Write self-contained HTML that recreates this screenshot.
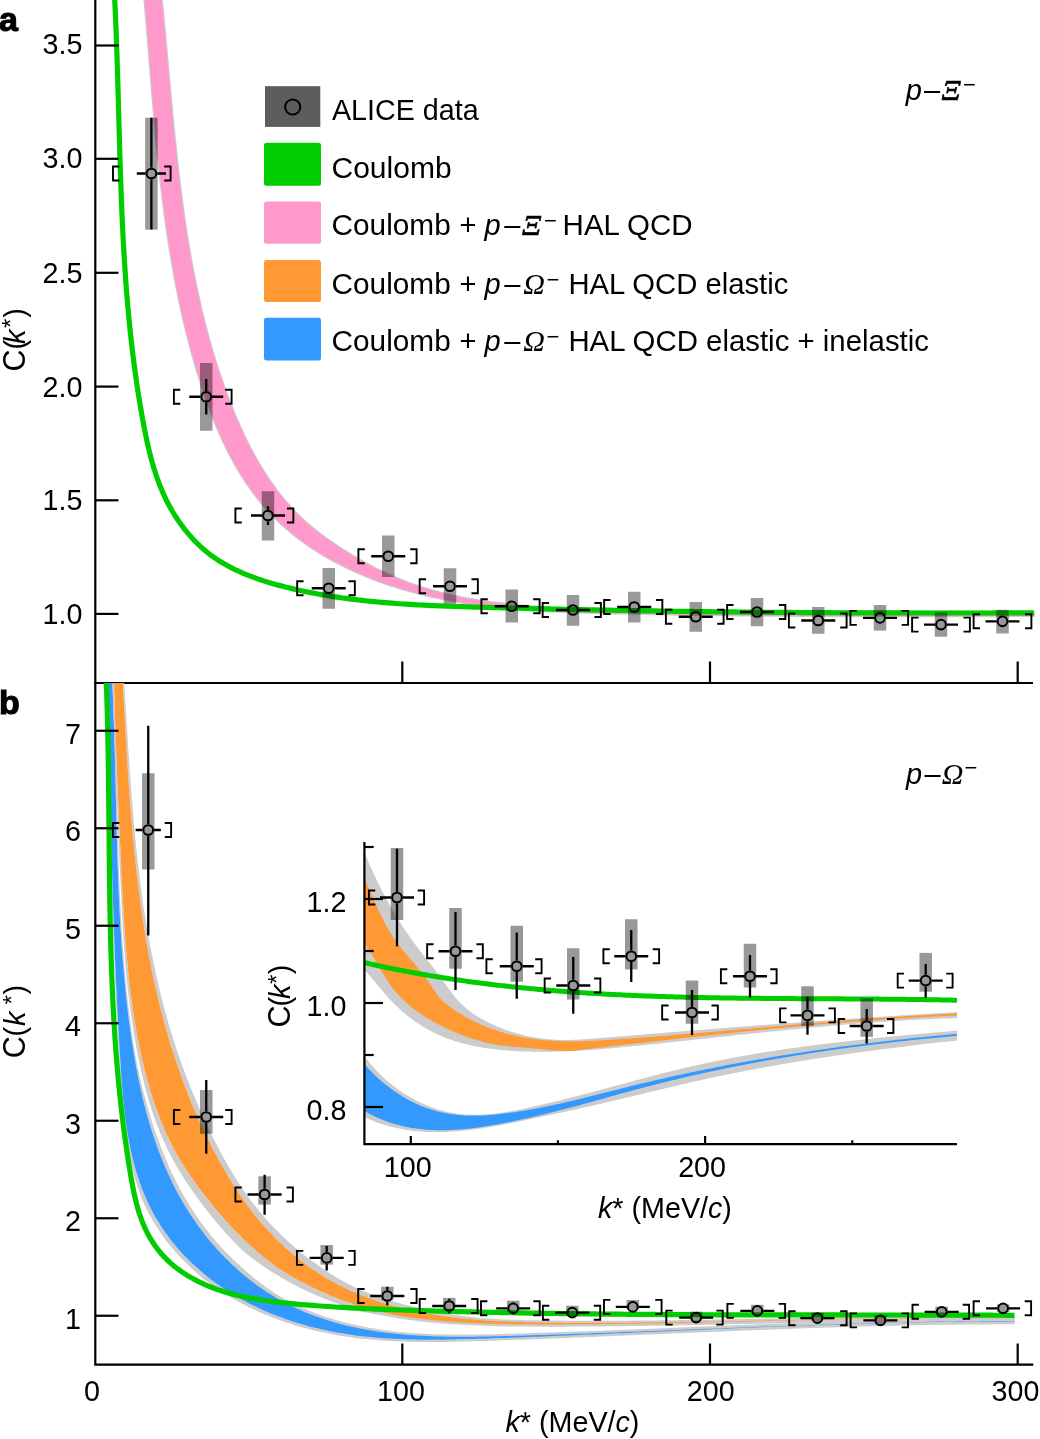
<!DOCTYPE html><html><head><meta charset="utf-8"><style>html,body{margin:0;padding:0;background:#fff;width:1040px;height:1439px;overflow:hidden}svg{display:block;will-change:transform}svg{font-family:"Liberation Sans",sans-serif}</style></head><body>
<svg width="1040" height="1439" viewBox="0 0 1040 1439">
<defs><clipPath id="ca"><rect x="96" y="0" width="944" height="682"/></clipPath><clipPath id="cb"><rect x="96" y="683" width="918.5" height="681"/></clipPath><clipPath id="ci"><rect x="365" y="842" width="592" height="301"/></clipPath></defs>
<g clip-path="url(#ca)">
<path d="M160.18,-14.87 L160.65,-10.53 L161.10,-6.19 L161.55,-1.84 L161.99,2.51 L162.43,6.86 L162.86,11.21 L163.28,15.57 L163.71,19.94 L164.12,24.30 L164.54,28.67 L164.94,33.04 L165.35,37.41 L165.76,41.78 L166.16,46.16 L166.56,50.54 L166.95,54.92 L167.35,59.30 L167.75,63.69 L168.14,68.07 L168.54,72.46 L168.94,76.85 L169.33,81.24 L169.73,85.63 L170.13,90.02 L170.54,94.41 L170.94,98.80 L171.35,103.19 L171.76,107.59 L172.18,111.98 L172.59,116.37 L173.02,120.77 L173.45,125.16 L173.88,129.55 L174.32,133.95 L174.76,138.34 L175.22,142.73 L175.68,147.12 L176.14,151.51 L176.62,155.90 L177.10,160.29 L177.59,164.67 L178.09,169.06 L178.59,173.44 L179.11,177.82 L179.64,182.20 L180.18,186.58 L180.73,190.96 L181.29,195.33 L181.86,199.70 L182.44,204.07 L183.04,208.44 L183.65,212.80 L184.27,217.16 L184.91,221.52 L185.56,225.88 L186.22,230.23 L186.90,234.58 L187.60,238.92 L188.31,243.27 L189.04,247.60 L189.78,251.94 L190.54,256.27 L191.31,260.59 L192.11,264.92 L192.92,269.23 L193.75,273.55 L194.60,277.86 L195.47,282.16 L196.36,286.46 L197.27,290.76 L198.20,295.05 L199.14,299.33 L200.12,303.61 L201.11,307.88 L202.12,312.15 L203.16,316.41 L204.22,320.67 L205.30,324.92 L206.41,329.17 L207.54,333.40 L208.69,337.64 L209.87,341.86 L211.07,346.08 L212.30,350.29 L213.56,354.50 L214.84,358.70 L216.15,362.89 L217.48,367.07 L218.85,371.25 L220.24,375.42 L221.66,379.58 L223.11,383.74 L224.59,387.89 L226.09,392.02 L227.63,396.16 L229.20,400.28 L230.79,404.39 L232.42,408.50 L234.09,412.59 L235.79,416.67 L237.52,420.73 L239.29,424.78 L241.10,428.81 L242.95,432.82 L244.85,436.81 L246.78,440.78 L248.76,444.73 L250.78,448.65 L252.85,452.54 L254.97,456.41 L257.13,460.25 L259.35,464.05 L261.61,467.83 L263.93,471.57 L266.31,475.27 L268.74,478.93 L271.22,482.56 L273.77,486.14 L276.37,489.68 L279.03,493.17 L281.75,496.61 L284.53,499.99 L287.37,503.32 L290.28,506.58 L293.25,509.79 L296.28,512.93 L299.38,516.00 L302.54,519.00 L305.77,521.95 L309.05,524.83 L312.39,527.65 L315.79,530.41 L319.23,533.12 L322.72,535.77 L326.26,538.37 L329.85,540.92 L333.47,543.42 L337.14,545.88 L340.84,548.30 L344.57,550.67 L348.34,553.00 L352.13,555.30 L355.95,557.55 L359.80,559.77 L363.68,561.95 L367.58,564.08 L371.50,566.16 L375.45,568.19 L379.42,570.18 L383.41,572.10 L387.42,573.97 L391.46,575.79 L395.51,577.54 L399.59,579.23 L403.68,580.85 L407.78,582.41 L411.91,583.91 L416.05,585.34 L420.21,586.71 L424.38,588.03 L428.57,589.29 L432.78,590.49 L436.99,591.64 L441.22,592.73 L445.47,593.78 L449.72,594.78 L453.99,595.72 L458.27,596.63 L462.56,597.48 L466.87,598.30 L471.18,599.07 L475.50,599.80 L479.83,600.49 L484.17,601.15 L488.52,601.77 L492.87,602.35 L497.23,602.91 L501.60,603.43 L505.98,603.92 L510.36,604.38 L514.74,604.82 L519.13,605.24 L523.53,605.62 L527.92,605.99 L532.32,606.34 L536.73,606.67 L541.13,606.98 L545.54,607.27 L549.95,607.55 L554.36,607.82 L558.77,608.08 L563.18,608.33 L567.58,608.56 L571.99,608.79 L576.40,609.01 L580.81,609.22 L585.21,609.43 L589.62,609.62 L594.02,609.81 L598.43,609.98 L602.83,610.15 L607.24,610.32 L611.64,610.47 L616.04,610.62 L620.45,610.76 L624.85,610.89 L629.25,611.02 L633.65,611.13 L638.05,611.25 L642.45,611.35 L646.86,611.45 L651.26,611.54 L655.66,611.63 L660.06,611.71 L664.46,611.79 L668.85,611.85 L673.25,611.92 L677.65,611.98 L682.05,612.03 L686.45,612.08 L690.85,612.12 L695.25,612.16 L699.64,612.19 L704.04,612.22 L708.44,612.25 L712.83,612.27 L717.23,612.29 L721.63,612.30 L726.02,612.31 L730.42,612.32 L734.82,612.32 L739.21,612.32 L743.61,612.32 L748.01,612.31 L752.40,612.30 L756.80,612.29 L761.19,612.28 L765.59,612.26 L769.98,612.24 L774.38,612.22 L778.78,612.20 L783.17,612.18 L787.57,612.15 L791.96,612.13 L796.36,612.10 L800.75,612.07 L805.15,612.04 L809.54,612.01 L813.94,611.98 L818.34,611.95 L822.73,611.92 L827.13,611.89 L831.52,611.86 L835.92,611.82 L840.32,611.79 L844.71,611.76 L849.11,611.73 L853.51,611.70 L857.90,611.68 L862.30,611.65 L866.70,611.62 L871.09,611.60 L875.49,611.58 L879.89,611.56 L884.29,611.54 L888.69,611.52 L893.08,611.51 L897.48,611.49 L901.88,611.48 L906.28,611.48 L910.68,611.47 L915.08,611.47 L919.48,611.47 L923.88,611.48 L928.28,611.48 L932.68,611.50 L937.08,611.51 L941.48,611.53 L945.88,611.55 L950.29,611.58 L954.69,611.61 L959.09,611.65 L963.50,611.69 L967.90,611.74 L972.30,611.79 L976.71,611.84 L981.11,611.91 L985.52,611.97 L989.93,612.04 L994.33,612.12 L998.74,612.21 L1003.15,612.30 L1007.55,612.39 L1011.96,612.49 L1016.37,612.60 L1020.78,612.72 L1025.19,612.84 L1029.60,612.97 L1034.01,613.11 L1034.02,615.95 L1029.51,615.96 L1025.01,615.98 L1020.51,615.99 L1016.01,616.01 L1011.51,616.02 L1007.01,616.03 L1002.51,616.05 L998.02,616.06 L993.53,616.07 L989.03,616.08 L984.54,616.09 L980.05,616.10 L975.56,616.11 L971.07,616.12 L966.58,616.13 L962.10,616.14 L957.61,616.15 L953.13,616.16 L948.64,616.16 L944.16,616.17 L939.68,616.18 L935.20,616.18 L930.72,616.18 L926.24,616.19 L921.76,616.19 L917.28,616.19 L912.80,616.19 L908.33,616.19 L903.85,616.19 L899.38,616.19 L894.90,616.19 L890.43,616.18 L885.95,616.18 L881.48,616.17 L877.01,616.17 L872.53,616.16 L868.06,616.15 L863.59,616.14 L859.12,616.13 L854.65,616.12 L850.18,616.11 L845.71,616.10 L841.24,616.08 L836.77,616.06 L832.30,616.05 L827.83,616.03 L823.36,616.01 L818.89,615.99 L814.42,615.97 L809.95,615.94 L805.49,615.92 L801.02,615.89 L796.55,615.87 L792.08,615.84 L787.61,615.81 L783.14,615.77 L778.67,615.74 L774.20,615.71 L769.73,615.67 L765.26,615.63 L760.79,615.59 L756.32,615.55 L751.85,615.51 L747.38,615.47 L742.91,615.42 L738.44,615.38 L733.96,615.33 L729.49,615.28 L725.02,615.22 L720.54,615.17 L716.07,615.12 L711.60,615.06 L707.12,615.00 L702.64,614.94 L698.17,614.88 L693.69,614.81 L689.21,614.75 L684.73,614.68 L680.25,614.61 L675.77,614.53 L671.29,614.46 L666.81,614.38 L662.33,614.31 L657.84,614.23 L653.36,614.14 L648.87,614.06 L644.39,613.97 L639.90,613.89 L635.41,613.80 L630.92,613.70 L626.43,613.61 L621.94,613.51 L617.45,613.41 L612.95,613.31 L608.46,613.21 L603.96,613.10 L599.46,612.99 L594.97,612.87 L590.47,612.75 L585.97,612.62 L581.47,612.49 L576.97,612.34 L572.48,612.19 L567.98,612.02 L563.48,611.84 L558.99,611.65 L554.50,611.45 L550.01,611.23 L545.52,611.00 L541.03,610.75 L536.54,610.48 L532.06,610.20 L527.58,609.89 L523.10,609.57 L518.63,609.22 L514.16,608.85 L509.69,608.46 L505.23,608.04 L500.77,607.60 L496.32,607.13 L491.87,606.64 L487.42,606.12 L482.98,605.57 L478.55,604.99 L474.12,604.37 L469.70,603.73 L465.28,603.06 L460.87,602.35 L456.46,601.60 L452.06,600.82 L447.67,600.00 L443.28,599.15 L438.91,598.26 L434.54,597.33 L430.17,596.35 L425.82,595.34 L421.47,594.28 L417.13,593.18 L412.80,592.04 L408.48,590.85 L404.17,589.62 L399.87,588.34 L395.57,587.01 L391.29,585.63 L387.02,584.20 L382.76,582.72 L378.53,581.20 L374.30,579.62 L370.10,577.99 L365.92,576.31 L361.76,574.57 L357.63,572.79 L353.52,570.95 L349.44,569.05 L345.38,567.10 L341.36,565.10 L337.37,563.04 L333.42,560.92 L329.50,558.75 L325.61,556.52 L321.77,554.24 L317.96,551.89 L314.20,549.49 L310.48,547.02 L306.81,544.50 L303.18,541.91 L299.61,539.27 L296.08,536.56 L292.60,533.79 L289.18,530.96 L285.81,528.06 L282.50,525.10 L279.25,522.08 L276.06,518.99 L272.93,515.84 L269.86,512.62 L266.85,509.34 L263.91,505.99 L261.03,502.59 L258.22,499.13 L255.47,495.62 L252.78,492.06 L250.15,488.44 L247.59,484.78 L245.09,481.08 L242.66,477.33 L240.29,473.54 L237.97,469.71 L235.72,465.84 L233.53,461.94 L231.39,458.00 L229.31,454.03 L227.28,450.03 L225.30,446.00 L223.37,441.95 L221.49,437.86 L219.66,433.75 L217.87,429.62 L216.13,425.46 L214.43,421.29 L212.77,417.09 L211.15,412.88 L209.56,408.65 L208.02,404.41 L206.50,400.16 L205.02,395.90 L203.58,391.63 L202.16,387.35 L200.77,383.06 L199.41,378.77 L198.07,374.47 L196.76,370.17 L195.48,365.86 L194.23,361.55 L193.00,357.24 L191.79,352.91 L190.61,348.59 L189.46,344.26 L188.33,339.92 L187.22,335.58 L186.14,331.24 L185.08,326.89 L184.04,322.54 L183.03,318.18 L182.03,313.82 L181.06,309.45 L180.11,305.08 L179.18,300.71 L178.27,296.33 L177.38,291.95 L176.51,287.57 L175.66,283.18 L174.83,278.79 L174.02,274.40 L173.23,270.00 L172.45,265.60 L171.69,261.19 L170.95,256.78 L170.23,252.37 L169.52,247.96 L168.82,243.54 L168.15,239.12 L167.48,234.70 L166.84,230.28 L166.21,225.85 L165.59,221.42 L164.98,216.99 L164.39,212.55 L163.81,208.12 L163.25,203.68 L162.69,199.24 L162.15,194.79 L161.62,190.35 L161.10,185.90 L160.59,181.45 L160.10,177.00 L159.61,172.55 L159.13,168.09 L158.66,163.64 L158.20,159.18 L157.75,154.72 L157.30,150.26 L156.87,145.80 L156.44,141.34 L156.02,136.87 L155.60,132.41 L155.19,127.95 L154.79,123.48 L154.39,119.01 L154.00,114.55 L153.61,110.08 L153.23,105.61 L152.85,101.14 L152.47,96.67 L152.10,92.20 L151.73,87.73 L151.36,83.26 L151.00,78.79 L150.63,74.32 L150.27,69.85 L149.91,65.38 L149.55,60.91 L149.19,56.44 L148.83,51.97 L148.47,47.50 L148.11,43.04 L147.74,38.57 L147.38,34.10 L147.01,29.63 L146.64,25.17 L146.27,20.71 L145.90,16.24 L145.52,11.78 L145.14,7.32 L144.75,2.86 L144.36,-1.60 L143.96,-6.06 L143.56,-10.51 L143.15,-14.97 Z" fill="#cccccc" stroke="#cccccc" stroke-width="2.2" stroke-linejoin="round"/>
<path d="M160.18,-14.87 L160.65,-10.53 L161.10,-6.19 L161.55,-1.84 L161.99,2.51 L162.43,6.86 L162.86,11.21 L163.28,15.57 L163.71,19.94 L164.12,24.30 L164.54,28.67 L164.94,33.04 L165.35,37.41 L165.76,41.78 L166.16,46.16 L166.56,50.54 L166.95,54.92 L167.35,59.30 L167.75,63.69 L168.14,68.07 L168.54,72.46 L168.94,76.85 L169.33,81.24 L169.73,85.63 L170.13,90.02 L170.54,94.41 L170.94,98.80 L171.35,103.19 L171.76,107.59 L172.18,111.98 L172.59,116.37 L173.02,120.77 L173.45,125.16 L173.88,129.55 L174.32,133.95 L174.76,138.34 L175.22,142.73 L175.68,147.12 L176.14,151.51 L176.62,155.90 L177.10,160.29 L177.59,164.67 L178.09,169.06 L178.59,173.44 L179.11,177.82 L179.64,182.20 L180.18,186.58 L180.73,190.96 L181.29,195.33 L181.86,199.70 L182.44,204.07 L183.04,208.44 L183.65,212.80 L184.27,217.16 L184.91,221.52 L185.56,225.88 L186.22,230.23 L186.90,234.58 L187.60,238.92 L188.31,243.27 L189.04,247.60 L189.78,251.94 L190.54,256.27 L191.31,260.59 L192.11,264.92 L192.92,269.23 L193.75,273.55 L194.60,277.86 L195.47,282.16 L196.36,286.46 L197.27,290.76 L198.20,295.05 L199.14,299.33 L200.12,303.61 L201.11,307.88 L202.12,312.15 L203.16,316.41 L204.22,320.67 L205.30,324.92 L206.41,329.17 L207.54,333.40 L208.69,337.64 L209.87,341.86 L211.07,346.08 L212.30,350.29 L213.56,354.50 L214.84,358.70 L216.15,362.89 L217.48,367.07 L218.85,371.25 L220.24,375.42 L221.66,379.58 L223.11,383.74 L224.59,387.89 L226.09,392.02 L227.63,396.16 L229.20,400.28 L230.79,404.39 L232.42,408.50 L234.09,412.59 L235.79,416.67 L237.52,420.73 L239.29,424.78 L241.10,428.81 L242.95,432.82 L244.85,436.81 L246.78,440.78 L248.76,444.73 L250.78,448.65 L252.85,452.54 L254.97,456.41 L257.13,460.25 L259.35,464.05 L261.61,467.83 L263.93,471.57 L266.31,475.27 L268.74,478.93 L271.22,482.56 L273.77,486.14 L276.37,489.68 L279.03,493.17 L281.75,496.61 L284.53,499.99 L287.37,503.32 L290.28,506.58 L293.25,509.79 L296.28,512.93 L299.38,516.00 L302.54,519.00 L305.77,521.95 L309.05,524.83 L312.39,527.65 L315.79,530.41 L319.23,533.12 L322.72,535.77 L326.26,538.37 L329.85,540.92 L333.47,543.42 L337.14,545.88 L340.84,548.30 L344.57,550.67 L348.34,553.00 L352.13,555.30 L355.95,557.55 L359.80,559.77 L363.68,561.95 L367.58,564.08 L371.50,566.16 L375.45,568.19 L379.42,570.18 L383.41,572.10 L387.42,573.97 L391.46,575.79 L395.51,577.54 L399.59,579.23 L403.68,580.85 L407.78,582.41 L411.91,583.91 L416.05,585.34 L420.21,586.71 L424.38,588.03 L428.57,589.29 L432.78,590.49 L436.99,591.64 L441.22,592.73 L445.47,593.78 L449.72,594.78 L453.99,595.72 L458.27,596.63 L462.56,597.48 L466.87,598.30 L471.18,599.07 L475.50,599.80 L479.83,600.49 L484.17,601.15 L488.52,601.77 L492.87,602.35 L497.23,602.91 L501.60,603.43 L505.98,603.92 L510.36,604.38 L514.74,604.82 L519.13,605.24 L523.53,605.62 L527.92,605.99 L532.32,606.34 L536.73,606.67 L541.13,606.98 L545.54,607.27 L549.95,607.55 L554.36,607.82 L558.77,608.08 L563.18,608.33 L567.58,608.56 L571.99,608.79 L576.40,609.01 L580.81,609.22 L585.21,609.43 L589.62,609.62 L594.02,609.81 L598.43,609.98 L602.83,610.15 L607.24,610.32 L611.64,610.47 L616.04,610.62 L620.45,610.76 L624.85,610.89 L629.25,611.02 L633.65,611.13 L638.05,611.25 L642.45,611.35 L646.86,611.45 L651.26,611.54 L655.66,611.63 L660.06,611.71 L664.46,611.79 L668.85,611.85 L673.25,611.92 L677.65,611.98 L682.05,612.03 L686.45,612.08 L690.85,612.12 L695.25,612.16 L699.64,612.19 L704.04,612.22 L708.44,612.25 L712.83,612.27 L717.23,612.29 L721.63,612.30 L726.02,612.31 L730.42,612.32 L734.82,612.32 L739.21,612.32 L743.61,612.32 L748.01,612.31 L752.40,612.30 L756.80,612.29 L761.19,612.28 L765.59,612.26 L769.98,612.24 L774.38,612.22 L778.78,612.20 L783.17,612.18 L787.57,612.15 L791.96,612.13 L796.36,612.10 L800.75,612.07 L805.15,612.04 L809.54,612.01 L813.94,611.98 L818.34,611.95 L822.73,611.92 L827.13,611.89 L831.52,611.86 L835.92,611.82 L840.32,611.79 L844.71,611.76 L849.11,611.73 L853.51,611.70 L857.90,611.68 L862.30,611.65 L866.70,611.62 L871.09,611.60 L875.49,611.58 L879.89,611.56 L884.29,611.54 L888.69,611.52 L893.08,611.51 L897.48,611.49 L901.88,611.48 L906.28,611.48 L910.68,611.47 L915.08,611.47 L919.48,611.47 L923.88,611.48 L928.28,611.48 L932.68,611.50 L937.08,611.51 L941.48,611.53 L945.88,611.55 L950.29,611.58 L954.69,611.61 L959.09,611.65 L963.50,611.69 L967.90,611.74 L972.30,611.79 L976.71,611.84 L981.11,611.91 L985.52,611.97 L989.93,612.04 L994.33,612.12 L998.74,612.21 L1003.15,612.30 L1007.55,612.39 L1011.96,612.49 L1016.37,612.60 L1020.78,612.72 L1025.19,612.84 L1029.60,612.97 L1034.01,613.11 L1034.02,615.95 L1029.51,615.96 L1025.01,615.98 L1020.51,615.99 L1016.01,616.01 L1011.51,616.02 L1007.01,616.03 L1002.51,616.05 L998.02,616.06 L993.53,616.07 L989.03,616.08 L984.54,616.09 L980.05,616.10 L975.56,616.11 L971.07,616.12 L966.58,616.13 L962.10,616.14 L957.61,616.15 L953.13,616.16 L948.64,616.16 L944.16,616.17 L939.68,616.18 L935.20,616.18 L930.72,616.18 L926.24,616.19 L921.76,616.19 L917.28,616.19 L912.80,616.19 L908.33,616.19 L903.85,616.19 L899.38,616.19 L894.90,616.19 L890.43,616.18 L885.95,616.18 L881.48,616.17 L877.01,616.17 L872.53,616.16 L868.06,616.15 L863.59,616.14 L859.12,616.13 L854.65,616.12 L850.18,616.11 L845.71,616.10 L841.24,616.08 L836.77,616.06 L832.30,616.05 L827.83,616.03 L823.36,616.01 L818.89,615.99 L814.42,615.97 L809.95,615.94 L805.49,615.92 L801.02,615.89 L796.55,615.87 L792.08,615.84 L787.61,615.81 L783.14,615.77 L778.67,615.74 L774.20,615.71 L769.73,615.67 L765.26,615.63 L760.79,615.59 L756.32,615.55 L751.85,615.51 L747.38,615.47 L742.91,615.42 L738.44,615.38 L733.96,615.33 L729.49,615.28 L725.02,615.22 L720.54,615.17 L716.07,615.12 L711.60,615.06 L707.12,615.00 L702.64,614.94 L698.17,614.88 L693.69,614.81 L689.21,614.75 L684.73,614.68 L680.25,614.61 L675.77,614.53 L671.29,614.46 L666.81,614.38 L662.33,614.31 L657.84,614.23 L653.36,614.14 L648.87,614.06 L644.39,613.97 L639.90,613.89 L635.41,613.80 L630.92,613.70 L626.43,613.61 L621.94,613.51 L617.45,613.41 L612.95,613.31 L608.46,613.21 L603.96,613.10 L599.46,612.99 L594.97,612.87 L590.47,612.75 L585.97,612.62 L581.47,612.49 L576.97,612.34 L572.48,612.19 L567.98,612.02 L563.48,611.84 L558.99,611.65 L554.50,611.45 L550.01,611.23 L545.52,611.00 L541.03,610.75 L536.54,610.48 L532.06,610.20 L527.58,609.89 L523.10,609.57 L518.63,609.22 L514.16,608.85 L509.69,608.46 L505.23,608.04 L500.77,607.60 L496.32,607.13 L491.87,606.64 L487.42,606.12 L482.98,605.57 L478.55,604.99 L474.12,604.37 L469.70,603.73 L465.28,603.06 L460.87,602.35 L456.46,601.60 L452.06,600.82 L447.67,600.00 L443.28,599.15 L438.91,598.26 L434.54,597.33 L430.17,596.35 L425.82,595.34 L421.47,594.28 L417.13,593.18 L412.80,592.04 L408.48,590.85 L404.17,589.62 L399.87,588.34 L395.57,587.01 L391.29,585.63 L387.02,584.20 L382.76,582.72 L378.53,581.20 L374.30,579.62 L370.10,577.99 L365.92,576.31 L361.76,574.57 L357.63,572.79 L353.52,570.95 L349.44,569.05 L345.38,567.10 L341.36,565.10 L337.37,563.04 L333.42,560.92 L329.50,558.75 L325.61,556.52 L321.77,554.24 L317.96,551.89 L314.20,549.49 L310.48,547.02 L306.81,544.50 L303.18,541.91 L299.61,539.27 L296.08,536.56 L292.60,533.79 L289.18,530.96 L285.81,528.06 L282.50,525.10 L279.25,522.08 L276.06,518.99 L272.93,515.84 L269.86,512.62 L266.85,509.34 L263.91,505.99 L261.03,502.59 L258.22,499.13 L255.47,495.62 L252.78,492.06 L250.15,488.44 L247.59,484.78 L245.09,481.08 L242.66,477.33 L240.29,473.54 L237.97,469.71 L235.72,465.84 L233.53,461.94 L231.39,458.00 L229.31,454.03 L227.28,450.03 L225.30,446.00 L223.37,441.95 L221.49,437.86 L219.66,433.75 L217.87,429.62 L216.13,425.46 L214.43,421.29 L212.77,417.09 L211.15,412.88 L209.56,408.65 L208.02,404.41 L206.50,400.16 L205.02,395.90 L203.58,391.63 L202.16,387.35 L200.77,383.06 L199.41,378.77 L198.07,374.47 L196.76,370.17 L195.48,365.86 L194.23,361.55 L193.00,357.24 L191.79,352.91 L190.61,348.59 L189.46,344.26 L188.33,339.92 L187.22,335.58 L186.14,331.24 L185.08,326.89 L184.04,322.54 L183.03,318.18 L182.03,313.82 L181.06,309.45 L180.11,305.08 L179.18,300.71 L178.27,296.33 L177.38,291.95 L176.51,287.57 L175.66,283.18 L174.83,278.79 L174.02,274.40 L173.23,270.00 L172.45,265.60 L171.69,261.19 L170.95,256.78 L170.23,252.37 L169.52,247.96 L168.82,243.54 L168.15,239.12 L167.48,234.70 L166.84,230.28 L166.21,225.85 L165.59,221.42 L164.98,216.99 L164.39,212.55 L163.81,208.12 L163.25,203.68 L162.69,199.24 L162.15,194.79 L161.62,190.35 L161.10,185.90 L160.59,181.45 L160.10,177.00 L159.61,172.55 L159.13,168.09 L158.66,163.64 L158.20,159.18 L157.75,154.72 L157.30,150.26 L156.87,145.80 L156.44,141.34 L156.02,136.87 L155.60,132.41 L155.19,127.95 L154.79,123.48 L154.39,119.01 L154.00,114.55 L153.61,110.08 L153.23,105.61 L152.85,101.14 L152.47,96.67 L152.10,92.20 L151.73,87.73 L151.36,83.26 L151.00,78.79 L150.63,74.32 L150.27,69.85 L149.91,65.38 L149.55,60.91 L149.19,56.44 L148.83,51.97 L148.47,47.50 L148.11,43.04 L147.74,38.57 L147.38,34.10 L147.01,29.63 L146.64,25.17 L146.27,20.71 L145.90,16.24 L145.52,11.78 L145.14,7.32 L144.75,2.86 L144.36,-1.60 L143.96,-6.06 L143.56,-10.51 L143.15,-14.97 Z" fill="#ff99cc"/>
<path d="M113.92,-15.06 L114.12,-11.48 L114.31,-7.90 L114.50,-4.33 L114.68,-0.75 L114.85,2.83 L115.02,6.40 L115.19,9.98 L115.35,13.55 L115.51,17.13 L115.66,20.70 L115.81,24.27 L115.95,27.85 L116.10,31.42 L116.23,34.99 L116.37,38.56 L116.50,42.14 L116.63,45.71 L116.75,49.28 L116.88,52.85 L117.00,56.42 L117.11,59.99 L117.23,63.56 L117.34,67.13 L117.45,70.70 L117.56,74.27 L117.67,77.84 L117.78,81.40 L117.88,84.97 L117.98,88.54 L118.09,92.11 L118.19,95.67 L118.29,99.24 L118.39,102.80 L118.49,106.37 L118.58,109.94 L118.68,113.50 L118.78,117.06 L118.88,120.63 L118.98,124.19 L119.08,127.76 L119.18,131.32 L119.28,134.88 L119.38,138.45 L119.48,142.01 L119.58,145.57 L119.69,149.13 L119.79,152.69 L119.90,156.25 L120.01,159.81 L120.12,163.37 L120.23,166.93 L120.34,170.49 L120.46,174.05 L120.58,177.61 L120.70,181.17 L120.83,184.73 L120.96,188.29 L121.09,191.85 L121.22,195.40 L121.36,198.96 L121.50,202.52 L121.64,206.07 L121.79,209.63 L121.94,213.19 L122.10,216.74 L122.26,220.30 L122.42,223.85 L122.59,227.41 L122.77,230.96 L122.95,234.51 L123.13,238.07 L123.32,241.62 L123.51,245.17 L123.71,248.73 L123.92,252.28 L124.13,255.83 L124.34,259.38 L124.57,262.94 L124.80,266.49 L125.03,270.04 L125.27,273.59 L125.52,277.14 L125.78,280.69 L126.04,284.24 L126.31,287.79 L126.58,291.34 L126.87,294.89 L127.16,298.44 L127.46,301.98 L127.76,305.53 L128.08,309.08 L128.40,312.63 L128.73,316.17 L129.07,319.72 L129.42,323.27 L129.77,326.81 L130.14,330.36 L130.51,333.91 L130.90,337.45 L131.29,341.00 L131.69,344.54 L132.10,348.09 L132.53,351.63 L132.96,355.18 L133.40,358.72 L133.85,362.26 L134.31,365.81 L134.79,369.35 L135.27,372.89 L135.76,376.43 L136.27,379.98 L136.78,383.52 L137.31,387.06 L137.85,390.60 L138.40,394.14 L138.96,397.68 L139.54,401.22 L140.12,404.76 L140.72,408.30 L141.33,411.84 L141.95,415.38 L142.59,418.92 L143.24,422.46 L143.90,426.00 L144.58,429.54 L145.28,433.07 L146.00,436.59 L146.74,440.12 L147.51,443.63 L148.31,447.13 L149.13,450.63 L150.00,454.11 L150.89,457.59 L151.83,461.05 L152.80,464.49 L153.82,467.92 L154.88,471.33 L155.99,474.72 L157.15,478.09 L158.36,481.45 L159.62,484.78 L160.94,488.08 L162.32,491.37 L163.76,494.62 L165.26,497.85 L166.83,501.05 L168.46,504.22 L170.15,507.36 L171.91,510.46 L173.73,513.52 L175.61,516.54 L177.56,519.52 L179.57,522.45 L181.64,525.33 L183.77,528.17 L185.96,530.95 L188.21,533.67 L190.52,536.34 L192.89,538.95 L195.33,541.50 L197.82,543.98 L200.37,546.39 L202.98,548.73 L205.64,551.01 L208.37,553.20 L211.15,555.33 L213.99,557.37 L216.89,559.34 L219.84,561.24 L222.83,563.07 L225.88,564.83 L228.96,566.52 L232.09,568.15 L235.27,569.72 L238.48,571.22 L241.72,572.67 L245.00,574.06 L248.31,575.40 L251.66,576.69 L255.02,577.93 L258.41,579.12 L261.83,580.27 L265.26,581.37 L268.72,582.43 L272.19,583.45 L275.67,584.43 L279.16,585.38 L282.66,586.30 L286.17,587.18 L289.68,588.04 L293.19,588.87 L296.71,589.67 L300.23,590.45 L303.75,591.20 L307.27,591.93 L310.79,592.63 L314.31,593.31 L317.84,593.97 L321.37,594.60 L324.89,595.21 L328.42,595.80 L331.96,596.37 L335.49,596.92 L339.02,597.44 L342.56,597.95 L346.09,598.44 L349.63,598.91 L353.17,599.36 L356.71,599.79 L360.25,600.20 L363.80,600.60 L367.34,600.98 L370.88,601.34 L374.43,601.69 L377.98,602.02 L381.52,602.34 L385.07,602.65 L388.62,602.94 L392.17,603.21 L395.72,603.48 L399.28,603.73 L402.83,603.97 L406.38,604.20 L409.94,604.42 L413.49,604.63 L417.05,604.82 L420.61,605.01 L424.16,605.19 L427.72,605.36 L431.28,605.53 L434.84,605.68 L438.40,605.83 L441.96,605.97 L445.52,606.11 L449.08,606.24 L452.64,606.36 L456.20,606.48 L459.76,606.60 L463.32,606.71 L466.89,606.82 L470.45,606.92 L474.01,607.03 L477.58,607.13 L481.14,607.23 L484.70,607.33 L488.26,607.43 L491.83,607.52 L495.39,607.62 L498.96,607.71 L502.52,607.81 L506.08,607.90 L509.65,607.99 L513.21,608.09 L516.78,608.18 L520.34,608.27 L523.90,608.35 L527.47,608.44 L531.03,608.53 L534.60,608.61 L538.16,608.70 L541.73,608.78 L545.29,608.86 L548.86,608.94 L552.42,609.03 L555.99,609.10 L559.55,609.18 L563.12,609.26 L566.68,609.34 L570.25,609.41 L573.82,609.49 L577.38,609.56 L580.95,609.64 L584.51,609.71 L588.08,609.78 L591.64,609.85 L595.21,609.92 L598.78,609.99 L602.34,610.06 L605.91,610.12 L609.48,610.19 L613.04,610.25 L616.61,610.32 L620.18,610.38 L623.74,610.44 L627.31,610.51 L630.88,610.57 L634.44,610.63 L638.01,610.69 L641.58,610.74 L645.14,610.80 L648.71,610.86 L652.28,610.91 L655.85,610.97 L659.41,611.02 L662.98,611.07 L666.55,611.13 L670.11,611.18 L673.68,611.23 L677.25,611.28 L680.82,611.33 L684.39,611.38 L687.95,611.42 L691.52,611.47 L695.09,611.52 L698.66,611.56 L702.22,611.61 L705.79,611.65 L709.36,611.69 L712.93,611.73 L716.49,611.78 L720.06,611.82 L723.63,611.86 L727.20,611.89 L730.77,611.93 L734.33,611.97 L737.90,612.01 L741.47,612.04 L745.04,612.08 L748.61,612.11 L752.18,612.15 L755.74,612.18 L759.31,612.21 L762.88,612.24 L766.45,612.28 L770.02,612.31 L773.58,612.34 L777.15,612.36 L780.72,612.39 L784.29,612.42 L787.86,612.45 L791.43,612.47 L794.99,612.50 L798.56,612.52 L802.13,612.55 L805.70,612.57 L809.27,612.59 L812.83,612.62 L816.40,612.64 L819.97,612.66 L823.54,612.68 L827.11,612.70 L830.67,612.72 L834.24,612.74 L837.81,612.75 L841.38,612.77 L844.95,612.79 L848.52,612.80 L852.08,612.82 L855.65,612.83 L859.22,612.85 L862.79,612.86 L866.35,612.87 L869.92,612.88 L873.49,612.90 L877.06,612.91 L880.63,612.92 L884.19,612.93 L887.76,612.94 L891.33,612.95 L894.90,612.95 L898.46,612.96 L902.03,612.97 L905.60,612.98 L909.17,612.98 L912.73,612.99 L916.30,612.99 L919.87,613.00 L923.44,613.00 L927.00,613.00 L930.57,613.01 L934.14,613.01 L937.70,613.01 L941.27,613.01 L944.84,613.01 L948.40,613.01 L951.97,613.01 L955.54,613.01 L959.10,613.01 L962.67,613.01 L966.24,613.01 L969.80,613.00 L973.37,613.00 L976.94,613.00 L980.50,612.99 L984.07,612.99 L987.64,612.98 L991.20,612.98 L994.77,612.97 L998.33,612.97 L1001.90,612.96 L1005.46,612.95 L1009.03,612.95 L1012.60,612.94 L1016.16,612.93 L1019.73,612.92 L1023.29,612.91 L1026.86,612.90 L1030.42,612.89 L1033.99,612.88" fill="none" stroke="#00cc00" stroke-width="5.2" stroke-linejoin="round"/>
</g>
<g opacity="0.4"><rect x="145.15" y="117.70" width="12.5" height="111.90" fill="#000"/><circle cx="151.40" cy="173.50" r="4.85" fill="#000"/></g><path d="M119.40,166.50 H113.00 V180.50 H119.40 M164.20,166.50 H170.60 V180.50 H164.20" fill="none" stroke="#000" stroke-width="1.9"/><path d="M136.80,173.50 H145.55 M157.25,173.50 H166.00 M151.40,117.70 V167.65 M151.40,179.35 V229.60" stroke="#000" stroke-width="2.3" fill="none"/><circle cx="151.40" cy="173.50" r="4.85" fill="none" stroke="#000" stroke-width="2"/>
<g opacity="0.4"><rect x="200.00" y="363.00" width="12.5" height="67.75" fill="#000"/><circle cx="206.25" cy="396.75" r="4.85" fill="#000"/></g><path d="M180.30,389.75 H173.90 V403.75 H180.30 M225.20,389.75 H231.60 V403.75 H225.20" fill="none" stroke="#000" stroke-width="1.9"/><path d="M189.25,396.75 H200.40 M212.10,396.75 H223.25 M206.25,379.00 V390.90 M206.25,402.60 V414.50" stroke="#000" stroke-width="2.3" fill="none"/><circle cx="206.25" cy="396.75" r="4.85" fill="none" stroke="#000" stroke-width="2"/>
<g opacity="0.4"><rect x="261.75" y="491.25" width="12.5" height="49.25" fill="#000"/><circle cx="268.00" cy="515.50" r="4.85" fill="#000"/></g><path d="M241.80,508.50 H235.40 V522.50 H241.80 M286.95,508.50 H293.35 V522.50 H286.95" fill="none" stroke="#000" stroke-width="1.9"/><path d="M251.00,515.50 H262.15 M273.85,515.50 H285.00 M268.00,506.25 V509.65 M268.00,521.35 V525.00" stroke="#000" stroke-width="2.3" fill="none"/><circle cx="268.00" cy="515.50" r="4.85" fill="none" stroke="#000" stroke-width="2"/>
<g opacity="0.4"><rect x="322.50" y="568.00" width="12.5" height="40.75" fill="#000"/><circle cx="328.75" cy="588.25" r="4.85" fill="#000"/></g><path d="M303.55,581.25 H297.15 V595.25 H303.55 M348.45,581.25 H354.85 V595.25 H348.45" fill="none" stroke="#000" stroke-width="1.9"/><path d="M311.75,588.25 H322.90 M334.60,588.25 H345.75" stroke="#000" stroke-width="2.3" fill="none"/><circle cx="328.75" cy="588.25" r="4.85" fill="none" stroke="#000" stroke-width="2"/>
<g opacity="0.4"><rect x="382.00" y="535.50" width="12.5" height="41.50" fill="#000"/><circle cx="388.25" cy="556.25" r="4.85" fill="#000"/></g><path d="M364.80,549.25 H358.40 V563.25 H364.80 M410.20,549.25 H416.60 V563.25 H410.20" fill="none" stroke="#000" stroke-width="1.9"/><path d="M371.25,556.25 H382.40 M394.10,556.25 H405.25" stroke="#000" stroke-width="2.3" fill="none"/><circle cx="388.25" cy="556.25" r="4.85" fill="none" stroke="#000" stroke-width="2"/>
<g opacity="0.4"><rect x="443.75" y="568.25" width="12.5" height="35.50" fill="#000"/><circle cx="450.00" cy="586.25" r="4.85" fill="#000"/></g><path d="M426.05,579.25 H419.65 V593.25 H426.05 M471.45,579.25 H477.85 V593.25 H471.45" fill="none" stroke="#000" stroke-width="1.9"/><path d="M433.00,586.25 H444.15 M455.85,586.25 H467.00" stroke="#000" stroke-width="2.3" fill="none"/><circle cx="450.00" cy="586.25" r="4.85" fill="none" stroke="#000" stroke-width="2"/>
<g opacity="0.4"><rect x="505.50" y="589.50" width="12.5" height="33.00" fill="#000"/><circle cx="511.75" cy="606.25" r="4.85" fill="#000"/></g><path d="M487.80,599.25 H481.40 V613.25 H487.80 M533.20,599.25 H539.60 V613.25 H533.20" fill="none" stroke="#000" stroke-width="1.9"/><path d="M494.75,606.25 H505.90 M517.60,606.25 H528.75" stroke="#000" stroke-width="2.3" fill="none"/><circle cx="511.75" cy="606.25" r="4.85" fill="none" stroke="#000" stroke-width="2"/>
<g opacity="0.4"><rect x="566.75" y="595.00" width="12.5" height="30.75" fill="#000"/><circle cx="573.00" cy="610.00" r="4.85" fill="#000"/></g><path d="M549.05,603.00 H542.65 V617.00 H549.05 M594.45,603.00 H600.85 V617.00 H594.45" fill="none" stroke="#000" stroke-width="1.9"/><path d="M556.00,610.00 H567.15 M578.85,610.00 H590.00" stroke="#000" stroke-width="2.3" fill="none"/><circle cx="573.00" cy="610.00" r="4.85" fill="none" stroke="#000" stroke-width="2"/>
<g opacity="0.4"><rect x="628.00" y="591.75" width="12.5" height="30.75" fill="#000"/><circle cx="634.25" cy="607.00" r="4.85" fill="#000"/></g><path d="M610.55,600.00 H604.15 V614.00 H610.55 M655.95,600.00 H662.35 V614.00 H655.95" fill="none" stroke="#000" stroke-width="1.9"/><path d="M617.25,607.00 H628.40 M640.10,607.00 H651.25" stroke="#000" stroke-width="2.3" fill="none"/><circle cx="634.25" cy="607.00" r="4.85" fill="none" stroke="#000" stroke-width="2"/>
<g opacity="0.4"><rect x="689.50" y="602.00" width="12.5" height="29.75" fill="#000"/><circle cx="695.75" cy="616.75" r="4.85" fill="#000"/></g><path d="M672.30,609.75 H665.90 V623.75 H672.30 M717.20,609.75 H723.60 V623.75 H717.20" fill="none" stroke="#000" stroke-width="1.9"/><path d="M678.75,616.75 H689.90 M701.60,616.75 H712.75" stroke="#000" stroke-width="2.3" fill="none"/><circle cx="695.75" cy="616.75" r="4.85" fill="none" stroke="#000" stroke-width="2"/>
<g opacity="0.4"><rect x="750.75" y="598.00" width="12.5" height="28.25" fill="#000"/><circle cx="757.00" cy="612.00" r="4.85" fill="#000"/></g><path d="M733.55,605.00 H727.15 V619.00 H733.55 M778.95,605.00 H785.35 V619.00 H778.95" fill="none" stroke="#000" stroke-width="1.9"/><path d="M740.00,612.00 H751.15 M762.85,612.00 H774.00" stroke="#000" stroke-width="2.3" fill="none"/><circle cx="757.00" cy="612.00" r="4.85" fill="none" stroke="#000" stroke-width="2"/>
<g opacity="0.4"><rect x="812.00" y="607.00" width="12.5" height="26.75" fill="#000"/><circle cx="818.25" cy="620.50" r="4.85" fill="#000"/></g><path d="M795.30,613.50 H788.90 V627.50 H795.30 M840.20,613.50 H846.60 V627.50 H840.20" fill="none" stroke="#000" stroke-width="1.9"/><path d="M801.25,620.50 H812.40 M824.10,620.50 H835.25" stroke="#000" stroke-width="2.3" fill="none"/><circle cx="818.25" cy="620.50" r="4.85" fill="none" stroke="#000" stroke-width="2"/>
<g opacity="0.4"><rect x="873.75" y="605.00" width="12.5" height="25.60" fill="#000"/><circle cx="880.00" cy="617.90" r="4.85" fill="#000"/></g><path d="M856.80,610.90 H850.40 V624.90 H856.80 M901.70,610.90 H908.10 V624.90 H901.70" fill="none" stroke="#000" stroke-width="1.9"/><path d="M863.00,617.90 H874.15 M885.85,617.90 H897.00" stroke="#000" stroke-width="2.3" fill="none"/><circle cx="880.00" cy="617.90" r="4.85" fill="none" stroke="#000" stroke-width="2"/>
<g opacity="0.4"><rect x="934.75" y="612.30" width="12.5" height="24.40" fill="#000"/><circle cx="941.00" cy="624.60" r="4.85" fill="#000"/></g><path d="M918.50,617.60 H912.10 V631.60 H918.50 M963.50,617.60 H969.90 V631.60 H963.50" fill="none" stroke="#000" stroke-width="1.9"/><path d="M924.00,624.60 H935.15 M946.85,624.60 H958.00" stroke="#000" stroke-width="2.3" fill="none"/><circle cx="941.00" cy="624.60" r="4.85" fill="none" stroke="#000" stroke-width="2"/>
<g opacity="0.4"><rect x="996.25" y="609.80" width="12.5" height="23.70" fill="#000"/><circle cx="1002.50" cy="621.30" r="4.85" fill="#000"/></g><path d="M980.00,614.30 H973.60 V628.30 H980.00 M1025.00,614.30 H1031.40 V628.30 H1025.00" fill="none" stroke="#000" stroke-width="1.9"/><path d="M985.50,621.30 H996.65 M1008.35,621.30 H1019.50" stroke="#000" stroke-width="2.3" fill="none"/><circle cx="1002.50" cy="621.30" r="4.85" fill="none" stroke="#000" stroke-width="2"/>
<path d="M95.3,0 V683 H1033" fill="none" stroke="#000" stroke-width="2.2"/>
<line x1="95.30" y1="613.90" x2="118.50" y2="613.90" stroke="#000" stroke-width="2.2"/>
<text x="82.5" y="623.90" font-size="28.7" text-anchor="end">1.0</text>
<line x1="95.30" y1="500.30" x2="118.50" y2="500.30" stroke="#000" stroke-width="2.2"/>
<text x="82.5" y="510.20" font-size="28.7" text-anchor="end">1.5</text>
<line x1="95.30" y1="386.60" x2="118.50" y2="386.60" stroke="#000" stroke-width="2.2"/>
<text x="82.5" y="396.50" font-size="28.7" text-anchor="end">2.0</text>
<line x1="95.30" y1="272.80" x2="118.50" y2="272.80" stroke="#000" stroke-width="2.2"/>
<text x="82.5" y="282.80" font-size="28.7" text-anchor="end">2.5</text>
<line x1="95.30" y1="158.80" x2="118.50" y2="158.80" stroke="#000" stroke-width="2.2"/>
<text x="82.5" y="167.80" font-size="28.7" text-anchor="end">3.0</text>
<line x1="95.30" y1="45.50" x2="118.50" y2="45.50" stroke="#000" stroke-width="2.2"/>
<text x="82.5" y="54.30" font-size="28.7" text-anchor="end">3.5</text>
<line x1="402.30" y1="683.00" x2="402.30" y2="661.50" stroke="#000" stroke-width="2.2"/>
<line x1="710.00" y1="683.00" x2="710.00" y2="661.50" stroke="#000" stroke-width="2.2"/>
<line x1="1017.70" y1="683.00" x2="1017.70" y2="661.50" stroke="#000" stroke-width="2.2"/>
<g clip-path="url(#cb)">
<path d="M110.65,654.95 L110.81,657.36 L110.96,659.78 L111.10,662.19 L111.25,664.61 L111.39,667.03 L111.52,669.44 L111.66,671.86 L111.79,674.27 L111.92,676.69 L112.04,679.10 L112.16,681.52 L112.28,683.93 L112.40,686.34 L112.51,688.76 L112.63,691.17 L112.74,693.58 L112.84,696.00 L112.95,698.41 L113.05,700.82 L113.15,703.24 L113.25,705.65 L113.34,708.06 L113.43,710.47 L113.52,712.88 L113.61,715.30 L113.70,717.71 L113.79,720.12 L113.87,722.53 L113.95,724.94 L114.03,727.35 L114.11,729.76 L114.19,732.17 L114.26,734.58 L114.33,736.99 L114.41,739.40 L114.48,741.81 L114.55,744.22 L114.61,746.63 L114.68,749.04 L114.75,751.45 L114.81,753.86 L114.88,756.27 L114.94,758.68 L115.00,761.09 L115.06,763.50 L115.12,765.90 L115.18,768.31 L115.24,770.72 L115.30,773.13 L115.36,775.54 L115.41,777.94 L115.47,780.35 L115.53,782.76 L115.58,785.16 L115.64,787.57 L115.70,789.98 L115.75,792.39 L115.81,794.79 L115.86,797.20 L115.92,799.61 L115.97,802.01 L116.03,804.42 L116.09,806.82 L116.14,809.23 L116.20,811.64 L116.25,814.04 L116.31,816.45 L116.37,818.85 L116.43,821.26 L116.49,823.66 L116.55,826.07 L116.61,828.47 L116.67,830.88 L116.73,833.28 L116.79,835.69 L116.86,838.09 L116.92,840.50 L116.99,842.90 L117.06,845.31 L117.12,847.71 L117.19,850.11 L117.27,852.52 L117.34,854.92 L117.41,857.33 L117.49,859.73 L117.56,862.13 L117.64,864.54 L117.72,866.94 L117.80,869.34 L117.89,871.75 L117.97,874.15 L118.06,876.55 L118.15,878.96 L118.24,881.36 L118.33,883.76 L118.43,886.17 L118.53,888.57 L118.63,890.97 L118.73,893.37 L118.83,895.78 L118.94,898.18 L119.05,900.58 L119.16,902.99 L119.28,905.39 L119.40,907.79 L119.52,910.19 L119.64,912.59 L119.76,915.00 L119.89,917.40 L120.02,919.80 L120.16,922.20 L120.30,924.61 L120.44,927.01 L120.58,929.41 L120.73,931.81 L120.88,934.21 L121.03,936.62 L121.19,939.02 L121.35,941.42 L121.51,943.82 L121.68,946.22 L121.85,948.62 L122.03,951.03 L122.21,953.43 L122.39,955.83 L122.58,958.23 L122.77,960.63 L122.96,963.03 L123.16,965.44 L123.36,967.84 L123.57,970.24 L123.78,972.64 L124.00,975.04 L124.22,977.44 L124.44,979.84 L124.67,982.25 L124.90,984.65 L125.14,987.05 L125.38,989.45 L125.63,991.85 L125.88,994.25 L126.14,996.66 L126.40,999.06 L126.67,1001.46 L126.94,1003.86 L127.22,1006.26 L127.50,1008.66 L127.78,1011.06 L128.08,1013.47 L128.37,1015.87 L128.68,1018.27 L128.98,1020.67 L129.30,1023.07 L129.62,1025.47 L129.94,1027.87 L130.27,1030.28 L130.61,1032.68 L130.95,1035.08 L131.30,1037.48 L131.66,1039.88 L132.02,1042.28 L132.39,1044.67 L132.76,1047.07 L133.14,1049.47 L133.53,1051.86 L133.93,1054.26 L134.33,1056.65 L134.75,1059.04 L135.17,1061.43 L135.59,1063.81 L136.03,1066.20 L136.47,1068.58 L136.92,1070.96 L137.39,1073.34 L137.85,1075.72 L138.33,1078.10 L138.82,1080.47 L139.32,1082.84 L139.82,1085.20 L140.34,1087.57 L140.86,1089.93 L141.40,1092.29 L141.94,1094.64 L142.49,1096.99 L143.06,1099.34 L143.63,1101.69 L144.22,1104.03 L144.81,1106.37 L145.42,1108.70 L146.04,1111.03 L146.67,1113.35 L147.31,1115.68 L147.96,1117.99 L148.62,1120.31 L149.30,1122.61 L149.98,1124.92 L150.68,1127.22 L151.39,1129.51 L152.11,1131.80 L152.85,1134.08 L153.60,1136.36 L154.36,1138.64 L155.13,1140.91 L155.92,1143.17 L156.72,1145.43 L157.53,1147.68 L158.36,1149.92 L159.20,1152.16 L160.05,1154.40 L160.92,1156.63 L161.80,1158.85 L162.70,1161.06 L163.61,1163.27 L164.53,1165.47 L165.47,1167.67 L166.43,1169.86 L167.40,1172.04 L168.38,1174.22 L169.38,1176.38 L170.40,1178.54 L171.43,1180.70 L172.48,1182.84 L173.54,1184.98 L174.62,1187.11 L175.72,1189.23 L176.83,1191.35 L177.96,1193.46 L179.10,1195.55 L180.26,1197.64 L181.44,1199.73 L182.64,1201.80 L183.85,1203.87 L185.08,1205.92 L186.33,1207.97 L187.60,1210.01 L188.88,1212.04 L190.18,1214.06 L191.50,1216.07 L192.84,1218.07 L194.20,1220.06 L195.57,1222.05 L196.96,1224.02 L198.37,1225.98 L199.80,1227.93 L201.25,1229.87 L202.71,1231.80 L204.19,1233.72 L205.68,1235.62 L207.20,1237.51 L208.73,1239.39 L210.28,1241.26 L211.84,1243.11 L213.42,1244.95 L215.02,1246.78 L216.63,1248.60 L218.26,1250.39 L219.91,1252.18 L221.57,1253.95 L223.25,1255.71 L224.94,1257.45 L226.65,1259.17 L228.38,1260.88 L230.12,1262.57 L231.88,1264.25 L233.65,1265.91 L235.43,1267.55 L237.24,1269.17 L239.05,1270.78 L240.88,1272.37 L242.73,1273.94 L244.59,1275.50 L246.46,1277.03 L248.35,1278.55 L250.26,1280.05 L252.17,1281.53 L254.11,1282.98 L256.05,1284.42 L258.01,1285.84 L259.98,1287.24 L261.97,1288.62 L263.97,1289.97 L265.98,1291.31 L268.01,1292.63 L270.04,1293.92 L272.10,1295.20 L274.16,1296.45 L276.24,1297.68 L278.32,1298.89 L280.42,1300.08 L282.54,1301.25 L284.66,1302.39 L286.80,1303.51 L288.95,1304.61 L291.11,1305.69 L293.28,1306.74 L295.46,1307.78 L297.65,1308.79 L299.85,1309.77 L302.06,1310.74 L304.28,1311.68 L306.51,1312.60 L308.74,1313.51 L310.99,1314.39 L313.23,1315.24 L315.49,1316.08 L317.75,1316.90 L320.02,1317.69 L322.29,1318.47 L324.56,1319.22 L326.84,1319.96 L329.12,1320.67 L331.41,1321.37 L333.70,1322.05 L336.00,1322.70 L338.30,1323.34 L340.60,1323.96 L342.91,1324.56 L345.22,1325.15 L347.54,1325.71 L349.86,1326.26 L352.18,1326.79 L354.50,1327.30 L356.83,1327.80 L359.17,1328.28 L361.51,1328.74 L363.85,1329.19 L366.19,1329.62 L368.54,1330.04 L370.89,1330.44 L373.24,1330.83 L375.59,1331.20 L377.95,1331.56 L380.32,1331.90 L382.68,1332.23 L385.05,1332.54 L387.42,1332.84 L389.79,1333.13 L392.17,1333.40 L394.55,1333.66 L396.93,1333.91 L399.31,1334.15 L401.69,1334.37 L404.08,1334.58 L406.47,1334.78 L408.86,1334.97 L411.26,1335.15 L413.65,1335.32 L416.05,1335.47 L418.45,1335.62 L420.85,1335.76 L423.26,1335.88 L425.66,1336.00 L428.07,1336.10 L430.48,1336.20 L432.89,1336.29 L435.30,1336.37 L437.71,1336.44 L440.13,1336.51 L442.54,1336.56 L444.96,1336.61 L447.38,1336.65 L449.80,1336.68 L452.22,1336.71 L454.64,1336.73 L457.06,1336.74 L459.48,1336.75 L461.91,1336.75 L464.33,1336.75 L466.76,1336.73 L469.18,1336.72 L471.61,1336.70 L474.04,1336.67 L476.46,1336.64 L478.89,1336.61 L481.32,1336.57 L483.74,1336.53 L486.17,1336.49 L488.60,1336.44 L491.03,1336.39 L493.46,1336.33 L495.88,1336.28 L498.31,1336.22 L500.74,1336.16 L503.17,1336.09 L505.59,1336.03 L508.02,1335.96 L510.45,1335.90 L512.87,1335.83 L515.30,1335.76 L517.72,1335.69 L520.15,1335.63 L522.57,1335.56 L524.99,1335.48 L527.41,1335.41 L529.84,1335.34 L532.26,1335.27 L534.68,1335.19 L537.10,1335.12 L539.52,1335.05 L541.94,1334.97 L544.36,1334.89 L546.78,1334.82 L549.19,1334.74 L551.61,1334.66 L554.03,1334.58 L556.44,1334.51 L558.86,1334.43 L561.28,1334.35 L563.69,1334.26 L566.11,1334.18 L568.52,1334.10 L570.94,1334.02 L573.35,1333.94 L575.76,1333.85 L578.18,1333.77 L580.59,1333.69 L583.00,1333.60 L585.41,1333.52 L587.82,1333.43 L590.23,1333.34 L592.64,1333.26 L595.06,1333.17 L597.47,1333.08 L599.87,1333.00 L602.28,1332.91 L604.69,1332.82 L607.10,1332.73 L609.51,1332.64 L611.92,1332.55 L614.33,1332.46 L616.73,1332.37 L619.14,1332.28 L621.55,1332.19 L623.95,1332.10 L626.36,1332.01 L628.77,1331.92 L631.17,1331.82 L633.58,1331.73 L635.98,1331.64 L638.39,1331.55 L640.79,1331.46 L643.20,1331.36 L645.60,1331.27 L648.00,1331.18 L650.41,1331.08 L652.81,1330.99 L655.21,1330.89 L657.62,1330.80 L660.02,1330.71 L662.42,1330.61 L664.82,1330.52 L667.23,1330.42 L669.63,1330.33 L672.03,1330.23 L674.43,1330.14 L676.83,1330.05 L679.24,1329.95 L681.64,1329.86 L684.04,1329.76 L686.44,1329.67 L688.84,1329.57 L691.24,1329.48 L693.64,1329.38 L696.04,1329.29 L698.44,1329.19 L700.84,1329.10 L703.24,1329.00 L705.64,1328.91 L708.04,1328.81 L710.44,1328.72 L712.84,1328.62 L715.24,1328.53 L717.64,1328.43 L720.04,1328.34 L722.44,1328.25 L724.84,1328.15 L727.24,1328.06 L729.64,1327.97 L732.04,1327.87 L734.44,1327.78 L736.84,1327.69 L739.23,1327.59 L741.63,1327.50 L744.03,1327.41 L746.43,1327.32 L748.83,1327.22 L751.23,1327.13 L753.63,1327.04 L756.03,1326.95 L758.43,1326.86 L760.83,1326.77 L763.23,1326.68 L765.63,1326.59 L768.02,1326.50 L770.42,1326.41 L772.82,1326.32 L775.22,1326.23 L777.62,1326.14 L780.02,1326.06 L782.42,1325.97 L784.82,1325.88 L787.22,1325.80 L789.62,1325.71 L792.02,1325.62 L794.42,1325.54 L796.82,1325.45 L799.22,1325.37 L801.62,1325.29 L804.02,1325.20 L806.42,1325.12 L808.82,1325.04 L811.23,1324.96 L813.63,1324.87 L816.03,1324.79 L818.43,1324.71 L820.83,1324.63 L823.23,1324.55 L825.64,1324.48 L828.04,1324.40 L830.44,1324.32 L832.84,1324.24 L835.25,1324.17 L837.65,1324.09 L840.05,1324.02 L842.46,1323.94 L844.86,1323.87 L847.26,1323.80 L849.67,1323.72 L852.07,1323.65 L854.48,1323.58 L856.88,1323.51 L859.29,1323.44 L861.69,1323.37 L864.10,1323.31 L866.50,1323.24 L868.91,1323.17 L871.32,1323.11 L873.72,1323.04 L876.13,1322.98 L878.54,1322.91 L880.94,1322.85 L883.35,1322.79 L885.76,1322.73 L888.17,1322.67 L890.58,1322.61 L892.99,1322.55 L895.40,1322.49 L897.81,1322.44 L900.22,1322.38 L902.63,1322.33 L905.04,1322.27 L907.45,1322.22 L909.86,1322.17 L912.27,1322.12 L914.69,1322.07 L917.10,1322.02 L919.51,1321.97 L921.93,1321.92 L924.34,1321.88 L926.75,1321.83 L929.17,1321.79 L931.58,1321.75 L934.00,1321.70 L936.42,1321.66 L938.83,1321.62 L941.25,1321.58 L943.67,1321.55 L946.08,1321.51 L948.50,1321.47 L950.92,1321.44 L953.34,1321.41 L955.76,1321.37 L958.18,1321.34 L960.60,1321.31 L963.02,1321.28 L965.44,1321.26 L967.87,1321.23 L970.29,1321.20 L972.71,1321.18 L975.14,1321.16 L977.56,1321.14 L979.99,1321.12 L982.41,1321.10 L984.84,1321.08 L987.26,1321.06 L989.69,1321.05 L992.12,1321.03 L994.55,1321.02 L996.98,1321.01 L999.40,1321.00 L1001.83,1320.99 L1004.26,1320.98 L1006.70,1320.98 L1009.13,1320.97 L1011.56,1320.97 L1013.99,1320.97 L1016.43,1320.97 L1018.86,1320.97 L1021.29,1320.97 L1021.30,1318.30 L1018.86,1318.30 L1016.43,1318.30 L1013.99,1318.30 L1011.56,1318.30 L1009.12,1318.31 L1006.69,1318.31 L1004.26,1318.32 L1001.83,1318.33 L999.39,1318.33 L996.96,1318.34 L994.53,1318.36 L992.10,1318.37 L989.67,1318.38 L987.25,1318.40 L984.82,1318.42 L982.39,1318.43 L979.96,1318.45 L977.54,1318.47 L975.11,1318.50 L972.69,1318.52 L970.26,1318.54 L967.84,1318.57 L965.42,1318.60 L962.99,1318.62 L960.57,1318.65 L958.15,1318.68 L955.73,1318.72 L953.31,1318.75 L950.88,1318.78 L948.46,1318.82 L946.04,1318.85 L943.63,1318.89 L941.21,1318.93 L938.79,1318.97 L936.37,1319.01 L933.95,1319.05 L931.54,1319.09 L929.12,1319.14 L926.70,1319.18 L924.29,1319.23 L921.87,1319.28 L919.46,1319.32 L917.04,1319.37 L914.63,1319.42 L912.22,1319.47 L909.80,1319.52 L907.39,1319.58 L904.98,1319.63 L902.57,1319.69 L900.16,1319.74 L897.74,1319.80 L895.33,1319.86 L892.92,1319.91 L890.51,1319.97 L888.10,1320.03 L885.69,1320.09 L883.28,1320.16 L880.88,1320.22 L878.47,1320.28 L876.06,1320.35 L873.65,1320.41 L871.24,1320.48 L868.84,1320.54 L866.43,1320.61 L864.02,1320.68 L861.62,1320.75 L859.21,1320.82 L856.80,1320.89 L854.40,1320.96 L851.99,1321.03 L849.59,1321.11 L847.18,1321.18 L844.78,1321.25 L842.37,1321.33 L839.97,1321.40 L837.57,1321.48 L835.16,1321.56 L832.76,1321.63 L830.36,1321.71 L827.95,1321.79 L825.55,1321.87 L823.15,1321.95 L820.75,1322.03 L818.34,1322.11 L815.94,1322.19 L813.54,1322.27 L811.14,1322.36 L808.74,1322.44 L806.33,1322.53 L803.93,1322.61 L801.53,1322.70 L799.13,1322.79 L796.73,1322.87 L794.33,1322.96 L791.93,1323.05 L789.53,1323.14 L787.13,1323.23 L784.73,1323.32 L782.33,1323.41 L779.93,1323.50 L777.53,1323.59 L775.13,1323.68 L772.73,1323.78 L770.33,1323.87 L767.93,1323.96 L765.53,1324.05 L763.13,1324.15 L760.73,1324.24 L758.33,1324.34 L755.93,1324.43 L753.53,1324.52 L751.13,1324.62 L748.73,1324.72 L746.34,1324.81 L743.94,1324.91 L741.54,1325.00 L739.14,1325.10 L736.74,1325.20 L734.34,1325.29 L731.94,1325.39 L729.54,1325.49 L727.14,1325.58 L724.74,1325.68 L722.34,1325.78 L719.94,1325.88 L717.54,1325.97 L715.14,1326.07 L712.74,1326.17 L710.35,1326.27 L707.95,1326.37 L705.55,1326.47 L703.15,1326.56 L700.75,1326.66 L698.35,1326.76 L695.95,1326.86 L693.55,1326.96 L691.14,1327.06 L688.74,1327.16 L686.34,1327.25 L683.94,1327.35 L681.54,1327.45 L679.14,1327.55 L676.74,1327.65 L674.34,1327.75 L671.94,1327.85 L669.54,1327.94 L667.13,1328.04 L664.73,1328.14 L662.33,1328.24 L659.93,1328.34 L657.52,1328.43 L655.12,1328.53 L652.72,1328.63 L650.32,1328.73 L647.91,1328.82 L645.51,1328.92 L643.10,1329.02 L640.70,1329.12 L638.30,1329.21 L635.89,1329.31 L633.49,1329.40 L631.08,1329.50 L628.68,1329.60 L626.27,1329.69 L623.87,1329.79 L621.46,1329.88 L619.05,1329.97 L616.65,1330.07 L614.24,1330.16 L611.83,1330.26 L609.42,1330.35 L607.02,1330.44 L604.61,1330.53 L602.20,1330.63 L599.79,1330.72 L597.38,1330.81 L594.97,1330.90 L592.56,1330.99 L590.15,1331.08 L587.74,1331.17 L585.33,1331.26 L582.92,1331.35 L580.51,1331.43 L578.10,1331.52 L575.68,1331.61 L573.27,1331.70 L570.86,1331.78 L568.45,1331.87 L566.03,1331.95 L563.62,1332.04 L561.20,1332.12 L558.79,1332.20 L556.37,1332.29 L553.96,1332.37 L551.54,1332.45 L549.12,1332.53 L546.70,1332.61 L544.29,1332.69 L541.87,1332.77 L539.45,1332.85 L537.03,1332.93 L534.61,1333.00 L532.19,1333.08 L529.77,1333.16 L527.35,1333.23 L524.93,1333.31 L522.51,1333.38 L520.08,1333.45 L517.66,1333.52 L515.24,1333.59 L512.81,1333.67 L510.39,1333.74 L507.96,1333.80 L505.54,1333.87 L503.11,1333.94 L500.69,1334.00 L498.26,1334.07 L495.83,1334.13 L493.41,1334.19 L490.98,1334.24 L488.56,1334.30 L486.13,1334.35 L483.71,1334.39 L481.28,1334.44 L478.86,1334.47 L476.43,1334.51 L474.01,1334.54 L471.59,1334.57 L469.17,1334.59 L466.75,1334.60 L464.33,1334.61 L461.91,1334.62 L459.49,1334.62 L457.07,1334.61 L454.65,1334.60 L452.24,1334.58 L449.82,1334.55 L447.41,1334.52 L445.00,1334.47 L442.59,1334.42 L440.18,1334.37 L437.77,1334.30 L435.37,1334.23 L432.96,1334.14 L430.56,1334.05 L428.16,1333.95 L425.76,1333.84 L423.37,1333.72 L420.97,1333.59 L418.58,1333.45 L416.19,1333.30 L413.80,1333.14 L411.42,1332.96 L409.03,1332.78 L406.65,1332.58 L404.27,1332.37 L401.90,1332.16 L399.52,1331.92 L397.15,1331.68 L394.79,1331.42 L392.42,1331.15 L390.06,1330.87 L387.70,1330.57 L385.34,1330.26 L382.99,1329.94 L380.64,1329.60 L378.30,1329.24 L375.95,1328.87 L373.61,1328.49 L371.28,1328.09 L368.95,1327.68 L366.62,1327.25 L364.29,1326.80 L361.97,1326.34 L359.66,1325.86 L357.35,1325.37 L355.04,1324.85 L352.73,1324.32 L350.43,1323.78 L348.14,1323.21 L345.85,1322.63 L343.56,1322.04 L341.27,1321.43 L338.99,1320.81 L336.71,1320.16 L334.44,1319.50 L332.17,1318.82 L329.91,1318.12 L327.65,1317.40 L325.40,1316.66 L323.15,1315.91 L320.90,1315.13 L318.67,1314.33 L316.43,1313.51 L314.21,1312.66 L311.98,1311.80 L309.77,1310.92 L307.57,1310.01 L305.37,1309.09 L303.18,1308.14 L301.00,1307.17 L298.83,1306.18 L296.67,1305.17 L294.53,1304.14 L292.39,1303.08 L290.27,1302.00 L288.15,1300.90 L286.05,1299.77 L283.96,1298.63 L281.89,1297.46 L279.84,1296.24 L277.81,1294.99 L275.79,1293.72 L273.79,1292.44 L271.80,1291.12 L269.83,1289.79 L267.87,1288.44 L265.92,1287.07 L263.99,1285.67 L262.07,1284.26 L260.17,1282.83 L258.28,1281.37 L256.41,1279.90 L254.55,1278.41 L252.71,1276.89 L250.89,1275.36 L249.08,1273.81 L247.28,1272.24 L245.50,1270.66 L243.74,1269.05 L241.99,1267.43 L240.23,1265.82 L238.45,1264.24 L236.69,1262.63 L234.94,1261.01 L233.20,1259.37 L231.49,1257.71 L229.78,1256.04 L228.09,1254.35 L226.41,1252.65 L224.75,1250.93 L223.11,1249.20 L221.48,1247.45 L219.87,1245.69 L218.27,1243.92 L216.69,1242.13 L215.12,1240.32 L213.57,1238.50 L212.04,1236.67 L210.52,1234.83 L209.02,1232.98 L207.53,1231.11 L206.06,1229.23 L204.61,1227.34 L203.18,1225.44 L201.76,1223.52 L200.36,1221.60 L198.98,1219.66 L197.61,1217.72 L196.26,1215.76 L194.93,1213.80 L193.62,1211.82 L192.32,1209.84 L191.05,1207.85 L189.79,1205.84 L188.54,1203.83 L187.32,1201.81 L186.11,1199.78 L184.91,1197.74 L183.73,1195.70 L182.57,1193.65 L181.42,1191.58 L180.29,1189.51 L179.17,1187.44 L178.07,1185.35 L176.98,1183.25 L175.91,1181.15 L174.86,1179.04 L173.82,1176.92 L172.80,1174.79 L171.79,1172.66 L170.79,1170.52 L169.81,1168.37 L168.85,1166.21 L167.90,1164.05 L166.96,1161.88 L166.04,1159.70 L165.13,1157.51 L164.24,1155.32 L163.36,1153.12 L162.49,1150.92 L161.64,1148.71 L160.77,1146.50 L159.91,1144.29 L159.06,1142.07 L158.23,1139.84 L157.41,1137.61 L156.60,1135.37 L155.81,1133.12 L155.03,1130.87 L154.25,1128.62 L153.49,1126.35 L152.75,1124.09 L152.01,1121.81 L151.29,1119.53 L150.57,1117.25 L149.87,1114.96 L149.18,1112.67 L148.50,1110.37 L147.83,1108.07 L147.17,1105.76 L146.52,1103.45 L145.88,1101.13 L145.26,1098.81 L144.64,1096.48 L144.03,1094.15 L143.43,1091.82 L142.84,1089.48 L142.27,1087.14 L141.70,1084.80 L141.13,1082.45 L140.58,1080.10 L140.04,1077.75 L139.51,1075.39 L138.98,1073.03 L138.46,1070.67 L137.96,1068.30 L137.46,1065.94 L136.96,1063.57 L136.48,1061.19 L136.03,1058.82 L135.61,1056.43 L135.21,1054.04 L134.81,1051.65 L134.42,1049.26 L134.03,1046.87 L133.65,1044.48 L133.28,1042.08 L132.92,1039.69 L132.56,1037.29 L132.21,1034.90 L131.87,1032.50 L131.53,1030.10 L131.20,1027.70 L130.87,1025.31 L130.55,1022.91 L130.23,1020.51 L129.92,1018.11 L129.62,1015.71 L129.32,1013.31 L129.02,1010.91 L128.73,1008.52 L128.45,1006.12 L128.17,1003.72 L127.90,1001.32 L127.63,998.92 L127.37,996.52 L127.11,994.12 L126.85,991.73 L126.60,989.33 L126.36,986.93 L126.12,984.53 L125.88,982.13 L125.65,979.73 L125.42,977.33 L125.20,974.93 L124.98,972.53 L124.77,970.13 L124.56,967.74 L124.36,965.34 L124.16,962.94 L123.96,960.54 L123.77,958.14 L123.58,955.74 L123.39,953.34 L123.21,950.94 L123.03,948.54 L122.86,946.14 L122.69,943.74 L122.52,941.34 L122.36,938.94 L122.20,936.54 L122.04,934.14 L121.89,931.74 L121.74,929.34 L121.59,926.94 L121.45,924.54 L121.31,922.14 L121.17,919.74 L121.04,917.34 L120.91,914.94 L120.78,912.54 L120.65,910.14 L120.53,907.73 L120.41,905.33 L120.30,902.93 L120.18,900.53 L120.07,898.13 L119.96,895.73 L119.85,893.33 L119.75,890.93 L119.64,888.52 L119.54,886.12 L119.45,883.72 L119.35,881.32 L119.26,878.92 L119.16,876.51 L119.07,874.11 L118.99,871.71 L118.90,869.31 L118.82,866.90 L118.73,864.50 L118.65,862.10 L118.57,859.70 L118.50,857.29 L118.42,854.89 L118.34,852.49 L118.27,850.08 L118.20,847.68 L118.13,845.28 L118.06,842.87 L117.99,840.47 L117.92,838.06 L117.85,835.66 L117.79,833.26 L117.72,830.85 L117.66,828.45 L117.60,826.04 L117.54,823.64 L117.47,821.23 L117.41,818.83 L117.35,816.42 L117.29,814.02 L117.23,811.61 L117.17,809.21 L117.12,806.80 L117.06,804.39 L117.00,801.99 L116.94,799.58 L116.88,797.18 L116.82,794.77 L116.77,792.36 L116.71,789.96 L116.65,787.55 L116.59,785.14 L116.53,782.73 L116.47,780.33 L116.41,777.92 L116.35,775.51 L116.29,773.10 L116.23,770.70 L116.17,768.29 L116.11,765.88 L116.05,763.47 L115.98,761.06 L115.92,758.65 L115.85,756.24 L115.79,753.83 L115.72,751.43 L115.65,749.02 L115.58,746.61 L115.51,744.20 L115.44,741.79 L115.36,739.38 L115.29,736.96 L115.21,734.55 L115.14,732.14 L115.06,729.73 L114.98,727.32 L114.89,724.91 L114.81,722.50 L114.72,720.09 L114.64,717.67 L114.55,715.26 L114.45,712.85 L114.36,710.44 L114.27,708.02 L114.17,705.61 L114.07,703.20 L113.97,700.78 L113.86,698.37 L113.75,695.96 L113.64,693.54 L113.53,691.13 L113.42,688.71 L113.30,686.30 L113.18,683.89 L113.06,681.47 L112.94,679.05 L112.81,676.64 L112.69,674.22 L112.56,671.81 L112.42,669.39 L112.28,666.97 L112.14,664.56 L112.00,662.14 L111.85,659.72 L111.70,657.31 L111.55,654.89 Z" fill="#cccccc"/>
<path d="M108.47,654.84 L108.50,657.32 L108.53,659.81 L108.56,662.29 L108.59,664.77 L108.62,667.25 L108.65,669.74 L108.68,672.22 L108.70,674.70 L108.73,677.18 L108.76,679.65 L108.79,682.13 L108.82,684.61 L108.85,687.08 L108.88,689.56 L108.91,692.04 L108.94,694.51 L108.97,696.98 L109.00,699.46 L109.03,701.93 L109.06,704.40 L109.09,706.87 L109.13,709.34 L109.16,711.81 L109.19,714.28 L109.22,716.75 L109.25,719.22 L109.29,721.69 L109.32,724.16 L109.35,726.62 L109.38,729.09 L109.42,731.55 L109.45,734.02 L109.49,736.48 L109.52,738.95 L109.55,741.41 L109.59,743.88 L109.63,746.34 L109.66,748.80 L109.70,751.26 L109.73,753.72 L109.77,756.19 L109.81,758.65 L109.85,761.11 L109.88,763.57 L109.92,766.03 L109.96,768.48 L110.00,770.94 L110.04,773.40 L110.08,775.86 L110.12,778.32 L110.16,780.78 L110.21,783.23 L110.25,785.69 L110.29,788.15 L110.33,790.60 L110.38,793.06 L110.42,795.51 L110.47,797.97 L110.51,800.42 L110.56,802.88 L110.60,805.33 L110.65,807.79 L110.70,810.24 L110.75,812.70 L110.80,815.15 L110.85,817.60 L110.90,820.06 L110.95,822.51 L111.00,824.96 L111.05,827.41 L111.10,829.87 L111.16,832.32 L111.21,834.77 L111.27,837.22 L111.32,839.68 L111.38,842.13 L111.43,844.58 L111.49,847.03 L111.55,849.48 L111.61,851.94 L111.67,854.39 L111.73,856.84 L111.79,859.29 L111.85,861.74 L111.92,864.19 L111.98,866.65 L112.04,869.10 L112.11,871.55 L112.18,874.00 L112.24,876.45 L112.31,878.90 L112.38,881.35 L112.45,883.81 L112.52,886.26 L112.59,888.71 L112.66,891.16 L112.74,893.61 L112.81,896.07 L112.89,898.52 L112.96,900.97 L113.04,903.42 L113.12,905.87 L113.20,908.33 L113.27,910.78 L113.36,913.23 L113.44,915.69 L113.52,918.14 L113.60,920.59 L113.69,923.05 L113.77,925.50 L113.86,927.96 L113.95,930.41 L114.04,932.86 L114.13,935.32 L114.22,937.77 L114.31,940.23 L114.40,942.68 L114.50,945.14 L114.59,947.60 L114.69,950.05 L114.79,952.51 L114.88,954.97 L114.98,957.42 L115.09,959.88 L115.19,962.34 L115.29,964.80 L115.40,967.26 L115.50,969.72 L115.61,972.18 L115.72,974.64 L115.83,977.10 L115.94,979.56 L116.05,982.02 L116.16,984.48 L116.27,986.94 L116.39,989.40 L116.51,991.87 L116.62,994.33 L116.74,996.79 L116.86,999.26 L116.99,1001.72 L117.11,1004.19 L117.23,1006.66 L117.36,1009.12 L117.49,1011.59 L117.62,1014.06 L117.74,1016.52 L117.88,1018.99 L118.01,1021.46 L118.14,1023.93 L118.28,1026.40 L118.42,1028.87 L118.55,1031.34 L118.69,1033.81 L118.83,1036.29 L118.98,1038.76 L119.12,1041.23 L119.27,1043.71 L119.41,1046.18 L119.56,1048.66 L119.71,1051.14 L119.86,1053.61 L120.02,1056.09 L120.17,1058.57 L120.33,1061.05 L120.48,1063.53 L120.64,1066.01 L120.81,1068.49 L120.97,1070.97 L121.14,1073.45 L121.31,1075.93 L121.49,1078.41 L121.67,1080.89 L121.86,1083.37 L122.05,1085.85 L122.25,1088.33 L122.46,1090.80 L122.67,1093.28 L122.90,1095.75 L123.13,1098.22 L123.36,1100.69 L123.61,1103.16 L123.87,1105.63 L124.13,1108.09 L124.41,1110.55 L124.70,1113.01 L125.00,1115.47 L125.31,1117.92 L125.63,1120.37 L125.96,1122.82 L126.31,1125.26 L126.67,1127.70 L127.05,1130.14 L127.44,1132.57 L127.84,1135.00 L128.26,1137.42 L128.70,1139.84 L129.15,1142.26 L129.62,1144.67 L130.11,1147.07 L130.61,1149.47 L131.13,1151.87 L131.67,1154.26 L132.23,1156.64 L132.81,1159.02 L133.41,1161.39 L134.03,1163.76 L134.67,1166.12 L135.33,1168.48 L136.01,1170.82 L136.71,1173.17 L137.44,1175.50 L138.19,1177.83 L138.96,1180.15 L139.76,1182.46 L140.58,1184.76 L141.43,1187.06 L142.29,1189.34 L143.19,1191.62 L144.11,1193.88 L145.05,1196.14 L146.02,1198.38 L147.01,1200.61 L148.04,1202.83 L149.08,1205.03 L150.16,1207.22 L151.26,1209.40 L152.38,1211.57 L153.54,1213.71 L154.72,1215.85 L155.93,1217.96 L157.17,1220.06 L158.43,1222.15 L159.72,1224.22 L161.04,1226.27 L162.38,1228.30 L163.75,1230.32 L165.15,1232.33 L166.57,1234.31 L168.01,1236.28 L169.48,1238.23 L170.97,1240.17 L172.48,1242.09 L174.02,1243.98 L175.58,1245.87 L177.17,1247.73 L178.78,1249.58 L180.40,1251.41 L182.06,1253.22 L183.73,1255.01 L185.42,1256.78 L187.13,1258.54 L188.87,1260.27 L190.62,1261.99 L192.40,1263.69 L194.19,1265.37 L196.00,1267.03 L197.83,1268.67 L199.68,1270.29 L201.55,1271.90 L203.43,1273.48 L205.34,1275.04 L207.26,1276.59 L209.19,1278.11 L211.14,1279.61 L213.11,1281.09 L215.10,1282.55 L217.10,1284.00 L219.11,1285.42 L221.15,1286.82 L223.19,1288.20 L225.25,1289.57 L227.32,1290.91 L229.41,1292.23 L231.51,1293.53 L233.63,1294.81 L235.75,1296.08 L237.89,1297.32 L240.04,1298.54 L242.21,1299.75 L244.38,1300.93 L246.57,1302.10 L248.76,1303.24 L250.97,1304.36 L253.19,1305.47 L255.42,1306.56 L257.66,1307.62 L259.90,1308.67 L262.16,1309.70 L264.43,1310.71 L266.70,1311.70 L268.98,1312.67 L271.27,1313.62 L273.57,1314.55 L275.88,1315.46 L278.19,1316.35 L280.51,1317.23 L282.84,1318.08 L285.17,1318.92 L287.51,1319.74 L289.85,1320.53 L292.20,1321.31 L294.55,1322.07 L296.91,1322.81 L299.27,1323.54 L301.64,1324.24 L304.01,1324.92 L306.39,1325.59 L308.76,1326.24 L311.14,1326.87 L313.53,1327.48 L315.91,1328.07 L318.30,1328.64 L320.69,1329.20 L323.08,1329.74 L325.48,1330.26 L327.87,1330.76 L330.27,1331.25 L332.68,1331.72 L335.08,1332.17 L337.49,1332.61 L339.90,1333.03 L342.31,1333.44 L344.72,1333.83 L347.14,1334.20 L349.55,1334.57 L351.97,1334.91 L354.40,1335.24 L356.82,1335.56 L359.24,1335.86 L361.67,1336.15 L364.10,1336.43 L366.53,1336.69 L368.96,1336.95 L371.40,1337.18 L373.83,1337.41 L376.27,1337.62 L378.71,1337.82 L381.15,1338.01 L383.59,1338.19 L386.03,1338.36 L388.48,1338.51 L390.93,1338.66 L393.37,1338.79 L395.82,1338.92 L398.27,1339.03 L400.72,1339.13 L403.18,1339.23 L405.63,1339.32 L408.08,1339.39 L410.54,1339.46 L413.00,1339.52 L415.45,1339.57 L417.91,1339.61 L420.37,1339.65 L422.83,1339.67 L425.29,1339.69 L427.76,1339.71 L430.22,1339.71 L432.68,1339.71 L435.15,1339.71 L437.61,1339.69 L440.08,1339.67 L442.54,1339.65 L445.01,1339.62 L447.48,1339.59 L449.95,1339.55 L452.41,1339.50 L454.88,1339.45 L457.35,1339.40 L459.82,1339.34 L462.29,1339.28 L464.76,1339.22 L467.23,1339.15 L469.70,1339.08 L472.17,1339.01 L474.64,1338.93 L477.11,1338.85 L479.57,1338.77 L482.04,1338.69 L484.51,1338.61 L486.98,1338.53 L489.45,1338.44 L491.92,1338.35 L494.39,1338.27 L496.86,1338.18 L499.33,1338.09 L501.79,1338.00 L504.26,1337.92 L506.73,1337.83 L509.20,1337.74 L511.66,1337.65 L514.13,1337.55 L516.60,1337.46 L519.06,1337.37 L521.53,1337.28 L524.00,1337.18 L526.46,1337.09 L528.93,1336.99 L531.39,1336.90 L533.86,1336.80 L536.32,1336.71 L538.79,1336.61 L541.25,1336.51 L543.72,1336.42 L546.18,1336.32 L548.64,1336.22 L551.11,1336.12 L553.57,1336.02 L556.03,1335.92 L558.50,1335.82 L560.96,1335.72 L563.42,1335.62 L565.89,1335.52 L568.35,1335.42 L570.81,1335.32 L573.27,1335.21 L575.73,1335.11 L578.20,1335.01 L580.66,1334.90 L583.12,1334.80 L585.58,1334.70 L588.04,1334.59 L590.50,1334.49 L592.96,1334.38 L595.42,1334.28 L597.89,1334.17 L600.35,1334.07 L602.81,1333.96 L605.27,1333.86 L607.73,1333.75 L610.19,1333.65 L612.65,1333.54 L615.11,1333.43 L617.57,1333.33 L620.03,1333.22 L622.49,1333.11 L624.94,1333.01 L627.40,1332.90 L629.86,1332.79 L632.32,1332.69 L634.78,1332.58 L637.24,1332.47 L639.70,1332.36 L642.16,1332.26 L644.61,1332.15 L647.07,1332.04 L649.53,1331.93 L651.99,1331.83 L654.45,1331.72 L656.91,1331.61 L659.36,1331.50 L661.82,1331.40 L664.28,1331.29 L666.74,1331.18 L669.19,1331.07 L671.65,1330.97 L674.11,1330.86 L676.57,1330.75 L679.02,1330.64 L681.48,1330.54 L683.94,1330.43 L686.40,1330.32 L688.85,1330.22 L691.31,1330.11 L693.77,1330.00 L696.23,1329.90 L698.68,1329.79 L701.14,1329.69 L703.60,1329.58 L706.05,1329.48 L708.51,1329.37 L710.97,1329.27 L713.42,1329.16 L715.88,1329.06 L718.34,1328.95 L720.79,1328.85 L723.25,1328.75 L725.71,1328.64 L728.16,1328.54 L730.62,1328.44 L733.08,1328.33 L735.54,1328.23 L737.99,1328.13 L740.45,1328.03 L742.91,1327.93 L745.36,1327.83 L747.82,1327.73 L750.28,1327.63 L752.73,1327.53 L755.19,1327.43 L757.65,1327.33 L760.10,1327.23 L762.56,1327.14 L765.02,1327.04 L767.47,1326.94 L769.93,1326.85 L772.39,1326.75 L774.85,1326.66 L777.30,1326.56 L779.76,1326.47 L782.22,1326.37 L784.67,1326.28 L787.13,1326.19 L789.59,1326.10 L792.05,1326.00 L794.50,1325.91 L796.96,1325.82 L799.42,1325.73 L801.88,1325.64 L804.33,1325.56 L806.79,1325.47 L809.25,1325.38 L811.71,1325.29 L814.17,1325.21 L816.62,1325.12 L819.08,1325.04 L821.54,1324.95 L824.00,1324.87 L826.46,1324.79 L828.92,1324.71 L831.37,1324.63 L833.83,1324.55 L836.29,1324.47 L838.75,1324.39 L841.21,1324.31 L843.67,1324.23 L846.13,1324.16 L848.59,1324.08 L851.05,1324.01 L853.51,1323.93 L855.97,1323.86 L858.43,1323.79 L860.89,1323.72 L863.35,1323.65 L865.81,1323.58 L868.27,1323.51 L870.73,1323.44 L873.19,1323.37 L875.65,1323.31 L878.11,1323.24 L880.57,1323.18 L883.03,1323.11 L885.49,1323.05 L887.95,1322.99 L890.41,1322.93 L892.88,1322.87 L895.34,1322.81 L897.80,1322.75 L900.26,1322.70 L902.73,1322.64 L905.19,1322.59 L907.65,1322.53 L910.11,1322.48 L912.58,1322.43 L915.04,1322.38 L917.50,1322.33 L919.97,1322.28 L922.43,1322.24 L924.89,1322.19 L927.36,1322.15 L929.82,1322.10 L932.29,1322.06 L934.75,1322.02 L937.22,1321.98 L939.68,1321.94 L942.15,1321.90 L944.61,1321.87 L947.08,1321.83 L949.55,1321.80 L952.01,1321.77 L954.48,1321.73 L956.95,1321.70 L959.41,1321.67 L961.88,1321.65 L964.35,1321.62 L966.81,1321.60 L969.28,1321.57 L971.75,1321.55 L974.22,1321.53 L976.69,1321.51 L979.16,1321.49 L981.62,1321.47 L984.09,1321.46 L986.56,1321.44 L989.03,1321.43 L991.50,1321.42 L993.97,1321.41 L996.44,1321.40 L998.91,1321.39 L1001.39,1321.38 L1003.86,1321.38 L1006.33,1321.38 L1008.80,1321.37 L1011.27,1321.37 L1013.74,1321.38 L1016.22,1321.38 L1018.69,1321.38 L1021.16,1321.39 L1021.16,1324.34 L1018.68,1324.33 L1016.21,1324.33 L1013.74,1324.33 L1011.27,1324.33 L1008.80,1324.33 L1006.33,1324.33 L1003.86,1324.33 L1001.39,1324.34 L998.92,1324.34 L996.45,1324.35 L993.98,1324.36 L991.52,1324.37 L989.05,1324.38 L986.58,1324.39 L984.11,1324.41 L981.64,1324.42 L979.18,1324.44 L976.71,1324.45 L974.24,1324.47 L971.78,1324.49 L969.31,1324.52 L966.84,1324.54 L964.38,1324.56 L961.91,1324.59 L959.45,1324.62 L956.98,1324.64 L954.52,1324.67 L952.05,1324.70 L949.59,1324.73 L947.12,1324.77 L944.66,1324.80 L942.19,1324.84 L939.73,1324.87 L937.26,1324.91 L934.80,1324.95 L932.34,1324.99 L929.87,1325.03 L927.41,1325.07 L924.95,1325.11 L922.49,1325.16 L920.02,1325.20 L917.56,1325.25 L915.10,1325.30 L912.64,1325.35 L910.17,1325.39 L907.71,1325.44 L905.25,1325.50 L902.79,1325.55 L900.33,1325.60 L897.87,1325.66 L895.41,1325.71 L892.95,1325.77 L890.49,1325.83 L888.02,1325.88 L885.56,1325.94 L883.10,1326.00 L880.64,1326.06 L878.18,1326.13 L875.72,1326.19 L873.26,1326.25 L870.81,1326.32 L868.35,1326.38 L865.89,1326.45 L863.43,1326.52 L860.97,1326.58 L858.51,1326.65 L856.05,1326.72 L853.59,1326.79 L851.13,1326.86 L848.67,1326.94 L846.22,1327.01 L843.76,1327.08 L841.30,1327.16 L838.84,1327.23 L836.38,1327.31 L833.92,1327.39 L831.47,1327.46 L829.01,1327.54 L826.55,1327.62 L824.09,1327.70 L821.64,1327.78 L819.18,1327.86 L816.72,1327.94 L814.26,1328.02 L811.81,1328.11 L809.35,1328.19 L806.89,1328.27 L804.43,1328.36 L801.98,1328.44 L799.52,1328.53 L797.06,1328.62 L794.61,1328.70 L792.15,1328.79 L789.69,1328.88 L787.24,1328.97 L784.78,1329.06 L782.32,1329.15 L779.87,1329.24 L777.41,1329.33 L774.95,1329.42 L772.50,1329.51 L770.04,1329.60 L767.58,1329.70 L765.13,1329.79 L762.67,1329.88 L760.21,1329.98 L757.76,1330.07 L755.30,1330.17 L752.84,1330.26 L750.39,1330.36 L747.93,1330.46 L745.47,1330.55 L743.02,1330.65 L740.56,1330.75 L738.10,1330.84 L735.65,1330.94 L733.19,1331.04 L730.73,1331.14 L728.28,1331.24 L725.82,1331.34 L723.36,1331.44 L720.91,1331.54 L718.45,1331.64 L715.99,1331.74 L713.54,1331.84 L711.08,1331.94 L708.62,1332.04 L706.17,1332.14 L703.71,1332.24 L701.25,1332.35 L698.80,1332.45 L696.34,1332.55 L693.88,1332.65 L691.43,1332.75 L688.97,1332.86 L686.51,1332.96 L684.05,1333.06 L681.60,1333.17 L679.14,1333.27 L676.68,1333.37 L674.22,1333.48 L671.77,1333.58 L669.31,1333.68 L666.85,1333.79 L664.39,1333.89 L661.94,1333.99 L659.48,1334.10 L657.02,1334.20 L654.56,1334.31 L652.10,1334.41 L649.64,1334.51 L647.19,1334.62 L644.73,1334.72 L642.27,1334.82 L639.81,1334.93 L637.35,1335.03 L634.89,1335.14 L632.43,1335.24 L629.97,1335.34 L627.51,1335.45 L625.05,1335.55 L622.60,1335.65 L620.14,1335.76 L617.68,1335.86 L615.22,1335.96 L612.76,1336.06 L610.30,1336.17 L607.84,1336.27 L605.37,1336.37 L602.91,1336.47 L600.45,1336.57 L597.99,1336.68 L595.53,1336.78 L593.07,1336.88 L590.61,1336.98 L588.15,1337.08 L585.69,1337.18 L583.22,1337.28 L580.76,1337.38 L578.30,1337.48 L575.84,1337.58 L573.38,1337.68 L570.91,1337.78 L568.45,1337.88 L565.99,1337.97 L563.52,1338.07 L561.06,1338.17 L558.60,1338.27 L556.13,1338.36 L553.67,1338.46 L551.20,1338.55 L548.74,1338.65 L546.28,1338.74 L543.81,1338.84 L541.35,1338.93 L538.88,1339.03 L536.42,1339.12 L533.95,1339.21 L531.48,1339.31 L529.02,1339.40 L526.55,1339.49 L524.09,1339.58 L521.62,1339.67 L519.15,1339.76 L516.69,1339.85 L514.22,1339.94 L511.75,1340.03 L509.28,1340.11 L506.82,1340.20 L504.35,1340.29 L501.88,1340.37 L499.41,1340.46 L496.94,1340.54 L494.47,1340.63 L492.00,1340.71 L489.53,1340.79 L487.06,1340.88 L484.59,1340.96 L482.12,1341.04 L479.65,1341.12 L477.18,1341.19 L474.71,1341.27 L472.24,1341.34 L469.76,1341.41 L467.29,1341.48 L464.82,1341.54 L462.35,1341.61 L459.87,1341.66 L457.40,1341.72 L454.93,1341.77 L452.46,1341.82 L449.98,1341.86 L447.51,1341.90 L445.04,1341.93 L442.57,1341.96 L440.10,1341.99 L437.63,1342.00 L435.16,1342.02 L432.69,1342.02 L430.22,1342.02 L427.75,1342.02 L425.28,1342.01 L422.81,1341.99 L420.34,1341.96 L417.88,1341.93 L415.41,1341.88 L412.94,1341.83 L410.48,1341.78 L408.02,1341.71 L405.55,1341.64 L403.09,1341.55 L400.63,1341.46 L398.17,1341.36 L395.71,1341.25 L393.25,1341.13 L390.79,1341.00 L388.33,1340.86 L385.88,1340.71 L383.42,1340.55 L380.97,1340.38 L378.52,1340.19 L376.07,1340.00 L373.62,1339.79 L371.17,1339.57 L368.72,1339.34 L366.28,1339.10 L363.83,1338.84 L361.39,1338.57 L358.95,1338.29 L356.51,1338.00 L354.07,1337.69 L351.63,1337.37 L349.19,1337.03 L346.76,1336.68 L344.33,1336.31 L341.90,1335.93 L339.47,1335.54 L337.04,1335.13 L334.61,1334.70 L332.19,1334.26 L329.76,1333.80 L327.34,1333.33 L324.92,1332.84 L322.51,1332.33 L320.09,1331.81 L317.68,1331.27 L315.27,1330.71 L312.86,1330.13 L310.45,1329.54 L308.04,1328.92 L305.64,1328.29 L303.24,1327.64 L300.84,1326.98 L298.44,1326.29 L296.05,1325.58 L293.66,1324.86 L291.28,1324.12 L288.90,1323.36 L286.53,1322.58 L284.16,1321.77 L281.80,1320.95 L279.44,1320.10 L277.09,1319.24 L274.74,1318.36 L272.41,1317.46 L270.08,1316.54 L267.75,1315.60 L265.43,1314.64 L263.13,1313.67 L260.82,1312.67 L258.53,1311.65 L256.25,1310.62 L253.97,1309.56 L251.70,1308.49 L249.45,1307.39 L247.20,1306.28 L244.96,1305.15 L242.73,1303.99 L240.52,1302.82 L238.31,1301.63 L236.11,1300.41 L233.93,1299.18 L231.76,1297.93 L229.60,1296.65 L227.45,1295.36 L225.31,1294.05 L223.19,1292.71 L221.08,1291.36 L218.99,1289.98 L216.90,1288.59 L214.83,1287.17 L212.78,1285.74 L210.74,1284.28 L208.72,1282.79 L206.74,1281.27 L204.77,1279.72 L202.81,1278.15 L200.88,1276.56 L198.96,1274.95 L197.06,1273.32 L195.18,1271.67 L193.31,1270.00 L191.47,1268.30 L189.64,1266.59 L187.84,1264.87 L186.05,1263.12 L184.29,1261.35 L182.54,1259.56 L180.82,1257.75 L179.11,1255.93 L177.43,1254.08 L175.77,1252.22 L174.14,1250.34 L172.52,1248.44 L170.93,1246.52 L169.36,1244.58 L167.82,1242.63 L166.29,1240.66 L164.80,1238.67 L163.33,1236.66 L161.88,1234.63 L160.46,1232.59 L159.06,1230.53 L157.69,1228.45 L156.34,1226.36 L155.03,1224.24 L153.74,1222.12 L152.47,1219.97 L151.24,1217.81 L150.03,1215.63 L148.85,1213.44 L147.70,1211.23 L146.57,1209.01 L145.48,1206.77 L144.41,1204.52 L143.37,1202.26 L142.41,1199.97 L141.50,1197.65 L140.61,1195.32 L139.75,1192.99 L138.92,1190.65 L138.12,1188.30 L137.34,1185.94 L136.58,1183.57 L135.85,1181.20 L135.15,1178.83 L134.47,1176.44 L133.81,1174.05 L133.18,1171.66 L132.57,1169.26 L131.99,1166.86 L131.42,1164.45 L130.88,1162.04 L130.36,1159.63 L129.86,1157.21 L129.38,1154.79 L128.92,1152.36 L128.47,1149.93 L128.02,1147.50 L127.59,1145.07 L127.17,1142.63 L126.78,1140.19 L126.39,1137.75 L126.03,1135.31 L125.68,1132.86 L125.35,1130.40 L125.03,1127.95 L124.72,1125.49 L124.43,1123.03 L124.15,1120.57 L123.89,1118.10 L123.63,1115.64 L123.39,1113.17 L123.16,1110.70 L122.95,1108.22 L122.74,1105.75 L122.54,1103.27 L122.35,1100.79 L122.13,1098.32 L121.90,1095.84 L121.68,1093.37 L121.47,1090.89 L121.26,1088.41 L121.06,1085.93 L120.87,1083.45 L120.68,1080.97 L120.50,1078.48 L120.32,1076.00 L120.15,1073.52 L119.98,1071.04 L119.82,1068.56 L119.65,1066.07 L119.49,1063.59 L119.34,1061.11 L119.18,1058.63 L119.03,1056.15 L118.88,1053.67 L118.72,1051.20 L118.58,1048.72 L118.43,1046.24 L118.28,1043.77 L118.14,1041.29 L117.99,1038.82 L117.85,1036.34 L117.71,1033.87 L117.57,1031.40 L117.43,1028.93 L117.30,1026.45 L117.16,1023.98 L117.03,1021.51 L116.90,1019.04 L116.77,1016.58 L116.64,1014.11 L116.51,1011.64 L116.38,1009.17 L116.26,1006.70 L116.13,1004.24 L116.01,1001.77 L115.89,999.31 L115.77,996.84 L115.65,994.38 L115.53,991.91 L115.42,989.45 L115.30,986.99 L115.19,984.53 L115.08,982.06 L114.97,979.60 L114.86,977.14 L114.75,974.68 L114.64,972.22 L114.53,969.76 L114.43,967.30 L114.32,964.84 L114.22,962.38 L114.12,959.92 L114.02,957.46 L113.92,955.01 L113.82,952.55 L113.73,950.09 L113.63,947.63 L113.54,945.18 L113.44,942.72 L113.35,940.27 L113.26,937.81 L113.17,935.35 L113.08,932.90 L112.99,930.44 L112.90,927.99 L112.82,925.53 L112.73,923.08 L112.65,920.63 L112.56,918.17 L112.48,915.72 L112.40,913.27 L112.32,910.81 L112.24,908.36 L112.16,905.91 L112.09,903.45 L112.01,901.00 L111.93,898.55 L111.86,896.09 L111.79,893.64 L111.71,891.19 L111.64,888.74 L111.57,886.29 L111.50,883.83 L111.43,881.38 L111.36,878.93 L111.30,876.48 L111.23,874.03 L111.17,871.57 L111.10,869.12 L111.04,866.67 L110.97,864.22 L110.91,861.77 L110.85,859.31 L110.79,856.86 L110.73,854.41 L110.67,851.96 L110.61,849.51 L110.55,847.05 L110.50,844.60 L110.44,842.15 L110.38,839.70 L110.33,837.25 L110.27,834.79 L110.22,832.34 L110.17,829.89 L110.12,827.43 L110.06,824.98 L110.01,822.53 L109.96,820.07 L109.91,817.62 L109.87,815.17 L109.82,812.71 L109.77,810.26 L109.72,807.81 L109.68,805.35 L109.63,802.90 L109.58,800.44 L109.54,797.99 L109.50,795.53 L109.45,793.07 L109.41,790.62 L109.37,788.16 L109.32,785.70 L109.28,783.25 L109.24,780.79 L109.20,778.33 L109.16,775.88 L109.12,773.42 L109.08,770.96 L109.04,768.50 L109.00,766.04 L108.97,763.58 L108.93,761.12 L108.89,758.66 L108.85,756.20 L108.82,753.74 L108.78,751.28 L108.75,748.81 L108.71,746.35 L108.68,743.89 L108.64,741.43 L108.61,738.96 L108.57,736.50 L108.54,734.03 L108.51,731.57 L108.47,729.10 L108.44,726.63 L108.41,724.17 L108.38,721.70 L108.34,719.23 L108.31,716.76 L108.28,714.29 L108.25,711.82 L108.22,709.35 L108.19,706.88 L108.16,704.41 L108.13,701.94 L108.10,699.47 L108.07,696.99 L108.04,694.52 L108.01,692.05 L107.98,689.57 L107.95,687.10 L107.92,684.62 L107.89,682.14 L107.86,679.66 L107.83,677.19 L107.80,674.71 L107.78,672.23 L107.75,669.75 L107.72,667.26 L107.69,664.78 L107.66,662.30 L107.63,659.82 L107.60,657.33 L107.57,654.85 Z" fill="#cccccc"/>
<path d="M353.86,1326.58 L356.08,1326.99 L358.29,1327.40 L360.50,1327.79 L362.71,1328.17 L364.93,1328.55 L367.14,1328.91 L369.36,1329.26 L371.57,1329.60 L373.79,1329.93 L376.01,1330.25 L378.22,1330.56 L380.44,1330.86 L382.66,1331.15 L384.88,1331.43 L387.10,1331.70 L389.32,1331.96 L391.54,1332.21 L393.76,1332.45 L395.98,1332.69 L398.20,1332.91 L400.42,1333.13 L402.64,1333.34 L404.87,1333.54 L407.09,1333.73 L409.31,1333.91 L411.53,1334.08 L413.76,1334.25 L415.98,1334.41 L418.21,1334.56 L420.43,1334.70 L422.66,1334.84 L424.88,1334.97 L427.11,1335.09 L429.34,1335.20 L431.56,1335.31 L433.79,1335.41 L436.02,1335.51 L438.24,1335.59 L440.47,1335.67 L442.70,1335.75 L444.93,1335.82 L447.16,1335.88 L449.38,1335.94 L451.61,1335.99 L453.84,1336.03 L456.07,1336.07 L458.30,1336.11 L460.53,1336.14 L462.76,1336.16 L464.99,1336.18 L467.22,1336.20 L469.45,1336.21 L471.68,1336.21 L473.92,1336.21 L476.15,1336.21 L478.38,1336.20 L480.61,1336.19 L482.84,1336.18 L485.07,1336.16 L487.31,1336.13 L489.54,1336.11 L491.77,1336.08 L494.00,1336.04 L496.23,1336.01 L498.47,1335.97 L500.70,1335.93 L502.93,1335.88 L505.17,1335.84 L507.40,1335.79 L509.63,1335.73 L511.86,1335.68 L514.10,1335.62 L516.33,1335.56 L518.56,1335.50 L520.80,1335.44 L523.03,1335.38 L525.26,1335.32 L527.50,1335.25 L529.73,1335.18 L531.96,1335.11 L534.20,1335.04 L536.43,1334.97 L538.66,1334.90 L540.89,1334.83 L543.13,1334.76 L545.36,1334.69 L547.59,1334.61 L549.83,1334.54 L552.06,1334.46 L554.29,1334.38 L556.53,1334.30 L558.76,1334.23 L560.99,1334.15 L563.23,1334.07 L565.46,1333.99 L567.69,1333.90 L569.92,1333.82 L572.16,1333.74 L574.39,1333.65 L576.62,1333.57 L578.86,1333.48 L581.09,1333.40 L583.32,1333.31 L585.56,1333.22 L587.79,1333.14 L590.02,1333.05 L592.25,1332.96 L594.49,1332.87 L596.72,1332.78 L598.95,1332.69 L601.19,1332.60 L603.42,1332.50 L605.65,1332.41 L607.89,1332.32 L610.12,1332.23 L612.35,1332.13 L614.58,1332.04 L616.82,1331.94 L619.05,1331.85 L621.28,1331.75 L623.52,1331.66 L625.75,1331.56 L627.98,1331.46 L630.21,1331.36 L632.45,1331.27 L634.68,1331.17 L636.91,1331.07 L639.15,1330.97 L641.38,1330.87 L643.61,1330.77 L645.84,1330.67 L648.08,1330.58 L650.31,1330.48 L652.54,1330.37 L654.78,1330.27 L657.01,1330.17 L659.24,1330.07 L661.47,1329.97 L663.71,1329.87 L665.94,1329.77 L668.17,1329.67 L670.41,1329.57 L672.64,1329.46 L674.87,1329.36 L677.10,1329.26 L679.34,1329.16 L681.57,1329.06 L683.80,1328.95 L686.04,1328.85 L688.27,1328.75 L690.50,1328.65 L692.73,1328.55 L694.97,1328.44 L697.20,1328.34 L699.43,1328.24 L701.67,1328.14 L703.90,1328.04 L706.13,1327.93 L708.36,1327.83 L710.60,1327.73 L712.83,1327.63 L715.06,1327.53 L717.30,1327.43 L719.53,1327.33 L721.76,1327.23 L723.99,1327.13 L726.23,1327.02 L728.46,1326.92 L730.69,1326.82 L732.93,1326.73 L735.16,1326.63 L737.39,1326.53 L739.62,1326.43 L741.86,1326.33 L744.09,1326.23 L746.32,1326.13 L748.56,1326.04 L750.79,1325.94 L753.02,1325.84 L755.25,1325.75 L757.49,1325.65 L759.72,1325.55 L761.95,1325.46 L764.19,1325.36 L766.42,1325.27 L768.65,1325.18 L770.89,1325.08 L773.12,1324.99 L775.35,1324.90 L777.58,1324.81 L779.82,1324.72 L782.05,1324.62 L784.28,1324.53 L786.52,1324.45 L788.75,1324.36 L790.98,1324.27 L793.22,1324.18 L795.45,1324.09 L797.68,1324.01 L799.91,1323.92 L802.15,1323.84 L804.38,1323.75 L806.61,1323.67 L808.85,1323.59 L811.08,1323.50 L813.31,1323.42 L815.55,1323.34 L817.78,1323.26 L820.01,1323.18 L822.25,1323.10 L824.48,1323.03 L826.71,1322.95 L828.95,1322.87 L831.18,1322.80 L833.41,1322.72 L835.65,1322.65 L837.88,1322.58 L840.11,1322.51 L842.35,1322.44 L844.58,1322.37 L846.81,1322.30 L849.05,1322.23 L851.28,1322.16 L853.51,1322.10 L855.75,1322.03 L857.98,1321.97 L860.21,1321.91 L862.45,1321.84 L864.68,1321.78 L866.91,1321.72 L869.15,1321.67 L871.38,1321.61 L873.61,1321.55 L875.85,1321.50 L878.08,1321.44 L880.31,1321.39 L882.55,1321.34 L884.78,1321.29 L887.01,1321.24 L889.25,1321.19 L891.48,1321.14 L893.71,1321.10 L895.95,1321.05 L898.18,1321.01 L900.42,1320.97 L902.65,1320.93 L904.88,1320.89 L907.12,1320.85 L909.35,1320.81 L911.58,1320.78 L913.82,1320.74 L916.05,1320.71 L918.29,1320.68 L920.52,1320.65 L922.75,1320.62 L924.99,1320.59 L927.22,1320.57 L929.45,1320.54 L931.69,1320.52 L933.92,1320.50 L936.16,1320.48 L938.39,1320.46 L940.62,1320.44 L942.86,1320.43 L945.09,1320.41 L947.33,1320.40 L949.56,1320.39 L951.79,1320.38 L954.03,1320.38 L956.26,1320.37 L958.50,1320.37 L960.73,1320.36 L962.97,1320.36 L965.20,1320.36 L967.43,1320.37 L969.67,1320.37 L971.90,1320.37 L974.14,1320.38 L976.37,1320.39 L978.61,1320.40 L980.84,1320.42 L983.07,1320.43 L985.31,1320.45 L987.54,1320.46 L989.78,1320.48 L992.01,1320.51 L994.25,1320.53 L996.48,1320.56 L998.72,1320.58 L1000.95,1320.61 L1003.18,1320.64 L1005.42,1320.68 L1007.65,1320.71 L1009.89,1320.75 L1012.12,1320.79 L1014.36,1320.83 L1016.59,1320.87 L1018.83,1320.91 L1021.06,1320.96 L1021.07,1322.56 L1018.83,1322.54 L1016.60,1322.51 L1014.37,1322.49 L1012.13,1322.47 L1009.90,1322.45 L1007.67,1322.44 L1005.44,1322.42 L1003.20,1322.41 L1000.97,1322.40 L998.74,1322.39 L996.51,1322.38 L994.28,1322.38 L992.04,1322.37 L989.81,1322.37 L987.58,1322.37 L985.35,1322.37 L983.11,1322.37 L980.88,1322.37 L978.65,1322.38 L976.42,1322.38 L974.18,1322.39 L971.95,1322.40 L969.72,1322.41 L967.49,1322.42 L965.26,1322.44 L963.02,1322.45 L960.79,1322.47 L958.56,1322.49 L956.33,1322.50 L954.10,1322.52 L951.86,1322.55 L949.63,1322.57 L947.40,1322.60 L945.17,1322.62 L942.94,1322.65 L940.70,1322.68 L938.47,1322.71 L936.24,1322.74 L934.01,1322.77 L931.78,1322.81 L929.55,1322.84 L927.31,1322.88 L925.08,1322.91 L922.85,1322.95 L920.62,1322.99 L918.39,1323.04 L916.15,1323.08 L913.92,1323.12 L911.69,1323.17 L909.46,1323.21 L907.23,1323.26 L905.00,1323.31 L902.76,1323.36 L900.53,1323.41 L898.30,1323.46 L896.07,1323.51 L893.84,1323.57 L891.61,1323.62 L889.38,1323.68 L887.14,1323.73 L884.91,1323.79 L882.68,1323.85 L880.45,1323.91 L878.22,1323.97 L875.99,1324.03 L873.76,1324.09 L871.52,1324.16 L869.29,1324.22 L867.06,1324.29 L864.83,1324.36 L862.60,1324.42 L860.37,1324.49 L858.14,1324.56 L855.90,1324.63 L853.67,1324.70 L851.44,1324.77 L849.21,1324.84 L846.98,1324.92 L844.75,1324.99 L842.52,1325.07 L840.29,1325.14 L838.06,1325.22 L835.82,1325.30 L833.59,1325.37 L831.36,1325.45 L829.13,1325.53 L826.90,1325.61 L824.67,1325.69 L822.44,1325.77 L820.21,1325.86 L817.97,1325.94 L815.74,1326.02 L813.51,1326.11 L811.28,1326.19 L809.05,1326.28 L806.82,1326.36 L804.59,1326.45 L802.36,1326.54 L800.13,1326.62 L797.90,1326.71 L795.66,1326.80 L793.43,1326.89 L791.20,1326.98 L788.97,1327.07 L786.74,1327.16 L784.51,1327.25 L782.28,1327.34 L780.05,1327.43 L777.82,1327.53 L775.59,1327.62 L773.36,1327.71 L771.12,1327.81 L768.89,1327.90 L766.66,1327.99 L764.43,1328.09 L762.20,1328.18 L759.97,1328.28 L757.74,1328.38 L755.51,1328.47 L753.28,1328.57 L751.05,1328.66 L748.82,1328.76 L746.59,1328.86 L744.35,1328.96 L742.12,1329.05 L739.89,1329.15 L737.66,1329.25 L735.43,1329.35 L733.20,1329.45 L730.97,1329.55 L728.74,1329.64 L726.51,1329.74 L724.28,1329.84 L722.05,1329.94 L719.82,1330.04 L717.59,1330.14 L715.35,1330.24 L713.12,1330.34 L710.89,1330.44 L708.66,1330.54 L706.43,1330.64 L704.20,1330.74 L701.97,1330.84 L699.74,1330.94 L697.51,1331.04 L695.28,1331.14 L693.05,1331.24 L690.82,1331.34 L688.59,1331.44 L686.36,1331.54 L684.13,1331.64 L681.89,1331.74 L679.66,1331.84 L677.43,1331.94 L675.20,1332.04 L672.97,1332.14 L670.74,1332.23 L668.51,1332.33 L666.28,1332.43 L664.05,1332.53 L661.82,1332.63 L659.59,1332.73 L657.36,1332.82 L655.13,1332.92 L652.90,1333.02 L650.67,1333.12 L648.43,1333.21 L646.20,1333.31 L643.97,1333.41 L641.74,1333.50 L639.51,1333.60 L637.28,1333.69 L635.05,1333.79 L632.82,1333.88 L630.59,1333.98 L628.36,1334.07 L626.13,1334.16 L623.90,1334.26 L621.67,1334.35 L619.44,1334.44 L617.21,1334.53 L614.98,1334.62 L612.74,1334.71 L610.51,1334.81 L608.28,1334.89 L606.05,1334.98 L603.82,1335.07 L601.59,1335.16 L599.36,1335.25 L597.13,1335.34 L594.90,1335.42 L592.67,1335.51 L590.44,1335.59 L588.21,1335.68 L585.98,1335.76 L583.75,1335.85 L581.52,1335.93 L579.28,1336.01 L577.05,1336.09 L574.82,1336.18 L572.59,1336.26 L570.36,1336.34 L568.13,1336.41 L565.90,1336.49 L563.67,1336.57 L561.44,1336.65 L559.21,1336.72 L556.98,1336.80 L554.75,1336.87 L552.52,1336.95 L550.29,1337.02 L548.05,1337.09 L545.82,1337.16 L543.59,1337.23 L541.36,1337.30 L539.13,1337.37 L536.90,1337.44 L534.67,1337.51 L532.44,1337.57 L530.21,1337.64 L527.98,1337.70 L525.75,1337.76 L523.52,1337.83 L521.29,1337.89 L519.05,1337.95 L516.82,1338.01 L514.59,1338.06 L512.36,1338.12 L510.13,1338.18 L507.90,1338.23 L505.67,1338.29 L503.44,1338.34 L501.21,1338.39 L498.98,1338.44 L496.75,1338.49 L494.51,1338.54 L492.28,1338.58 L490.05,1338.63 L487.82,1338.67 L485.59,1338.72 L483.36,1338.76 L481.13,1338.80 L478.90,1338.84 L476.67,1338.87 L474.44,1338.91 L472.21,1338.94 L469.97,1338.98 L467.74,1339.01 L465.51,1339.04 L463.28,1339.07 L461.05,1339.09 L458.82,1339.12 L456.59,1339.14 L454.36,1339.16 L452.13,1339.18 L449.90,1339.20 L447.66,1339.22 L445.43,1339.24 L443.20,1339.25 L440.97,1339.26 L438.74,1339.27 L436.51,1339.28 L434.28,1339.29 L432.05,1339.29 L429.82,1339.30 L427.58,1339.30 L425.35,1339.30 L423.12,1339.30 L420.89,1339.29 L418.66,1339.29 L416.43,1339.28 L414.20,1339.27 L411.97,1339.26 L409.73,1339.24 L407.50,1339.23 L405.27,1339.21 L403.04,1339.19 L400.81,1339.17 L398.58,1339.14 L396.35,1339.12 L394.12,1339.09 L391.89,1339.06 L389.65,1339.03 L387.42,1338.99 L385.19,1338.96 L382.96,1338.92 L380.73,1338.87 L378.50,1338.83 L376.27,1338.78 L374.03,1338.74 L371.80,1338.69 L369.57,1338.63 L367.34,1338.58 L365.11,1338.52 L362.88,1338.46 L360.65,1338.40 L358.42,1338.33 L356.18,1338.26 L353.95,1338.19 Z" fill="#cccccc"/>
<path d="M110.65,654.95 L110.96,659.79 L111.25,664.63 L111.52,669.47 L111.79,674.30 L112.04,679.14 L112.29,683.98 L112.52,688.81 L112.74,693.65 L112.95,698.48 L113.15,703.32 L113.34,708.15 L113.53,712.98 L113.70,717.81 L113.87,722.64 L114.03,727.47 L114.19,732.30 L114.34,737.13 L114.48,741.96 L114.62,746.79 L114.75,751.61 L114.88,756.44 L115.01,761.26 L115.13,766.09 L115.25,770.91 L115.36,775.74 L115.48,780.56 L115.59,785.38 L115.70,790.20 L115.81,795.03 L115.92,799.85 L116.03,804.67 L116.15,809.49 L116.26,814.31 L116.38,819.13 L116.49,823.94 L116.61,828.76 L116.74,833.58 L116.87,838.40 L117.00,843.21 L117.13,848.03 L117.28,852.85 L117.42,857.66 L117.57,862.48 L117.73,867.29 L117.90,872.11 L118.07,876.92 L118.26,881.74 L118.45,886.55 L118.64,891.37 L118.85,896.18 L119.07,900.99 L119.30,905.81 L119.54,910.62 L119.79,915.43 L120.05,920.24 L120.32,925.06 L120.61,929.87 L120.91,934.68 L121.22,939.49 L121.55,944.30 L121.89,949.11 L122.25,953.93 L122.62,958.74 L123.01,963.55 L123.41,968.36 L123.83,973.17 L124.27,977.98 L124.72,982.79 L125.20,987.60 L125.69,992.41 L126.20,997.23 L126.73,1002.04 L127.28,1006.85 L127.86,1011.66 L128.45,1016.47 L129.06,1021.28 L129.70,1026.09 L130.36,1030.90 L131.04,1035.71 L131.75,1040.52 L132.49,1045.32 L133.25,1050.12 L134.04,1054.92 L134.86,1059.71 L135.72,1064.49 L136.60,1069.27 L137.52,1074.04 L138.48,1078.79 L139.47,1083.54 L140.49,1088.28 L141.56,1093.00 L142.67,1097.72 L143.81,1102.42 L145.00,1107.10 L146.24,1111.77 L147.52,1116.42 L148.84,1121.05 L150.21,1125.67 L151.63,1130.27 L153.10,1134.85 L154.62,1139.40 L156.19,1143.94 L157.81,1148.45 L159.49,1152.94 L161.23,1157.41 L163.02,1161.85 L164.87,1166.26 L166.78,1170.65 L168.75,1175.01 L170.78,1179.34 L172.87,1183.64 L175.03,1187.91 L177.25,1192.15 L179.54,1196.35 L181.90,1200.53 L184.33,1204.66 L186.82,1208.77 L189.39,1212.84 L192.03,1216.87 L194.75,1220.86 L197.53,1224.81 L200.39,1228.72 L203.31,1232.59 L206.31,1236.41 L209.37,1240.17 L212.50,1243.89 L215.70,1247.55 L218.97,1251.16 L222.29,1254.71 L225.69,1258.20 L229.14,1261.62 L232.66,1264.98 L236.23,1268.27 L239.87,1271.50 L243.57,1274.65 L247.32,1277.73 L251.13,1280.73 L255.00,1283.65 L258.93,1286.49 L262.90,1289.25 L266.93,1291.93 L271.02,1294.53 L275.15,1297.04 L279.33,1299.47 L283.57,1301.80 L287.85,1304.05 L292.17,1306.21 L296.54,1308.28 L300.95,1310.26 L305.40,1312.15 L309.87,1313.95 L314.38,1315.67 L318.91,1317.31 L323.46,1318.86 L328.02,1320.33 L332.61,1321.72 L337.20,1323.04 L341.82,1324.28 L346.45,1325.45 L351.10,1326.55 L355.76,1327.57 L360.43,1328.53 L365.12,1329.43 L369.82,1330.26 L374.54,1331.03 L379.26,1331.75 L384.00,1332.40 L388.75,1333.00 L393.51,1333.55 L398.28,1334.05 L403.06,1334.49 L407.85,1334.89 L412.64,1335.25 L417.45,1335.56 L422.26,1335.83 L427.08,1336.06 L431.91,1336.26 L436.74,1336.41 L441.57,1336.54 L446.42,1336.63 L451.26,1336.70 L456.11,1336.74 L460.97,1336.75 L465.82,1336.74 L470.68,1336.71 L475.54,1336.66 L480.41,1336.59 L485.27,1336.50 L490.14,1336.41 L495.00,1336.30 L499.86,1336.18 L504.73,1336.05 L509.59,1335.92 L514.45,1335.79 L519.30,1335.65 L524.16,1335.51 L529.01,1335.37 L533.86,1335.22 L538.71,1335.07 L543.56,1334.92 L548.40,1334.77 L553.24,1334.61 L558.08,1334.45 L562.92,1334.29 L567.76,1334.13 L572.60,1333.96 L577.43,1333.80 L582.27,1333.63 L587.10,1333.46 L591.93,1333.28 L596.76,1333.11 L601.58,1332.93 L606.41,1332.76 L611.23,1332.58 L616.06,1332.40 L620.88,1332.22 L625.70,1332.03 L630.52,1331.85 L635.34,1331.67 L640.16,1331.48 L644.97,1331.29 L649.79,1331.11 L654.60,1330.92 L659.42,1330.73 L664.23,1330.54 L669.04,1330.35 L673.85,1330.16 L678.67,1329.97 L683.48,1329.78 L688.29,1329.59 L693.10,1329.40 L697.90,1329.21 L702.71,1329.02 L707.52,1328.83 L712.33,1328.64 L717.13,1328.45 L721.94,1328.27 L726.75,1328.08 L731.56,1327.89 L736.36,1327.70 L741.17,1327.52 L745.97,1327.33 L750.78,1327.15 L755.59,1326.97 L760.39,1326.79 L765.20,1326.60 L770.01,1326.43 L774.81,1326.25 L779.62,1326.07 L784.43,1325.90 L789.24,1325.72 L794.04,1325.55 L798.85,1325.38 L803.66,1325.22 L808.47,1325.05 L813.28,1324.89 L818.09,1324.72 L822.90,1324.57 L827.72,1324.41 L832.53,1324.25 L837.34,1324.10 L842.16,1323.95 L846.97,1323.81 L851.79,1323.66 L856.61,1323.52 L861.43,1323.38 L866.25,1323.25 L871.07,1323.11 L875.89,1322.98 L880.71,1322.86 L885.53,1322.74 L890.36,1322.62 L895.19,1322.50 L900.01,1322.39 L904.84,1322.28 L909.68,1322.17 L914.51,1322.07 L919.34,1321.97 L924.18,1321.88 L929.02,1321.79 L933.85,1321.71 L938.69,1321.62 L943.54,1321.55 L948.38,1321.48 L953.23,1321.41 L958.08,1321.34 L962.93,1321.28 L967.78,1321.23 L972.63,1321.18 L977.49,1321.14 L982.35,1321.10 L987.21,1321.06 L992.07,1321.03 L996.93,1321.01 L1001.80,1320.99 L1006.67,1320.98 L1011.54,1320.97 L1016.42,1320.97 L1021.29,1320.97 L1021.16,1321.39 L1016.21,1321.38 L1011.26,1321.37 L1006.30,1321.38 L1001.35,1321.38 L996.40,1321.40 L991.45,1321.42 L986.51,1321.44 L981.56,1321.47 L976.61,1321.51 L971.67,1321.55 L966.72,1321.60 L961.78,1321.65 L956.84,1321.70 L951.90,1321.77 L946.96,1321.83 L942.02,1321.91 L937.08,1321.98 L932.14,1322.06 L927.20,1322.15 L922.27,1322.24 L917.33,1322.34 L912.40,1322.43 L907.46,1322.54 L902.53,1322.65 L897.59,1322.76 L892.66,1322.87 L887.73,1322.99 L882.80,1323.12 L877.87,1323.25 L872.94,1323.38 L868.01,1323.51 L863.08,1323.65 L858.15,1323.80 L853.23,1323.94 L848.30,1324.09 L843.37,1324.24 L838.45,1324.40 L833.52,1324.56 L828.59,1324.72 L823.67,1324.88 L818.74,1325.05 L813.82,1325.22 L808.90,1325.39 L803.97,1325.57 L799.05,1325.75 L794.13,1325.93 L789.20,1326.11 L784.28,1326.30 L779.36,1326.48 L774.43,1326.67 L769.51,1326.86 L764.59,1327.06 L759.67,1327.25 L754.75,1327.45 L749.82,1327.65 L744.90,1327.85 L739.98,1328.05 L735.06,1328.25 L730.14,1328.46 L725.22,1328.66 L720.29,1328.87 L715.37,1329.08 L710.45,1329.29 L705.53,1329.50 L700.61,1329.71 L695.68,1329.92 L690.76,1330.13 L685.84,1330.35 L680.92,1330.56 L675.99,1330.78 L671.07,1330.99 L666.15,1331.21 L661.22,1331.42 L656.30,1331.64 L651.37,1331.85 L646.45,1332.07 L641.52,1332.28 L636.60,1332.50 L631.67,1332.71 L626.75,1332.93 L621.82,1333.14 L616.89,1333.36 L611.96,1333.57 L607.04,1333.78 L602.11,1333.99 L597.18,1334.21 L592.25,1334.42 L587.32,1334.62 L582.39,1334.83 L577.46,1335.04 L572.52,1335.24 L567.59,1335.45 L562.66,1335.65 L557.72,1335.85 L552.79,1336.05 L547.85,1336.25 L542.92,1336.45 L537.98,1336.64 L533.04,1336.83 L528.10,1337.03 L523.16,1337.21 L518.22,1337.40 L513.28,1337.59 L508.34,1337.77 L503.40,1337.95 L498.45,1338.12 L493.51,1338.30 L488.56,1338.47 L483.61,1338.64 L478.67,1338.80 L473.72,1338.96 L468.77,1339.11 L463.82,1339.24 L458.88,1339.36 L453.93,1339.47 L448.99,1339.56 L444.05,1339.63 L439.11,1339.68 L434.17,1339.71 L429.23,1339.71 L424.30,1339.69 L419.37,1339.63 L414.44,1339.55 L409.52,1339.43 L404.60,1339.28 L399.69,1339.09 L394.78,1338.86 L389.88,1338.60 L384.98,1338.29 L380.09,1337.93 L375.20,1337.53 L370.32,1337.08 L365.45,1336.58 L360.58,1336.03 L355.72,1335.42 L350.87,1334.76 L346.03,1334.03 L341.19,1333.25 L336.37,1332.41 L331.55,1331.50 L326.74,1330.52 L321.94,1329.48 L317.16,1328.37 L312.38,1327.18 L307.61,1325.93 L302.85,1324.59 L298.11,1323.18 L293.39,1321.70 L288.68,1320.14 L284.00,1318.50 L279.34,1316.79 L274.71,1315.00 L270.10,1313.13 L265.53,1311.19 L260.99,1309.17 L256.49,1307.07 L252.02,1304.89 L247.60,1302.64 L243.22,1300.30 L238.89,1297.89 L234.61,1295.40 L230.37,1292.83 L226.19,1290.18 L222.07,1287.45 L218.00,1284.64 L213.99,1281.75 L210.05,1278.77 L206.17,1275.72 L202.37,1272.59 L198.63,1269.37 L194.96,1266.08 L191.37,1262.72 L187.86,1259.27 L184.43,1255.75 L181.09,1252.16 L177.83,1248.49 L174.66,1244.75 L171.58,1240.95 L168.60,1237.07 L165.71,1233.12 L162.92,1229.10 L160.24,1225.02 L157.66,1220.87 L155.18,1216.66 L152.82,1212.39 L150.57,1208.05 L148.42,1203.66 L146.39,1199.21 L144.45,1194.71 L142.62,1190.17 L140.88,1185.59 L139.25,1180.98 L137.70,1176.33 L136.25,1171.65 L134.89,1166.94 L133.62,1162.21 L132.43,1157.45 L131.31,1152.68 L130.27,1147.88 L129.31,1143.05 L128.40,1138.21 L127.57,1133.36 L126.79,1128.48 L126.07,1123.59 L125.41,1118.69 L124.79,1113.78 L124.22,1108.85 L123.69,1103.91 L123.20,1098.97 L122.74,1094.01 L122.31,1089.06 L121.92,1084.09 L121.54,1079.13 L121.19,1074.16 L120.85,1069.19 L120.53,1064.22 L120.21,1059.25 L119.90,1054.28 L119.60,1049.32 L119.30,1044.36 L119.01,1039.41 L118.73,1034.45 L118.45,1029.50 L118.18,1024.55 L117.91,1019.60 L117.65,1014.66 L117.39,1009.72 L117.14,1004.77 L116.89,999.84 L116.65,994.90 L116.42,989.96 L116.19,985.03 L115.96,980.10 L115.74,975.17 L115.52,970.24 L115.31,965.32 L115.11,960.39 L114.91,955.47 L114.71,950.55 L114.52,945.63 L114.33,940.71 L114.14,935.79 L113.96,930.87 L113.79,925.95 L113.62,921.04 L113.45,916.12 L113.29,911.21 L113.13,906.29 L112.97,901.38 L112.82,896.47 L112.68,891.56 L112.53,886.64 L112.39,881.73 L112.25,876.82 L112.12,871.91 L111.99,867.00 L111.86,862.09 L111.74,857.18 L111.62,852.26 L111.50,847.35 L111.38,842.44 L111.27,837.53 L111.16,832.61 L111.06,827.70 L110.95,822.79 L110.85,817.87 L110.75,812.96 L110.66,808.04 L110.56,803.12 L110.47,798.21 L110.38,793.29 L110.29,788.37 L110.21,783.45 L110.13,778.52 L110.04,773.60 L109.96,768.67 L109.89,763.75 L109.81,758.82 L109.74,753.89 L109.66,748.96 L109.59,744.02 L109.52,739.09 L109.45,734.15 L109.39,729.21 L109.32,724.27 L109.25,719.33 L109.19,714.38 L109.13,709.43 L109.06,704.48 L109.00,699.53 L108.94,694.58 L108.88,689.62 L108.82,684.66 L108.76,679.69 L108.71,674.73 L108.65,669.76 L108.59,664.79 L108.53,659.81 L108.47,654.84 Z" fill="#3399ff"/>
<path d="M121.12,655.06 L121.26,657.35 L121.40,659.65 L121.53,661.94 L121.67,664.23 L121.81,666.53 L121.94,668.82 L122.08,671.12 L122.21,673.42 L122.35,675.72 L122.48,678.01 L122.61,680.31 L122.74,682.61 L122.88,684.91 L123.01,687.21 L123.14,689.51 L123.27,691.81 L123.40,694.11 L123.53,696.41 L123.66,698.72 L123.79,701.02 L123.92,703.32 L124.05,705.62 L124.18,707.93 L124.31,710.23 L124.44,712.54 L124.57,714.84 L124.70,717.15 L124.83,719.45 L124.96,721.76 L125.09,724.06 L125.22,726.37 L125.35,728.68 L125.48,730.98 L125.62,733.29 L125.75,735.60 L125.88,737.90 L126.02,740.21 L126.16,742.52 L126.29,744.82 L126.43,747.13 L126.57,749.44 L126.71,751.75 L126.85,754.06 L126.99,756.36 L127.13,758.67 L127.28,760.98 L127.42,763.29 L127.57,765.60 L127.71,767.90 L127.86,770.21 L128.01,772.52 L128.16,774.83 L128.32,777.14 L128.47,779.44 L128.63,781.75 L128.79,784.06 L128.95,786.37 L129.11,788.68 L129.27,790.98 L129.44,793.29 L129.60,795.60 L129.77,797.91 L129.94,800.21 L130.12,802.52 L130.29,804.83 L130.47,807.13 L130.65,809.44 L130.83,811.74 L131.02,814.05 L131.20,816.35 L131.39,818.66 L131.58,820.96 L131.78,823.27 L131.97,825.57 L132.17,827.87 L132.37,830.18 L132.58,832.48 L132.78,834.78 L132.99,837.09 L133.21,839.39 L133.42,841.69 L133.64,843.99 L133.86,846.29 L134.09,848.59 L134.31,850.89 L134.54,853.19 L134.78,855.49 L135.02,857.78 L135.26,860.08 L135.50,862.38 L135.75,864.67 L136.00,866.97 L136.25,869.26 L136.51,871.56 L136.77,873.85 L137.03,876.14 L137.30,878.44 L137.58,880.73 L137.85,883.02 L138.13,885.31 L138.42,887.60 L138.70,889.89 L138.99,892.18 L139.29,894.47 L139.59,896.75 L139.89,899.04 L140.20,901.32 L140.51,903.61 L140.83,905.89 L141.15,908.17 L141.48,910.46 L141.81,912.74 L142.14,915.02 L142.48,917.30 L142.82,919.58 L143.17,921.85 L143.52,924.13 L143.88,926.41 L144.24,928.68 L144.61,930.95 L144.98,933.23 L145.36,935.50 L145.74,937.77 L146.13,940.04 L146.52,942.31 L146.92,944.58 L147.32,946.84 L147.73,949.11 L148.14,951.37 L148.56,953.64 L148.98,955.90 L149.41,958.16 L149.84,960.42 L150.28,962.68 L150.73,964.94 L151.18,967.19 L151.64,969.45 L152.10,971.70 L152.57,973.96 L153.04,976.21 L153.52,978.46 L154.00,980.71 L154.50,982.96 L154.99,985.20 L155.50,987.45 L156.01,989.69 L156.52,991.93 L157.05,994.18 L157.57,996.42 L158.11,998.65 L158.65,1000.89 L159.20,1003.13 L159.75,1005.36 L160.31,1007.60 L160.88,1009.83 L161.45,1012.06 L162.03,1014.29 L162.62,1016.51 L163.21,1018.74 L163.81,1020.96 L164.42,1023.19 L165.03,1025.41 L165.66,1027.63 L166.28,1029.84 L166.92,1032.06 L167.56,1034.28 L168.21,1036.49 L168.87,1038.70 L169.53,1040.91 L170.20,1043.12 L170.88,1045.32 L171.56,1047.53 L172.26,1049.73 L172.96,1051.93 L173.66,1054.12 L174.38,1056.32 L175.10,1058.51 L175.83,1060.70 L176.56,1062.89 L177.31,1065.08 L178.06,1067.26 L178.82,1069.45 L179.58,1071.63 L180.36,1073.80 L181.14,1075.98 L181.93,1078.15 L182.73,1080.32 L183.53,1082.49 L184.35,1084.65 L185.17,1086.81 L185.99,1088.97 L186.83,1091.13 L187.68,1093.28 L188.53,1095.43 L189.39,1097.58 L190.26,1099.72 L191.13,1101.87 L192.02,1104.01 L192.91,1106.14 L193.81,1108.27 L194.72,1110.40 L195.63,1112.53 L196.56,1114.65 L197.49,1116.77 L198.44,1118.89 L199.39,1121.00 L200.34,1123.11 L201.31,1125.22 L202.29,1127.32 L203.27,1129.42 L204.26,1131.52 L205.26,1133.61 L206.27,1135.70 L207.29,1137.79 L208.32,1139.87 L209.35,1141.94 L210.39,1144.02 L211.45,1146.09 L212.51,1148.16 L213.58,1150.22 L214.66,1152.28 L215.74,1154.33 L216.84,1156.38 L217.95,1158.43 L219.06,1160.47 L220.19,1162.50 L221.32,1164.53 L222.47,1166.56 L223.62,1168.57 L224.78,1170.59 L225.96,1172.59 L227.14,1174.59 L228.34,1176.59 L229.54,1178.57 L230.76,1180.55 L231.99,1182.53 L233.22,1184.49 L234.47,1186.45 L235.73,1188.40 L237.00,1190.34 L238.28,1192.27 L239.58,1194.19 L240.88,1196.11 L242.20,1198.02 L243.53,1199.91 L244.87,1201.80 L246.23,1203.68 L247.59,1205.54 L248.97,1207.40 L250.36,1209.25 L251.76,1211.08 L253.18,1212.91 L254.61,1214.72 L256.05,1216.52 L257.51,1218.32 L258.97,1220.09 L260.46,1221.86 L261.95,1223.62 L263.46,1225.36 L264.98,1227.09 L266.52,1228.81 L268.07,1230.51 L269.64,1232.20 L271.22,1233.88 L272.81,1235.54 L274.42,1237.19 L276.04,1238.83 L277.68,1240.45 L279.33,1242.06 L280.99,1243.65 L282.66,1245.23 L284.35,1246.79 L286.06,1248.34 L287.77,1249.87 L289.50,1251.39 L291.24,1252.89 L293.00,1254.38 L294.77,1255.85 L296.55,1257.31 L298.34,1258.74 L300.15,1260.17 L301.97,1261.57 L303.80,1262.96 L305.64,1264.34 L307.50,1265.69 L309.37,1267.03 L311.25,1268.35 L313.14,1269.66 L315.04,1270.94 L316.96,1272.21 L318.89,1273.46 L320.83,1274.70 L322.78,1275.91 L324.74,1277.11 L326.71,1278.28 L328.70,1279.44 L330.69,1280.58 L332.70,1281.70 L334.72,1282.81 L336.75,1283.89 L338.79,1284.96 L340.84,1286.00 L342.89,1287.03 L344.96,1288.04 L347.04,1289.03 L349.13,1290.00 L351.22,1290.96 L353.32,1291.89 L355.43,1292.81 L357.55,1293.71 L359.68,1294.60 L361.81,1295.46 L363.95,1296.31 L366.10,1297.14 L368.25,1297.95 L370.41,1298.75 L372.58,1299.53 L374.75,1300.29 L376.92,1301.04 L379.11,1301.77 L381.29,1302.48 L383.48,1303.17 L385.68,1303.85 L387.87,1304.51 L390.08,1305.16 L392.28,1305.79 L394.49,1306.41 L396.71,1307.01 L398.92,1307.59 L401.14,1308.16 L403.37,1308.71 L405.60,1309.25 L407.83,1309.78 L410.06,1310.29 L412.30,1310.78 L414.54,1311.27 L416.78,1311.73 L419.03,1312.19 L421.28,1312.63 L423.53,1313.06 L425.79,1313.48 L428.05,1313.88 L430.31,1314.27 L432.57,1314.65 L434.84,1315.02 L437.11,1315.37 L439.38,1315.72 L441.66,1316.05 L443.93,1316.37 L446.21,1316.68 L448.49,1316.98 L450.78,1317.26 L453.06,1317.54 L455.35,1317.81 L457.64,1318.07 L459.93,1318.31 L462.23,1318.55 L464.52,1318.78 L466.82,1319.00 L469.12,1319.21 L471.42,1319.41 L473.72,1319.61 L476.03,1319.79 L478.33,1319.97 L480.64,1320.14 L482.95,1320.30 L485.26,1320.45 L487.57,1320.60 L489.88,1320.74 L492.20,1320.87 L494.51,1320.99 L496.83,1321.11 L499.14,1321.22 L501.46,1321.33 L503.78,1321.43 L506.10,1321.53 L508.42,1321.62 L510.74,1321.70 L513.06,1321.78 L515.38,1321.85 L517.71,1321.92 L520.03,1321.99 L522.35,1322.05 L524.68,1322.10 L527.00,1322.16 L529.32,1322.21 L531.65,1322.25 L533.97,1322.29 L536.30,1322.33 L538.62,1322.37 L540.94,1322.40 L543.27,1322.43 L545.59,1322.46 L547.92,1322.49 L550.24,1322.51 L552.56,1322.54 L554.88,1322.56 L557.20,1322.58 L559.53,1322.60 L561.85,1322.62 L564.17,1322.64 L566.49,1322.65 L568.81,1322.67 L571.12,1322.68 L573.44,1322.69 L575.76,1322.70 L578.08,1322.71 L580.39,1322.72 L582.71,1322.73 L585.03,1322.73 L587.34,1322.74 L589.66,1322.74 L591.97,1322.74 L594.29,1322.74 L596.60,1322.74 L598.92,1322.74 L601.23,1322.74 L603.54,1322.74 L605.85,1322.73 L608.17,1322.73 L610.48,1322.72 L612.79,1322.71 L615.10,1322.71 L617.41,1322.70 L619.72,1322.69 L622.03,1322.68 L624.34,1322.66 L626.65,1322.65 L628.96,1322.64 L631.27,1322.62 L633.58,1322.61 L635.88,1322.59 L638.19,1322.57 L640.50,1322.55 L642.81,1322.53 L645.11,1322.51 L647.42,1322.49 L649.73,1322.47 L652.03,1322.45 L654.34,1322.42 L656.65,1322.40 L658.95,1322.37 L661.26,1322.35 L663.56,1322.32 L665.86,1322.30 L668.17,1322.27 L670.47,1322.24 L672.78,1322.21 L675.08,1322.18 L677.38,1322.15 L679.69,1322.12 L681.99,1322.09 L684.29,1322.05 L686.60,1322.02 L688.90,1321.99 L691.20,1321.95 L693.50,1321.92 L695.81,1321.88 L698.11,1321.85 L700.41,1321.81 L702.71,1321.77 L705.01,1321.73 L707.31,1321.70 L709.61,1321.66 L711.92,1321.62 L714.22,1321.58 L716.52,1321.54 L718.82,1321.50 L721.12,1321.46 L723.42,1321.42 L725.72,1321.38 L728.02,1321.33 L730.32,1321.29 L732.62,1321.25 L734.92,1321.21 L737.22,1321.16 L739.52,1321.12 L741.82,1321.08 L744.12,1321.03 L746.42,1320.99 L748.72,1320.94 L751.02,1320.90 L753.32,1320.85 L755.62,1320.81 L757.92,1320.76 L760.22,1320.72 L762.52,1320.67 L764.81,1320.62 L767.11,1320.58 L769.41,1320.53 L771.71,1320.48 L774.01,1320.44 L776.31,1320.39 L778.61,1320.34 L780.91,1320.30 L783.21,1320.25 L785.51,1320.20 L787.81,1320.15 L790.11,1320.11 L792.41,1320.06 L794.71,1320.01 L797.01,1319.97 L799.31,1319.92 L801.61,1319.87 L803.91,1319.82 L806.21,1319.78 L808.51,1319.73 L810.81,1319.68 L813.11,1319.64 L815.41,1319.59 L817.71,1319.54 L820.01,1319.50 L822.32,1319.45 L824.62,1319.41 L826.92,1319.36 L829.22,1319.31 L831.52,1319.27 L833.82,1319.22 L836.12,1319.18 L838.43,1319.13 L840.73,1319.09 L843.03,1319.04 L845.33,1319.00 L847.64,1318.96 L849.94,1318.91 L852.24,1318.87 L854.55,1318.83 L856.85,1318.78 L859.15,1318.74 L861.46,1318.70 L863.76,1318.66 L866.07,1318.62 L868.37,1318.58 L870.68,1318.54 L872.98,1318.50 L875.29,1318.46 L877.59,1318.42 L879.90,1318.38 L882.21,1318.34 L884.51,1318.31 L886.82,1318.27 L889.13,1318.23 L891.43,1318.20 L893.74,1318.16 L896.05,1318.13 L898.36,1318.09 L900.67,1318.06 L902.98,1318.03 L905.28,1318.00 L907.59,1317.96 L909.90,1317.93 L912.21,1317.90 L914.52,1317.87 L916.84,1317.84 L919.15,1317.82 L921.46,1317.79 L923.77,1317.76 L926.08,1317.74 L928.40,1317.71 L930.71,1317.69 L933.02,1317.66 L935.34,1317.64 L937.65,1317.62 L939.97,1317.60 L942.28,1317.58 L944.60,1317.56 L946.91,1317.54 L949.23,1317.52 L951.55,1317.50 L953.86,1317.49 L956.18,1317.47 L958.50,1317.46 L960.82,1317.44 L963.14,1317.43 L965.46,1317.42 L967.78,1317.41 L970.10,1317.40 L972.42,1317.39 L974.74,1317.38 L977.06,1317.37 L979.38,1317.37 L981.71,1317.36 L984.03,1317.36 L986.35,1317.36 L988.68,1317.36 L991.00,1317.36 L993.33,1317.36 L995.65,1317.36 L997.98,1317.36 L1000.31,1317.37 L1002.63,1317.37 L1004.96,1317.38 L1007.29,1317.38 L1009.62,1317.39 L1011.95,1317.40 L1014.28,1317.41 L1016.61,1317.43 L1018.94,1317.44 L1021.28,1317.46 L1021.29,1315.14 L1018.96,1315.12 L1016.63,1315.11 L1014.29,1315.09 L1011.96,1315.08 L1009.63,1315.07 L1007.30,1315.06 L1004.97,1315.05 L1002.64,1315.04 L1000.31,1315.04 L997.98,1315.03 L995.66,1315.03 L993.33,1315.03 L991.00,1315.02 L988.68,1315.03 L986.35,1315.03 L984.03,1315.03 L981.70,1315.03 L979.38,1315.04 L977.05,1315.05 L974.73,1315.05 L972.41,1315.06 L970.09,1315.07 L967.77,1315.08 L965.44,1315.09 L963.12,1315.11 L960.80,1315.12 L958.48,1315.14 L956.17,1315.15 L953.85,1315.17 L951.53,1315.19 L949.21,1315.21 L946.89,1315.23 L944.58,1315.25 L942.26,1315.27 L939.94,1315.30 L937.63,1315.32 L935.31,1315.34 L933.00,1315.37 L930.69,1315.40 L928.37,1315.42 L926.06,1315.45 L923.74,1315.48 L921.43,1315.51 L919.12,1315.54 L916.81,1315.58 L914.50,1315.61 L912.19,1315.64 L909.87,1315.68 L907.56,1315.71 L905.25,1315.75 L902.94,1315.78 L900.63,1315.82 L898.33,1315.86 L896.02,1315.89 L893.71,1315.93 L891.40,1315.97 L889.09,1316.01 L886.78,1316.05 L884.48,1316.10 L882.17,1316.14 L879.86,1316.18 L877.56,1316.22 L875.25,1316.27 L872.94,1316.31 L870.64,1316.36 L868.33,1316.40 L866.03,1316.45 L863.72,1316.49 L861.42,1316.54 L859.12,1316.59 L856.81,1316.63 L854.51,1316.68 L852.20,1316.73 L849.90,1316.78 L847.60,1316.83 L845.29,1316.88 L842.99,1316.92 L840.69,1316.97 L838.39,1317.02 L836.08,1317.08 L833.78,1317.13 L831.48,1317.18 L829.18,1317.23 L826.88,1317.28 L824.58,1317.33 L822.27,1317.38 L819.97,1317.44 L817.67,1317.49 L815.37,1317.54 L813.07,1317.59 L810.77,1317.64 L808.47,1317.70 L806.17,1317.75 L803.87,1317.80 L801.57,1317.86 L799.27,1317.91 L796.97,1317.96 L794.67,1318.01 L792.37,1318.06 L790.07,1318.11 L787.77,1318.16 L785.47,1318.20 L783.17,1318.25 L780.87,1318.30 L778.57,1318.34 L776.27,1318.39 L773.97,1318.44 L771.67,1318.48 L769.37,1318.53 L767.07,1318.58 L764.77,1318.62 L762.48,1318.67 L760.18,1318.72 L757.88,1318.76 L755.58,1318.81 L753.28,1318.85 L750.98,1318.90 L748.68,1318.94 L746.38,1318.99 L744.08,1319.03 L741.78,1319.08 L739.48,1319.12 L737.18,1319.16 L734.88,1319.21 L732.58,1319.25 L730.28,1319.29 L727.98,1319.33 L725.68,1319.38 L723.38,1319.42 L721.08,1319.46 L718.78,1319.50 L716.48,1319.54 L714.18,1319.58 L711.88,1319.62 L709.58,1319.66 L707.28,1319.70 L704.98,1319.73 L702.68,1319.77 L700.38,1319.81 L698.08,1319.85 L695.77,1319.88 L693.47,1319.92 L691.17,1319.95 L688.87,1319.99 L686.57,1320.02 L684.27,1320.05 L681.96,1320.09 L679.66,1320.12 L677.36,1320.15 L675.05,1320.18 L672.75,1320.21 L670.45,1320.24 L668.14,1320.27 L665.84,1320.30 L663.54,1320.32 L661.23,1320.35 L658.93,1320.37 L656.62,1320.40 L654.32,1320.42 L652.01,1320.45 L649.71,1320.47 L647.40,1320.49 L645.10,1320.51 L642.79,1320.53 L640.48,1320.55 L638.18,1320.57 L635.87,1320.59 L633.56,1320.61 L631.26,1320.62 L628.95,1320.64 L626.64,1320.65 L624.33,1320.66 L622.02,1320.68 L619.71,1320.69 L617.40,1320.70 L615.09,1320.71 L612.78,1320.71 L610.47,1320.72 L608.16,1320.73 L605.85,1320.73 L603.54,1320.74 L601.23,1320.74 L598.91,1320.74 L596.60,1320.74 L594.29,1320.74 L591.97,1320.74 L589.66,1320.74 L587.35,1320.74 L585.03,1320.73 L582.72,1320.73 L580.40,1320.72 L578.08,1320.71 L575.77,1320.70 L573.45,1320.69 L571.13,1320.68 L568.82,1320.67 L566.50,1320.65 L564.18,1320.64 L561.86,1320.62 L559.54,1320.60 L557.22,1320.58 L554.90,1320.56 L552.58,1320.54 L550.26,1320.51 L547.94,1320.49 L545.62,1320.46 L543.29,1320.43 L540.97,1320.40 L538.65,1320.37 L536.33,1320.33 L534.01,1320.29 L531.69,1320.25 L529.36,1320.21 L527.04,1320.16 L524.72,1320.10 L522.40,1320.05 L520.08,1319.99 L517.76,1319.92 L515.45,1319.85 L513.13,1319.78 L510.81,1319.70 L508.49,1319.62 L506.18,1319.53 L503.86,1319.43 L501.55,1319.33 L499.24,1319.23 L496.93,1319.12 L494.62,1319.00 L492.31,1318.87 L490.00,1318.74 L487.69,1318.60 L485.39,1318.46 L483.09,1318.30 L480.78,1318.14 L478.48,1317.97 L476.19,1317.77 L473.89,1317.56 L471.60,1317.35 L469.31,1317.12 L467.02,1316.89 L464.73,1316.64 L462.45,1316.38 L460.17,1316.12 L457.89,1315.84 L455.61,1315.55 L453.34,1315.25 L451.06,1314.94 L448.80,1314.62 L446.53,1314.28 L444.27,1313.94 L442.01,1313.58 L439.75,1313.21 L437.50,1312.82 L435.25,1312.43 L433.01,1312.02 L430.76,1311.59 L428.53,1311.16 L426.29,1310.71 L424.06,1310.24 L421.83,1309.76 L419.61,1309.27 L417.39,1308.76 L415.18,1308.24 L412.97,1307.70 L410.77,1307.15 L408.57,1306.58 L406.37,1306.00 L404.18,1305.40 L402.00,1304.78 L399.82,1304.15 L397.64,1303.50 L395.47,1302.84 L393.31,1302.16 L391.15,1301.46 L389.00,1300.74 L386.85,1300.01 L384.71,1299.26 L382.57,1298.49 L380.45,1297.70 L378.32,1296.90 L376.21,1296.07 L374.09,1295.27 L371.97,1294.46 L369.86,1293.64 L367.76,1292.80 L365.66,1291.95 L363.57,1291.07 L361.49,1290.18 L359.42,1289.27 L357.35,1288.35 L355.30,1287.40 L353.25,1286.44 L351.22,1285.46 L349.20,1284.44 L347.20,1283.40 L345.21,1282.35 L343.22,1281.27 L341.25,1280.18 L339.30,1279.06 L337.35,1277.93 L335.42,1276.78 L333.50,1275.62 L331.59,1274.43 L329.70,1273.22 L327.82,1272.00 L325.95,1270.75 L324.10,1269.49 L322.26,1268.21 L320.43,1266.91 L318.62,1265.60 L316.80,1264.29 L314.96,1263.02 L313.13,1261.73 L311.31,1260.43 L309.50,1259.10 L307.70,1257.77 L305.92,1256.41 L304.15,1255.04 L302.39,1253.66 L300.64,1252.25 L298.90,1250.83 L297.18,1249.40 L295.47,1247.95 L293.77,1246.49 L292.08,1245.01 L290.41,1243.51 L288.75,1242.00 L287.10,1240.48 L285.46,1238.94 L283.84,1237.38 L282.23,1235.81 L280.62,1234.25 L279.01,1232.68 L277.41,1231.10 L275.82,1229.51 L274.25,1227.90 L272.69,1226.28 L271.14,1224.64 L269.60,1222.99 L268.08,1221.32 L266.57,1219.65 L265.07,1217.96 L263.59,1216.26 L262.12,1214.54 L260.65,1212.81 L259.20,1211.07 L257.77,1209.32 L256.34,1207.56 L254.93,1205.78 L253.52,1204.00 L252.13,1202.20 L250.75,1200.39 L249.38,1198.57 L248.02,1196.74 L246.71,1194.88 L245.40,1193.01 L244.11,1191.13 L242.83,1189.24 L241.55,1187.34 L240.29,1185.43 L239.04,1183.51 L237.80,1181.59 L236.57,1179.65 L235.36,1177.71 L234.15,1175.76 L232.95,1173.81 L231.76,1171.84 L230.58,1169.87 L229.41,1167.90 L228.25,1165.91 L227.10,1163.92 L225.96,1161.92 L224.83,1159.92 L223.71,1157.91 L222.60,1155.90 L221.49,1153.88 L220.40,1151.85 L219.31,1149.82 L218.23,1147.79 L217.16,1145.75 L216.10,1143.71 L215.05,1141.66 L214.01,1139.61 L212.97,1137.56 L211.95,1135.50 L210.93,1133.44 L209.92,1131.37 L208.92,1129.30 L207.93,1127.23 L206.94,1125.15 L205.96,1123.07 L205.00,1120.99 L204.04,1118.90 L203.09,1116.81 L202.14,1114.72 L201.21,1112.62 L200.28,1110.52 L199.36,1108.41 L198.45,1106.30 L197.55,1104.19 L196.65,1102.08 L195.77,1099.96 L194.88,1097.84 L193.99,1095.73 L193.11,1093.61 L192.23,1091.49 L191.37,1089.36 L190.51,1087.23 L189.65,1085.10 L188.81,1082.97 L187.97,1080.83 L187.14,1078.69 L186.32,1076.55 L185.50,1074.40 L184.70,1072.25 L183.90,1070.10 L183.11,1067.95 L182.32,1065.79 L181.54,1063.63 L180.77,1061.47 L180.01,1059.31 L179.25,1057.14 L178.51,1054.97 L177.76,1052.80 L177.03,1050.62 L176.30,1048.45 L175.58,1046.27 L174.87,1044.09 L174.17,1041.90 L173.47,1039.72 L172.78,1037.53 L172.09,1035.34 L171.41,1033.15 L170.74,1030.96 L170.08,1028.76 L169.42,1026.57 L168.77,1024.37 L168.13,1022.17 L167.49,1019.96 L166.87,1017.76 L166.26,1015.55 L165.65,1013.34 L165.05,1011.13 L164.45,1008.91 L163.87,1006.70 L163.28,1004.48 L162.71,1002.26 L162.14,1000.04 L161.58,997.82 L161.02,995.60 L160.47,993.37 L159.93,991.15 L159.39,988.92 L158.86,986.69 L158.33,984.46 L157.82,982.22 L157.30,979.99 L156.79,977.76 L156.29,975.52 L155.80,973.28 L155.31,971.04 L154.82,968.80 L154.34,966.56 L153.87,964.31 L153.40,962.07 L152.94,959.82 L152.48,957.57 L152.03,955.32 L151.59,953.07 L151.15,950.82 L150.71,948.57 L150.28,946.31 L149.85,944.06 L149.43,941.80 L149.02,939.54 L148.61,937.28 L148.20,935.02 L147.80,932.76 L147.41,930.50 L147.02,928.23 L146.63,925.97 L146.25,923.70 L145.88,921.44 L145.51,919.17 L145.14,916.90 L144.78,914.63 L144.42,912.36 L144.06,910.08 L143.72,907.81 L143.37,905.54 L143.03,903.26 L142.69,900.98 L142.37,898.71 L142.05,896.43 L141.74,894.15 L141.44,891.86 L141.14,889.58 L140.84,887.30 L140.55,885.01 L140.26,882.73 L139.97,880.44 L139.69,878.16 L139.41,875.87 L139.13,873.58 L138.86,871.29 L138.59,869.00 L138.33,866.71 L138.07,864.42 L137.81,862.13 L137.56,859.84 L137.31,857.54 L137.06,855.25 L136.82,852.96 L136.57,850.66 L136.34,848.37 L136.10,846.07 L135.87,843.78 L135.64,841.48 L135.42,839.18 L135.19,836.88 L134.97,834.58 L134.76,832.29 L134.54,829.99 L134.33,827.69 L134.12,825.39 L133.91,823.09 L133.71,820.79 L133.51,818.48 L133.31,816.18 L133.11,813.88 L132.92,811.58 L132.72,809.27 L132.53,806.97 L132.35,804.67 L132.16,802.36 L131.98,800.06 L131.79,797.76 L131.62,795.45 L131.44,793.15 L131.26,790.84 L131.09,788.54 L130.92,786.23 L130.75,783.93 L130.58,781.62 L130.41,779.31 L130.25,777.01 L130.08,774.70 L129.92,772.40 L129.76,770.09 L129.60,767.78 L129.44,765.48 L129.28,763.17 L129.13,760.86 L128.97,758.56 L128.82,756.25 L128.67,753.94 L128.52,751.64 L128.37,749.33 L128.22,747.03 L128.07,744.72 L127.92,742.41 L127.78,740.11 L127.63,737.80 L127.49,735.49 L127.34,733.19 L127.20,730.88 L127.06,728.58 L126.91,726.27 L126.77,723.97 L126.63,721.66 L126.49,719.36 L126.35,717.05 L126.21,714.75 L126.07,712.45 L125.92,710.14 L125.78,707.84 L125.64,705.54 L125.50,703.23 L125.36,700.93 L125.22,698.63 L125.08,696.33 L124.94,694.03 L124.80,691.72 L124.66,689.42 L124.52,687.12 L124.38,684.82 L124.24,682.52 L124.11,680.23 L123.98,677.93 L123.84,675.63 L123.71,673.33 L123.58,671.03 L123.44,668.74 L123.31,666.44 L123.17,664.14 L123.03,661.85 L122.89,659.55 L122.75,657.26 L122.61,654.97 Z" fill="#cccccc"/>
<path d="M113.67,654.98 L113.70,657.35 L113.74,659.72 L113.77,662.08 L113.80,664.45 L113.84,666.81 L113.88,669.18 L113.92,671.54 L113.96,673.91 L114.01,676.27 L114.05,678.63 L114.10,681.00 L114.15,683.36 L114.20,685.72 L114.25,688.08 L114.30,690.45 L114.36,692.81 L114.42,695.17 L114.47,697.53 L114.53,699.89 L114.60,702.25 L114.66,704.61 L114.72,706.97 L114.79,709.33 L114.86,711.69 L114.92,714.05 L114.99,716.41 L115.07,718.77 L115.14,721.13 L115.21,723.49 L115.29,725.85 L115.36,728.21 L115.44,730.56 L115.52,732.92 L115.60,735.28 L115.68,737.64 L115.76,740.00 L115.85,742.35 L115.93,744.71 L116.01,747.07 L116.10,749.43 L116.19,751.78 L116.28,754.14 L116.37,756.50 L116.46,758.86 L116.55,761.21 L116.64,763.57 L116.73,765.93 L116.83,768.28 L116.92,770.64 L117.02,773.00 L117.11,775.36 L117.21,777.71 L117.31,780.07 L117.41,782.43 L117.51,784.78 L117.61,787.14 L117.71,789.50 L117.81,791.86 L117.91,794.21 L118.01,796.57 L118.12,798.93 L118.22,801.29 L118.33,803.64 L118.43,806.00 L118.54,808.36 L118.64,810.72 L118.75,813.08 L118.86,815.43 L118.96,817.79 L119.07,820.15 L119.18,822.51 L119.29,824.87 L119.39,827.23 L119.50,829.59 L119.61,831.95 L119.72,834.31 L119.83,836.66 L119.94,839.03 L120.05,841.39 L120.16,843.75 L120.27,846.11 L120.38,848.47 L120.49,850.83 L120.60,853.19 L120.71,855.55 L120.83,857.91 L120.94,860.28 L121.05,862.64 L121.16,865.00 L121.27,867.36 L121.38,869.73 L121.49,872.09 L121.60,874.46 L121.72,876.82 L121.83,879.18 L121.95,881.55 L122.06,883.91 L122.18,886.28 L122.30,888.64 L122.42,891.00 L122.54,893.37 L122.66,895.73 L122.79,898.10 L122.92,900.46 L123.04,902.82 L123.17,905.19 L123.31,907.55 L123.44,909.92 L123.58,912.28 L123.72,914.64 L123.86,917.00 L124.01,919.37 L124.16,921.73 L124.31,924.09 L124.47,926.45 L124.62,928.81 L124.78,931.17 L124.95,933.53 L125.12,935.89 L125.29,938.25 L125.47,940.61 L125.65,942.97 L125.83,945.33 L126.02,947.69 L126.21,950.04 L126.41,952.40 L126.61,954.75 L126.82,957.11 L127.03,959.46 L127.24,961.82 L127.46,964.17 L127.69,966.52 L127.92,968.87 L128.16,971.22 L128.40,973.57 L128.65,975.92 L128.90,978.27 L129.16,980.62 L129.42,982.96 L129.70,985.31 L129.97,987.65 L130.26,989.99 L130.55,992.34 L130.84,994.68 L131.14,997.02 L131.45,999.36 L131.77,1001.69 L132.09,1004.03 L132.42,1006.37 L132.76,1008.70 L133.11,1011.03 L133.46,1013.37 L133.82,1015.70 L134.19,1018.03 L134.56,1020.35 L134.95,1022.68 L135.34,1025.01 L135.74,1027.33 L136.14,1029.65 L136.56,1031.98 L136.98,1034.30 L137.42,1036.61 L137.86,1038.93 L138.31,1041.25 L138.77,1043.56 L139.24,1045.87 L139.71,1048.18 L140.20,1050.49 L140.70,1052.80 L141.20,1055.11 L141.72,1057.41 L142.24,1059.71 L142.78,1062.02 L143.32,1064.31 L143.88,1066.61 L144.44,1068.91 L145.02,1071.20 L145.61,1073.49 L146.21,1075.77 L146.82,1078.06 L147.44,1080.34 L148.07,1082.62 L148.72,1084.89 L149.38,1087.16 L150.05,1089.43 L150.73,1091.69 L151.43,1093.94 L152.14,1096.20 L152.86,1098.45 L153.60,1100.69 L154.35,1102.93 L155.11,1105.16 L155.89,1107.39 L156.69,1109.61 L157.50,1111.82 L158.32,1114.03 L159.16,1116.24 L160.02,1118.43 L160.89,1120.63 L161.77,1122.81 L162.68,1124.99 L163.60,1127.15 L164.53,1129.32 L165.49,1131.47 L166.46,1133.62 L167.44,1135.76 L168.45,1137.89 L169.47,1140.01 L170.51,1142.12 L171.57,1144.23 L172.65,1146.33 L173.75,1148.41 L174.86,1150.49 L176.00,1152.56 L177.15,1154.62 L178.32,1156.67 L179.51,1158.71 L180.72,1160.74 L181.94,1162.76 L183.19,1164.77 L184.44,1166.78 L185.72,1168.77 L187.00,1170.76 L188.31,1172.74 L189.63,1174.71 L190.96,1176.67 L192.30,1178.62 L193.66,1180.56 L195.04,1182.49 L196.42,1184.42 L197.82,1186.34 L199.23,1188.25 L200.65,1190.15 L202.08,1192.04 L203.52,1193.92 L204.97,1195.80 L206.43,1197.67 L207.90,1199.53 L209.38,1201.38 L210.87,1203.23 L212.37,1205.06 L213.87,1206.89 L215.39,1208.71 L216.91,1210.52 L218.45,1212.32 L219.99,1214.12 L221.54,1215.90 L223.10,1217.67 L224.67,1219.44 L226.26,1221.20 L227.85,1222.94 L229.45,1224.68 L231.06,1226.40 L232.68,1228.12 L234.31,1229.83 L235.95,1231.52 L237.60,1233.21 L239.26,1234.88 L240.93,1236.55 L242.61,1238.20 L244.31,1239.84 L246.01,1241.47 L247.72,1243.09 L249.45,1244.69 L251.18,1246.29 L252.93,1247.87 L254.69,1249.44 L256.46,1250.99 L258.24,1252.53 L260.04,1254.06 L261.85,1255.57 L263.67,1257.06 L265.50,1258.53 L267.35,1259.99 L269.21,1261.43 L271.08,1262.84 L272.97,1264.24 L274.88,1265.62 L276.80,1266.98 L278.73,1268.31 L280.68,1269.62 L282.65,1270.91 L284.63,1272.18 L286.62,1273.43 L288.63,1274.65 L290.65,1275.85 L292.68,1277.04 L294.73,1278.20 L296.78,1279.35 L298.85,1280.48 L300.92,1281.59 L303.01,1282.69 L305.10,1283.77 L307.20,1284.84 L309.30,1285.89 L311.42,1286.92 L313.54,1287.94 L315.66,1288.95 L317.80,1289.94 L319.93,1290.92 L322.08,1291.88 L324.23,1292.83 L326.38,1293.77 L328.54,1294.70 L330.70,1295.61 L332.87,1296.51 L335.04,1297.39 L337.21,1298.27 L339.39,1299.12 L341.57,1299.97 L343.76,1300.80 L345.96,1301.61 L348.16,1302.41 L350.36,1303.19 L352.57,1303.95 L354.79,1304.70 L357.01,1305.43 L359.24,1306.14 L361.47,1306.83 L363.71,1307.50 L365.96,1308.16 L368.21,1308.79 L370.47,1309.41 L372.74,1310.00 L375.01,1310.58 L377.28,1311.14 L379.56,1311.69 L381.85,1312.21 L384.14,1312.72 L386.44,1313.22 L388.74,1313.69 L391.04,1314.15 L393.35,1314.60 L395.67,1315.03 L397.98,1315.45 L400.30,1315.85 L402.63,1316.24 L404.96,1316.61 L407.29,1316.98 L409.62,1317.32 L411.96,1317.66 L414.30,1317.98 L416.64,1318.29 L418.99,1318.59 L421.34,1318.88 L423.69,1319.16 L426.04,1319.42 L428.39,1319.68 L430.75,1319.92 L433.10,1320.16 L435.46,1320.39 L437.82,1320.60 L440.18,1320.81 L442.54,1321.01 L444.90,1321.20 L447.26,1321.39 L449.62,1321.57 L451.98,1321.74 L454.35,1321.90 L456.71,1322.06 L459.07,1322.21 L461.43,1322.35 L463.79,1322.49 L466.15,1322.62 L468.52,1322.74 L470.88,1322.86 L473.24,1322.98 L475.60,1323.08 L477.96,1323.19 L480.32,1323.28 L482.68,1323.38 L485.04,1323.46 L487.40,1323.55 L489.76,1323.62 L492.12,1323.70 L494.49,1323.77 L496.85,1323.83 L499.21,1323.89 L501.57,1323.95 L503.93,1324.00 L506.29,1324.05 L508.65,1324.09 L511.01,1324.13 L513.37,1324.17 L515.73,1324.20 L518.09,1324.23 L520.45,1324.26 L522.81,1324.28 L525.17,1324.30 L527.53,1324.32 L529.89,1324.34 L532.25,1324.35 L534.61,1324.37 L536.97,1324.38 L539.33,1324.38 L541.69,1324.39 L544.05,1324.39 L546.41,1324.39 L548.77,1324.40 L551.13,1324.39 L553.49,1324.39 L555.85,1324.39 L558.21,1324.39 L560.57,1324.38 L562.94,1324.37 L565.30,1324.37 L567.66,1324.36 L570.02,1324.35 L572.38,1324.34 L574.74,1324.33 L577.10,1324.31 L579.46,1324.30 L581.82,1324.28 L584.18,1324.27 L586.54,1324.25 L588.90,1324.23 L591.26,1324.22 L593.62,1324.20 L595.98,1324.18 L598.34,1324.15 L600.70,1324.13 L603.07,1324.11 L605.43,1324.09 L607.79,1324.06 L610.15,1324.04 L612.51,1324.01 L614.87,1323.98 L617.23,1323.95 L619.59,1323.92 L621.95,1323.90 L624.31,1323.86 L626.67,1323.83 L629.04,1323.80 L631.40,1323.77 L633.76,1323.74 L636.12,1323.70 L638.48,1323.67 L640.84,1323.63 L643.20,1323.60 L645.56,1323.56 L647.92,1323.52 L650.29,1323.48 L652.65,1323.44 L655.01,1323.41 L657.37,1323.37 L659.73,1323.33 L662.09,1323.28 L664.45,1323.24 L666.81,1323.20 L669.18,1323.16 L671.54,1323.12 L673.90,1323.07 L676.26,1323.03 L678.62,1322.98 L680.98,1322.94 L683.34,1322.89 L685.70,1322.85 L688.07,1322.80 L690.43,1322.75 L692.79,1322.71 L695.15,1322.66 L697.51,1322.61 L699.87,1322.56 L702.23,1322.51 L704.60,1322.46 L706.96,1322.41 L709.32,1322.37 L711.68,1322.32 L714.04,1322.26 L716.40,1322.21 L718.76,1322.16 L721.13,1322.11 L723.49,1322.06 L725.85,1322.01 L728.21,1321.96 L730.57,1321.91 L732.93,1321.85 L735.30,1321.80 L737.66,1321.75 L740.02,1321.70 L742.38,1321.64 L744.74,1321.59 L747.10,1321.54 L749.47,1321.48 L751.83,1321.43 L754.19,1321.38 L756.55,1321.32 L758.91,1321.27 L761.27,1321.22 L763.64,1321.16 L766.00,1321.11 L768.36,1321.06 L770.72,1321.00 L773.08,1320.95 L775.44,1320.89 L777.81,1320.84 L780.17,1320.79 L782.53,1320.73 L784.89,1320.68 L787.25,1320.63 L789.61,1320.58 L791.98,1320.52 L794.34,1320.47 L796.70,1320.42 L799.06,1320.36 L801.42,1320.31 L803.79,1320.26 L806.15,1320.21 L808.51,1320.16 L810.87,1320.10 L813.23,1320.05 L815.59,1320.00 L817.96,1319.95 L820.32,1319.90 L822.68,1319.85 L825.04,1319.80 L827.40,1319.75 L829.76,1319.70 L832.13,1319.65 L834.49,1319.60 L836.85,1319.55 L839.21,1319.51 L841.57,1319.46 L843.94,1319.41 L846.30,1319.36 L848.66,1319.32 L851.02,1319.27 L853.38,1319.23 L855.74,1319.18 L858.11,1319.14 L860.47,1319.09 L862.83,1319.05 L865.19,1319.01 L867.55,1318.96 L869.92,1318.92 L872.28,1318.88 L874.64,1318.84 L877.00,1318.80 L879.36,1318.76 L881.72,1318.72 L884.09,1318.68 L886.45,1318.64 L888.81,1318.61 L891.17,1318.57 L893.53,1318.53 L895.89,1318.50 L898.26,1318.46 L900.62,1318.43 L902.98,1318.39 L905.34,1318.36 L907.70,1318.33 L910.07,1318.30 L912.43,1318.27 L914.79,1318.24 L917.15,1318.21 L919.51,1318.18 L921.87,1318.15 L924.24,1318.13 L926.60,1318.10 L928.96,1318.08 L931.32,1318.05 L933.68,1318.03 L936.04,1318.01 L938.41,1317.99 L940.77,1317.97 L943.13,1317.95 L945.49,1317.93 L947.85,1317.91 L950.21,1317.89 L952.58,1317.88 L954.94,1317.86 L957.30,1317.85 L959.66,1317.84 L962.02,1317.83 L964.38,1317.82 L966.74,1317.81 L969.11,1317.80 L971.47,1317.79 L973.83,1317.78 L976.19,1317.78 L978.55,1317.77 L980.91,1317.77 L983.28,1317.77 L985.64,1317.77 L988.00,1317.77 L990.36,1317.77 L992.72,1317.77 L995.08,1317.78 L997.44,1317.78 L999.81,1317.79 L1002.17,1317.79 L1004.53,1317.80 L1006.89,1317.81 L1009.25,1317.82 L1011.61,1317.84 L1013.97,1317.85 L1016.33,1317.87 L1018.70,1317.88 L1021.06,1317.90 L1021.04,1320.50 L1018.68,1320.49 L1016.32,1320.47 L1013.96,1320.46 L1011.60,1320.44 L1009.24,1320.43 L1006.88,1320.42 L1004.52,1320.41 L1002.16,1320.40 L999.80,1320.40 L997.44,1320.39 L995.08,1320.39 L992.72,1320.38 L990.36,1320.38 L988.00,1320.38 L985.64,1320.38 L983.28,1320.38 L980.92,1320.38 L978.56,1320.38 L976.20,1320.39 L973.84,1320.39 L971.48,1320.40 L969.12,1320.41 L966.75,1320.42 L964.39,1320.42 L962.03,1320.43 L959.67,1320.45 L957.31,1320.46 L954.95,1320.47 L952.59,1320.48 L950.23,1320.50 L947.87,1320.52 L945.51,1320.53 L943.15,1320.55 L940.79,1320.57 L938.43,1320.59 L936.07,1320.61 L933.71,1320.63 L931.35,1320.65 L928.99,1320.67 L926.62,1320.70 L924.26,1320.72 L921.90,1320.75 L919.54,1320.77 L917.18,1320.80 L914.82,1320.83 L912.46,1320.86 L910.10,1320.88 L907.74,1320.91 L905.38,1320.94 L903.02,1320.97 L900.66,1321.01 L898.29,1321.04 L895.93,1321.07 L893.57,1321.11 L891.21,1321.14 L888.85,1321.17 L886.49,1321.21 L884.13,1321.25 L881.77,1321.28 L879.41,1321.32 L877.04,1321.36 L874.68,1321.40 L872.32,1321.44 L869.96,1321.48 L867.60,1321.52 L865.24,1321.56 L862.88,1321.60 L860.52,1321.64 L858.15,1321.68 L855.79,1321.72 L853.43,1321.77 L851.07,1321.81 L848.71,1321.85 L846.35,1321.90 L843.99,1321.94 L841.62,1321.99 L839.26,1322.03 L836.90,1322.08 L834.54,1322.12 L832.18,1322.17 L829.82,1322.22 L827.46,1322.26 L825.09,1322.31 L822.73,1322.36 L820.37,1322.40 L818.01,1322.45 L815.65,1322.50 L813.29,1322.55 L810.92,1322.60 L808.56,1322.65 L806.20,1322.70 L803.84,1322.75 L801.48,1322.80 L799.12,1322.85 L796.76,1322.90 L794.39,1322.95 L792.03,1323.00 L789.67,1323.05 L787.31,1323.10 L784.95,1323.15 L782.58,1323.20 L780.22,1323.25 L777.86,1323.30 L775.50,1323.35 L773.14,1323.40 L770.78,1323.45 L768.41,1323.50 L766.05,1323.55 L763.69,1323.60 L761.33,1323.65 L758.97,1323.71 L756.61,1323.76 L754.24,1323.81 L751.88,1323.86 L749.52,1323.91 L747.16,1323.96 L744.80,1324.01 L742.43,1324.06 L740.07,1324.11 L737.71,1324.16 L735.35,1324.21 L732.99,1324.26 L730.63,1324.31 L728.26,1324.36 L725.90,1324.41 L723.54,1324.46 L721.18,1324.51 L718.82,1324.55 L716.45,1324.60 L714.09,1324.65 L711.73,1324.70 L709.37,1324.75 L707.01,1324.79 L704.65,1324.84 L702.28,1324.89 L699.92,1324.93 L697.56,1324.98 L695.20,1325.02 L692.84,1325.07 L690.47,1325.11 L688.11,1325.16 L685.75,1325.20 L683.39,1325.25 L681.03,1325.29 L678.66,1325.33 L676.30,1325.38 L673.94,1325.42 L671.58,1325.46 L669.22,1325.50 L666.86,1325.54 L664.49,1325.58 L662.13,1325.62 L659.77,1325.66 L657.41,1325.70 L655.05,1325.73 L652.68,1325.77 L650.32,1325.81 L647.96,1325.84 L645.60,1325.88 L643.24,1325.92 L640.88,1325.95 L638.51,1325.98 L636.15,1326.02 L633.79,1326.05 L631.43,1326.08 L629.07,1326.11 L626.71,1326.14 L624.34,1326.17 L621.98,1326.20 L619.62,1326.23 L617.26,1326.26 L614.90,1326.28 L612.54,1326.31 L610.17,1326.33 L607.81,1326.36 L605.45,1326.38 L603.09,1326.40 L600.73,1326.43 L598.37,1326.45 L596.00,1326.47 L593.64,1326.49 L591.28,1326.51 L588.92,1326.52 L586.56,1326.54 L584.20,1326.56 L581.83,1326.57 L579.47,1326.58 L577.11,1326.60 L574.75,1326.61 L572.39,1326.62 L570.03,1326.63 L567.66,1326.64 L565.30,1326.65 L562.94,1326.65 L560.58,1326.66 L558.22,1326.67 L555.86,1326.67 L553.50,1326.67 L551.13,1326.67 L548.77,1326.68 L546.41,1326.67 L544.05,1326.67 L541.69,1326.67 L539.33,1326.66 L536.96,1326.66 L534.60,1326.65 L532.24,1326.64 L529.88,1326.62 L527.51,1326.61 L525.15,1326.59 L522.79,1326.57 L520.42,1326.55 L518.06,1326.52 L515.70,1326.49 L513.33,1326.46 L510.97,1326.42 L508.61,1326.38 L506.24,1326.34 L503.88,1326.30 L501.51,1326.25 L499.15,1326.19 L496.79,1326.14 L494.42,1326.08 L492.06,1326.01 L489.69,1325.94 L487.32,1325.87 L484.96,1325.79 L482.59,1325.71 L480.23,1325.62 L477.86,1325.53 L475.49,1325.43 L473.13,1325.32 L470.76,1325.22 L468.39,1325.10 L466.03,1324.98 L463.66,1324.86 L461.29,1324.73 L458.92,1324.59 L456.55,1324.45 L454.18,1324.30 L451.81,1324.14 L449.45,1323.98 L447.08,1323.81 L444.71,1323.64 L442.34,1323.45 L439.97,1323.26 L437.60,1323.06 L435.23,1322.86 L432.86,1322.64 L430.49,1322.42 L428.12,1322.18 L425.76,1321.94 L423.39,1321.68 L421.03,1321.42 L418.67,1321.14 L416.31,1320.86 L413.95,1320.56 L411.60,1320.25 L409.24,1319.93 L406.89,1319.60 L404.54,1319.25 L402.19,1318.89 L399.85,1318.52 L397.51,1318.13 L395.17,1317.74 L392.83,1317.32 L390.50,1316.89 L388.17,1316.45 L385.85,1315.99 L383.53,1315.52 L381.21,1315.03 L378.90,1314.52 L376.59,1314.00 L374.28,1313.46 L371.98,1312.91 L369.66,1312.42 L367.35,1311.92 L365.03,1311.40 L362.72,1310.86 L360.41,1310.31 L358.11,1309.74 L355.80,1309.15 L353.51,1308.55 L351.21,1307.94 L348.92,1307.31 L346.63,1306.66 L344.35,1306.00 L342.06,1305.33 L339.79,1304.64 L337.56,1303.82 L335.33,1302.99 L333.11,1302.15 L330.90,1301.29 L328.69,1300.42 L326.48,1299.54 L324.27,1298.65 L322.07,1297.74 L319.87,1296.82 L317.68,1295.89 L315.49,1294.94 L313.30,1293.97 L311.12,1293.00 L308.95,1292.01 L306.78,1291.00 L304.61,1289.98 L302.45,1288.94 L300.29,1287.89 L298.15,1286.82 L296.00,1285.74 L293.87,1284.63 L291.74,1283.51 L289.62,1282.37 L287.50,1281.20 L285.40,1280.02 L283.30,1278.81 L281.21,1277.58 L279.14,1276.33 L277.06,1275.07 L274.98,1273.82 L272.90,1272.55 L270.84,1271.26 L268.80,1269.95 L266.76,1268.62 L264.74,1267.27 L262.73,1265.90 L260.74,1264.52 L258.75,1263.11 L256.78,1261.69 L254.83,1260.25 L252.88,1258.80 L250.94,1257.33 L249.02,1255.85 L247.11,1254.35 L245.21,1252.84 L243.34,1251.29 L241.61,1249.61 L239.89,1247.91 L238.18,1246.20 L236.49,1244.48 L234.80,1242.74 L233.13,1241.00 L231.47,1239.25 L229.82,1237.49 L228.18,1235.71 L226.56,1233.93 L224.95,1232.14 L223.34,1230.34 L221.75,1228.52 L220.17,1226.70 L218.60,1224.87 L217.05,1223.03 L215.50,1221.19 L213.96,1219.33 L212.44,1217.47 L210.92,1215.59 L209.42,1213.71 L207.92,1211.82 L206.44,1209.92 L204.96,1208.02 L203.50,1206.11 L202.04,1204.19 L200.59,1202.26 L199.15,1200.33 L197.72,1198.39 L196.30,1196.44 L194.89,1194.48 L193.49,1192.51 L192.10,1190.53 L190.72,1188.54 L189.36,1186.55 L188.01,1184.54 L186.67,1182.53 L185.35,1180.51 L184.04,1178.48 L182.74,1176.44 L181.46,1174.38 L180.20,1172.32 L178.95,1170.26 L177.71,1168.18 L176.50,1166.09 L175.30,1163.99 L174.12,1161.88 L172.95,1159.77 L171.81,1157.64 L170.68,1155.51 L169.58,1153.36 L168.49,1151.20 L167.43,1149.04 L166.38,1146.87 L165.35,1144.69 L164.35,1142.51 L163.36,1140.31 L162.39,1138.11 L161.45,1135.91 L160.52,1133.69 L159.60,1131.47 L158.71,1129.25 L157.84,1127.02 L156.98,1124.78 L156.14,1122.53 L155.31,1120.28 L154.51,1118.03 L153.72,1115.77 L152.94,1113.51 L152.18,1111.24 L151.44,1108.96 L150.71,1106.69 L149.99,1104.40 L149.29,1102.12 L148.60,1099.83 L147.93,1097.54 L147.27,1095.24 L146.63,1092.94 L146.00,1090.64 L145.38,1088.33 L144.78,1086.02 L144.19,1083.71 L143.61,1081.39 L143.05,1079.08 L142.49,1076.76 L141.95,1074.44 L141.42,1072.11 L140.90,1069.79 L140.40,1067.46 L139.90,1065.13 L139.41,1062.81 L138.94,1060.48 L138.45,1058.15 L137.98,1055.82 L137.52,1053.49 L137.06,1051.16 L136.62,1048.83 L136.18,1046.50 L135.76,1044.16 L135.34,1041.83 L134.93,1039.49 L134.54,1037.16 L134.15,1034.82 L133.77,1032.48 L133.39,1030.14 L133.03,1027.80 L132.67,1025.46 L132.33,1023.12 L131.99,1020.77 L131.64,1018.43 L131.29,1016.09 L130.95,1013.75 L130.62,1011.41 L130.29,1009.06 L129.97,1006.72 L129.66,1004.37 L129.36,1002.02 L129.06,999.68 L128.78,997.33 L128.49,994.98 L128.22,992.63 L127.95,990.28 L127.69,987.92 L127.43,985.57 L127.18,983.22 L126.93,980.86 L126.70,978.51 L126.46,976.15 L126.24,973.80 L126.02,971.44 L125.80,969.08 L125.59,966.73 L125.39,964.37 L125.19,962.01 L124.99,959.65 L124.80,957.29 L124.62,954.93 L124.44,952.57 L124.26,950.20 L124.09,947.84 L123.92,945.48 L123.76,943.12 L123.60,940.75 L123.45,938.39 L123.29,936.03 L123.15,933.66 L123.00,931.30 L122.86,928.93 L122.73,926.57 L122.59,924.20 L122.46,921.84 L122.34,919.47 L122.21,917.11 L122.09,914.74 L121.97,912.37 L121.85,910.01 L121.74,907.64 L121.63,905.27 L121.52,902.91 L121.41,900.54 L121.29,898.18 L121.17,895.81 L121.05,893.45 L120.93,891.08 L120.82,888.71 L120.70,886.35 L120.59,883.98 L120.47,881.62 L120.36,879.25 L120.25,876.89 L120.14,874.53 L120.03,872.16 L119.92,869.80 L119.82,867.43 L119.71,865.07 L119.60,862.71 L119.49,860.34 L119.39,857.98 L119.28,855.62 L119.17,853.26 L119.06,850.90 L118.96,848.53 L118.85,846.17 L118.74,843.81 L118.63,841.45 L118.53,839.09 L118.42,836.73 L118.31,834.37 L118.21,832.01 L118.10,829.65 L118.00,827.29 L117.89,824.93 L117.79,822.57 L117.68,820.21 L117.58,817.85 L117.47,815.50 L117.37,813.14 L117.27,810.78 L117.17,808.42 L117.06,806.06 L116.96,803.70 L116.86,801.35 L116.76,798.99 L116.66,796.63 L116.56,794.27 L116.46,791.91 L116.36,789.56 L116.27,787.20 L116.17,784.84 L116.07,782.48 L115.98,780.13 L115.88,777.77 L115.79,775.41 L115.70,773.05 L115.60,770.70 L115.51,768.34 L115.42,765.98 L115.33,763.62 L115.24,761.26 L115.15,758.91 L115.07,756.55 L114.98,754.19 L114.90,751.83 L114.81,749.47 L114.73,747.12 L114.65,744.76 L114.56,742.40 L114.48,740.04 L114.41,737.68 L114.33,735.32 L114.25,732.97 L114.18,730.61 L114.10,728.25 L114.03,725.89 L113.96,723.53 L113.89,721.17 L113.82,718.81 L113.75,716.45 L113.68,714.09 L113.62,711.73 L113.55,709.37 L113.49,707.01 L113.43,704.65 L113.37,702.28 L113.31,699.92 L113.26,697.56 L113.20,695.20 L113.15,692.84 L113.10,690.47 L113.04,688.11 L113.00,685.75 L112.95,683.38 L112.90,681.02 L112.85,678.66 L112.81,676.29 L112.76,673.93 L112.72,671.56 L112.68,669.20 L112.64,666.83 L112.60,664.47 L112.57,662.10 L112.54,659.73 L112.50,657.36 L112.47,655.00 Z" fill="#cccccc"/>
<path d="M353.52,1287.53 L355.64,1288.40 L357.77,1289.25 L359.89,1290.10 L362.02,1290.92 L364.15,1291.74 L366.28,1292.54 L368.42,1293.32 L370.56,1294.09 L372.69,1294.85 L374.84,1295.60 L376.98,1296.33 L379.13,1297.05 L381.28,1297.76 L383.43,1298.46 L385.58,1299.14 L387.74,1299.81 L389.89,1300.46 L392.05,1301.11 L394.21,1301.74 L396.38,1302.36 L398.54,1302.97 L400.71,1303.57 L402.88,1304.15 L405.05,1304.73 L407.23,1305.29 L409.40,1305.84 L411.58,1306.38 L413.76,1306.91 L415.94,1307.42 L418.12,1307.93 L420.31,1308.42 L422.49,1308.91 L424.68,1309.38 L426.87,1309.85 L429.06,1310.30 L431.25,1310.74 L433.45,1311.18 L435.64,1311.60 L437.84,1312.01 L440.04,1312.42 L442.24,1312.81 L444.44,1313.19 L446.65,1313.57 L448.85,1313.93 L451.06,1314.29 L453.27,1314.64 L455.48,1314.97 L457.69,1315.30 L459.90,1315.62 L462.11,1315.94 L464.33,1316.24 L466.54,1316.53 L468.76,1316.82 L470.98,1317.10 L473.20,1317.37 L475.42,1317.63 L477.64,1317.89 L479.86,1318.13 L482.08,1318.37 L484.31,1318.60 L486.54,1318.83 L488.76,1319.05 L490.99,1319.26 L493.22,1319.46 L495.45,1319.66 L497.68,1319.85 L499.91,1320.03 L502.14,1320.20 L504.37,1320.37 L506.61,1320.54 L508.84,1320.69 L511.08,1320.85 L513.31,1320.99 L515.55,1321.13 L517.78,1321.26 L520.02,1321.39 L522.26,1321.51 L524.50,1321.63 L526.74,1321.74 L528.98,1321.85 L531.22,1321.95 L533.46,1322.04 L535.70,1322.13 L537.94,1322.22 L540.19,1322.30 L542.43,1322.37 L544.67,1322.45 L546.92,1322.51 L549.16,1322.58 L551.41,1322.63 L553.65,1322.69 L555.90,1322.74 L558.14,1322.78 L560.39,1322.82 L562.64,1322.86 L564.89,1322.89 L567.13,1322.92 L569.38,1322.95 L571.63,1322.97 L573.88,1322.99 L576.13,1323.01 L578.38,1323.02 L580.63,1323.03 L582.88,1323.04 L585.13,1323.04 L587.38,1323.04 L589.63,1323.04 L591.88,1323.04 L594.13,1323.03 L596.38,1323.02 L598.63,1323.01 L600.88,1322.99 L603.13,1322.98 L605.39,1322.96 L607.64,1322.94 L609.89,1322.92 L612.14,1322.89 L614.39,1322.87 L616.64,1322.84 L618.90,1322.81 L621.15,1322.78 L623.40,1322.75 L625.65,1322.71 L627.90,1322.68 L630.16,1322.64 L632.41,1322.61 L634.66,1322.57 L636.91,1322.53 L639.16,1322.49 L641.41,1322.46 L643.66,1322.42 L645.92,1322.38 L648.17,1322.34 L650.42,1322.29 L652.67,1322.25 L654.92,1322.21 L657.17,1322.17 L659.42,1322.13 L661.67,1322.08 L663.92,1322.04 L666.17,1322.00 L668.42,1321.95 L670.67,1321.91 L672.92,1321.87 L675.17,1321.82 L677.42,1321.78 L679.67,1321.73 L681.91,1321.69 L684.16,1321.64 L686.41,1321.60 L688.66,1321.55 L690.91,1321.50 L693.16,1321.46 L695.41,1321.41 L697.66,1321.36 L699.90,1321.32 L702.15,1321.27 L704.40,1321.22 L706.65,1321.17 L708.89,1321.13 L711.14,1321.08 L713.39,1321.03 L715.64,1320.98 L717.88,1320.93 L720.13,1320.88 L722.38,1320.84 L724.63,1320.79 L726.87,1320.74 L729.12,1320.69 L731.37,1320.64 L733.61,1320.59 L735.86,1320.54 L738.11,1320.50 L740.35,1320.45 L742.60,1320.40 L744.85,1320.35 L747.09,1320.30 L749.34,1320.25 L751.59,1320.20 L753.83,1320.15 L756.08,1320.11 L758.32,1320.06 L760.57,1320.01 L762.82,1319.96 L765.06,1319.91 L767.31,1319.86 L769.55,1319.81 L771.80,1319.77 L774.04,1319.72 L776.29,1319.67 L778.53,1319.62 L780.78,1319.58 L783.03,1319.53 L785.27,1319.48 L787.52,1319.43 L789.76,1319.39 L792.01,1319.34 L794.25,1319.29 L796.50,1319.25 L798.74,1319.20 L800.99,1319.16 L803.23,1319.11 L805.48,1319.07 L807.72,1319.02 L809.97,1318.98 L812.21,1318.93 L814.46,1318.89 L816.70,1318.85 L818.94,1318.80 L821.19,1318.76 L823.43,1318.72 L825.68,1318.67 L827.92,1318.63 L830.17,1318.59 L832.41,1318.55 L834.66,1318.51 L836.90,1318.47 L839.15,1318.43 L841.39,1318.39 L843.64,1318.35 L845.88,1318.31 L848.12,1318.27 L850.37,1318.23 L852.61,1318.20 L854.86,1318.16 L857.10,1318.12 L859.35,1318.09 L861.59,1318.05 L863.84,1318.02 L866.08,1317.98 L868.33,1317.95 L870.57,1317.91 L872.81,1317.88 L875.06,1317.85 L877.30,1317.82 L879.55,1317.79 L881.79,1317.76 L884.04,1317.73 L886.28,1317.70 L888.53,1317.67 L890.77,1317.64 L893.02,1317.61 L895.26,1317.58 L897.51,1317.56 L899.75,1317.53 L902.00,1317.51 L904.24,1317.48 L906.49,1317.46 L908.73,1317.44 L910.98,1317.42 L913.22,1317.39 L915.47,1317.37 L917.71,1317.35 L919.96,1317.33 L922.20,1317.32 L924.45,1317.30 L926.69,1317.28 L928.94,1317.26 L931.18,1317.25 L933.43,1317.23 L935.67,1317.22 L937.92,1317.21 L940.16,1317.20 L942.41,1317.18 L944.66,1317.17 L946.90,1317.16 L949.15,1317.16 L951.39,1317.15 L953.64,1317.14 L955.88,1317.14 L958.13,1317.13 L960.38,1317.13 L962.62,1317.12 L964.87,1317.12 L967.12,1317.12 L969.36,1317.12 L971.61,1317.12 L973.86,1317.12 L976.10,1317.12 L978.35,1317.13 L980.60,1317.13 L982.84,1317.14 L985.09,1317.14 L987.34,1317.15 L989.58,1317.16 L991.83,1317.17 L994.08,1317.18 L996.33,1317.19 L998.57,1317.21 L1000.82,1317.22 L1003.07,1317.23 L1005.32,1317.25 L1007.56,1317.27 L1009.81,1317.29 L1012.06,1317.31 L1014.31,1317.33 L1016.56,1317.35 L1018.80,1317.37 L1021.05,1317.40 L1021.02,1318.79 L1018.79,1318.74 L1016.55,1318.69 L1014.32,1318.64 L1012.09,1318.59 L1009.86,1318.54 L1007.63,1318.50 L1005.39,1318.46 L1003.16,1318.42 L1000.93,1318.38 L998.70,1318.34 L996.46,1318.31 L994.23,1318.27 L992.00,1318.24 L989.77,1318.21 L987.53,1318.19 L985.30,1318.16 L983.07,1318.13 L980.83,1318.11 L978.60,1318.09 L976.37,1318.07 L974.13,1318.05 L971.90,1318.04 L969.67,1318.02 L967.43,1318.01 L965.20,1318.00 L962.97,1317.99 L960.73,1317.98 L958.50,1317.97 L956.27,1317.97 L954.03,1317.97 L951.80,1317.96 L949.57,1317.96 L947.33,1317.96 L945.10,1317.96 L942.86,1317.97 L940.63,1317.97 L938.40,1317.98 L936.16,1317.99 L933.93,1318.00 L931.69,1318.01 L929.46,1318.02 L927.23,1318.03 L924.99,1318.05 L922.76,1318.06 L920.52,1318.08 L918.29,1318.10 L916.05,1318.11 L913.82,1318.13 L911.58,1318.16 L909.35,1318.18 L907.11,1318.20 L904.88,1318.23 L902.65,1318.25 L900.41,1318.28 L898.18,1318.31 L895.94,1318.34 L893.71,1318.37 L891.47,1318.40 L889.24,1318.43 L887.00,1318.47 L884.77,1318.50 L882.53,1318.53 L880.30,1318.57 L878.06,1318.61 L875.82,1318.65 L873.59,1318.68 L871.35,1318.72 L869.12,1318.77 L866.88,1318.81 L864.65,1318.85 L862.41,1318.89 L860.18,1318.94 L857.94,1318.98 L855.71,1319.03 L853.47,1319.07 L851.23,1319.12 L849.00,1319.17 L846.76,1319.21 L844.53,1319.26 L842.29,1319.31 L840.06,1319.36 L837.82,1319.41 L835.58,1319.47 L833.35,1319.52 L831.11,1319.57 L828.88,1319.62 L826.64,1319.68 L824.41,1319.73 L822.17,1319.79 L819.93,1319.84 L817.70,1319.90 L815.46,1319.95 L813.23,1320.01 L810.99,1320.07 L808.75,1320.13 L806.52,1320.18 L804.28,1320.24 L802.04,1320.30 L799.81,1320.36 L797.57,1320.42 L795.34,1320.48 L793.10,1320.54 L790.86,1320.60 L788.63,1320.66 L786.39,1320.72 L784.16,1320.78 L781.92,1320.84 L779.68,1320.90 L777.45,1320.96 L775.21,1321.02 L772.97,1321.09 L770.74,1321.15 L768.50,1321.21 L766.26,1321.27 L764.03,1321.33 L761.79,1321.40 L759.56,1321.46 L757.32,1321.52 L755.08,1321.58 L752.85,1321.65 L750.61,1321.71 L748.37,1321.77 L746.14,1321.83 L743.90,1321.89 L741.66,1321.96 L739.43,1322.02 L737.19,1322.08 L734.95,1322.14 L732.72,1322.20 L730.48,1322.26 L728.24,1322.32 L726.01,1322.39 L723.77,1322.45 L721.54,1322.51 L719.30,1322.57 L717.06,1322.63 L714.83,1322.69 L712.59,1322.74 L710.35,1322.80 L708.12,1322.86 L705.88,1322.92 L703.64,1322.98 L701.41,1323.04 L699.17,1323.09 L696.93,1323.15 L694.70,1323.21 L692.46,1323.26 L690.22,1323.32 L687.99,1323.37 L685.75,1323.42 L683.52,1323.48 L681.28,1323.53 L679.04,1323.58 L676.81,1323.64 L674.57,1323.69 L672.33,1323.74 L670.10,1323.79 L667.86,1323.84 L665.62,1323.89 L663.39,1323.93 L661.15,1323.98 L658.92,1324.03 L656.68,1324.07 L654.44,1324.12 L652.21,1324.16 L649.97,1324.21 L647.73,1324.25 L645.50,1324.29 L643.26,1324.33 L641.03,1324.37 L638.79,1324.41 L636.55,1324.45 L634.32,1324.49 L632.08,1324.53 L629.85,1324.56 L627.61,1324.60 L625.37,1324.63 L623.14,1324.67 L620.90,1324.70 L618.67,1324.73 L616.43,1324.76 L614.19,1324.79 L611.96,1324.82 L609.72,1324.84 L607.49,1324.87 L605.25,1324.89 L603.02,1324.92 L600.78,1324.94 L598.54,1324.96 L596.31,1324.98 L594.07,1325.00 L591.84,1325.02 L589.60,1325.03 L587.37,1325.05 L585.13,1325.06 L582.90,1325.07 L580.66,1325.08 L578.42,1325.09 L576.19,1325.10 L573.95,1325.11 L571.72,1325.12 L569.48,1325.12 L567.25,1325.12 L565.01,1325.13 L562.78,1325.13 L560.54,1325.13 L558.31,1325.12 L556.07,1325.12 L553.84,1325.11 L551.60,1325.11 L549.37,1325.10 L547.13,1325.09 L544.90,1325.08 L542.66,1325.06 L540.43,1325.05 L538.19,1325.03 L535.96,1325.01 L533.72,1324.99 L531.49,1324.97 L529.26,1324.95 L527.02,1324.92 L524.79,1324.90 L522.55,1324.87 L520.32,1324.84 L518.08,1324.80 L515.85,1324.77 L513.62,1324.73 L511.38,1324.69 L509.15,1324.65 L506.91,1324.60 L504.68,1324.55 L502.45,1324.50 L500.22,1324.45 L497.98,1324.39 L495.75,1324.33 L493.52,1324.27 L491.28,1324.20 L489.05,1324.14 L486.82,1324.06 L484.59,1323.99 L482.36,1323.91 L480.13,1323.82 L477.90,1323.74 L475.67,1323.65 L473.43,1323.55 L471.20,1323.45 L468.98,1323.35 L466.75,1323.24 L464.52,1323.13 L462.29,1323.02 L460.06,1322.90 L457.83,1322.77 L455.60,1322.64 L453.38,1322.51 L451.15,1322.37 L448.92,1322.23 L446.70,1322.08 L444.47,1321.93 L442.24,1321.77 L440.02,1321.61 L437.79,1321.44 L435.57,1321.26 L433.35,1321.08 L431.12,1320.90 L428.90,1320.71 L426.68,1320.51 L424.46,1320.31 L422.23,1320.10 L420.01,1319.89 L417.79,1319.67 L415.57,1319.44 L413.35,1319.21 L411.13,1318.97 L408.92,1318.72 L406.70,1318.47 L404.48,1318.21 L402.26,1317.95 L400.05,1317.68 L397.83,1317.40 L395.62,1317.11 L393.40,1316.82 L391.19,1316.52 L388.98,1316.21 L386.76,1315.90 L384.55,1315.58 L382.34,1315.25 L380.13,1314.91 L377.92,1314.57 L375.71,1314.22 L373.50,1313.86 L371.29,1313.49 L369.09,1313.11 L366.88,1312.73 L364.68,1312.34 L362.47,1311.94 L360.27,1311.53 L358.06,1311.11 L355.86,1310.69 L353.66,1310.25 Z" fill="#cccccc"/>
<path d="M121.12,655.06 L121.40,659.65 L121.67,664.25 L121.95,668.85 L122.22,673.45 L122.48,678.05 L122.75,682.66 L123.01,687.26 L123.27,691.87 L123.53,696.48 L123.79,701.10 L124.05,705.71 L124.31,710.33 L124.57,714.94 L124.83,719.56 L125.09,724.18 L125.36,728.80 L125.62,733.42 L125.89,738.04 L126.16,742.66 L126.44,747.29 L126.72,751.91 L127.00,756.53 L127.29,761.16 L127.58,765.78 L127.88,770.41 L128.18,775.03 L128.49,779.65 L128.80,784.28 L129.12,788.90 L129.45,793.52 L129.79,798.14 L130.14,802.77 L130.49,807.39 L130.85,812.01 L131.22,816.62 L131.60,821.24 L132.00,825.86 L132.40,830.47 L132.81,835.08 L133.23,839.69 L133.67,844.30 L134.12,848.91 L134.58,853.52 L135.05,858.12 L135.54,862.72 L136.04,867.32 L136.55,871.92 L137.08,876.51 L137.62,881.10 L138.18,885.69 L138.75,890.28 L139.34,894.86 L139.95,899.44 L140.57,904.02 L141.21,908.59 L141.87,913.16 L142.55,917.73 L143.24,922.29 L143.95,926.85 L144.69,931.41 L145.44,935.96 L146.21,940.51 L147.00,945.05 L147.81,949.59 L148.65,954.13 L149.50,958.66 L150.38,963.18 L151.28,967.71 L152.20,972.22 L153.15,976.73 L154.12,981.24 L155.11,985.74 L156.13,990.24 L157.18,994.73 L158.24,999.22 L159.34,1003.70 L160.46,1008.17 L161.60,1012.64 L162.77,1017.10 L163.97,1021.56 L165.20,1026.01 L166.46,1030.45 L167.74,1034.89 L169.05,1039.32 L170.39,1043.74 L171.76,1048.16 L173.16,1052.57 L174.59,1056.97 L176.05,1061.36 L177.53,1065.74 L179.05,1070.11 L180.60,1074.47 L182.18,1078.83 L183.79,1083.17 L185.43,1087.50 L187.10,1091.82 L188.81,1096.13 L190.54,1100.43 L192.31,1104.71 L194.11,1108.99 L195.95,1113.25 L197.81,1117.50 L199.71,1121.73 L201.65,1125.95 L203.62,1130.16 L205.62,1134.35 L207.66,1138.53 L209.73,1142.69 L211.83,1146.84 L213.97,1150.98 L216.15,1155.09 L218.36,1159.19 L220.62,1163.27 L222.91,1167.33 L225.24,1171.36 L227.61,1175.37 L230.02,1179.35 L232.47,1183.30 L234.97,1187.22 L237.52,1191.11 L240.11,1194.97 L242.74,1198.79 L245.43,1202.57 L248.16,1206.31 L250.94,1210.02 L253.78,1213.67 L256.67,1217.29 L259.61,1220.85 L262.60,1224.37 L265.65,1227.84 L268.76,1231.25 L271.92,1234.61 L275.14,1237.92 L278.41,1241.17 L281.74,1244.36 L285.13,1247.50 L288.56,1250.57 L292.05,1253.58 L295.59,1256.53 L299.19,1259.41 L302.83,1262.23 L306.52,1264.98 L310.26,1267.66 L314.05,1270.28 L317.89,1272.82 L321.78,1275.29 L325.71,1277.69 L329.68,1280.01 L333.71,1282.26 L337.77,1284.43 L341.87,1286.52 L346.02,1288.54 L350.20,1290.49 L354.41,1292.37 L358.65,1294.17 L362.93,1295.91 L367.23,1297.57 L371.56,1299.16 L375.90,1300.69 L380.27,1302.15 L384.66,1303.54 L389.07,1304.87 L393.49,1306.13 L397.92,1307.33 L402.37,1308.47 L406.83,1309.54 L411.31,1310.57 L415.80,1311.53 L420.30,1312.44 L424.81,1313.30 L429.34,1314.11 L433.88,1314.86 L438.42,1315.57 L442.98,1316.23 L447.55,1316.85 L452.12,1317.43 L456.71,1317.96 L461.30,1318.46 L465.90,1318.91 L470.50,1319.33 L475.12,1319.72 L479.74,1320.07 L484.36,1320.39 L488.99,1320.68 L493.63,1320.95 L498.27,1321.18 L502.91,1321.39 L507.56,1321.58 L512.21,1321.75 L516.86,1321.90 L521.51,1322.03 L526.17,1322.14 L530.82,1322.23 L535.48,1322.32 L540.14,1322.39 L544.79,1322.45 L549.45,1322.51 L554.10,1322.55 L558.75,1322.59 L563.40,1322.63 L568.04,1322.66 L572.69,1322.69 L577.33,1322.71 L581.97,1322.72 L586.61,1322.73 L591.25,1322.74 L595.89,1322.74 L600.52,1322.74 L605.16,1322.73 L609.79,1322.72 L614.42,1322.71 L619.05,1322.69 L623.68,1322.67 L628.30,1322.64 L632.93,1322.61 L637.55,1322.58 L642.17,1322.54 L646.80,1322.50 L651.42,1322.45 L656.04,1322.41 L660.65,1322.36 L665.27,1322.30 L669.89,1322.25 L674.50,1322.19 L679.12,1322.13 L683.73,1322.06 L688.34,1321.99 L692.96,1321.93 L697.57,1321.85 L702.18,1321.78 L706.79,1321.70 L711.40,1321.63 L716.01,1321.55 L720.62,1321.47 L725.23,1321.38 L729.83,1321.30 L734.44,1321.22 L739.05,1321.13 L743.66,1321.04 L748.26,1320.95 L752.87,1320.86 L757.48,1320.77 L762.08,1320.68 L766.69,1320.59 L771.30,1320.49 L775.90,1320.40 L780.51,1320.30 L785.12,1320.21 L789.73,1320.12 L794.33,1320.02 L798.94,1319.93 L803.55,1319.83 L808.16,1319.74 L812.77,1319.64 L817.37,1319.55 L821.98,1319.46 L826.59,1319.37 L831.21,1319.27 L835.82,1319.18 L840.43,1319.09 L845.04,1319.01 L849.66,1318.92 L854.27,1318.83 L858.88,1318.75 L863.50,1318.66 L868.12,1318.58 L872.74,1318.50 L877.35,1318.42 L881.97,1318.35 L886.60,1318.27 L891.22,1318.20 L895.84,1318.13 L900.47,1318.06 L905.09,1318.00 L909.72,1317.94 L914.35,1317.88 L918.98,1317.82 L923.61,1317.76 L928.24,1317.71 L932.88,1317.66 L937.51,1317.62 L942.15,1317.58 L946.79,1317.54 L951.43,1317.50 L956.07,1317.47 L960.72,1317.44 L965.36,1317.42 L970.01,1317.40 L974.66,1317.38 L979.31,1317.37 L983.97,1317.36 L988.62,1317.36 L993.28,1317.36 L997.94,1317.36 L1002.60,1317.37 L1007.27,1317.38 L1011.94,1317.40 L1016.60,1317.43 L1021.28,1317.46 L1021.06,1317.90 L1016.33,1317.87 L1011.60,1317.84 L1006.87,1317.81 L1002.13,1317.79 L997.40,1317.78 L992.67,1317.77 L987.94,1317.77 L983.21,1317.77 L978.48,1317.77 L973.75,1317.78 L969.02,1317.80 L964.29,1317.82 L959.56,1317.84 L954.83,1317.86 L950.10,1317.90 L945.36,1317.93 L940.63,1317.97 L935.90,1318.01 L931.17,1318.06 L926.44,1318.10 L921.71,1318.16 L916.98,1318.21 L912.25,1318.27 L907.51,1318.33 L902.78,1318.40 L898.05,1318.47 L893.32,1318.54 L888.59,1318.61 L883.86,1318.68 L879.13,1318.76 L874.39,1318.84 L869.66,1318.93 L864.93,1319.01 L860.20,1319.10 L855.47,1319.19 L850.74,1319.28 L846.01,1319.37 L841.27,1319.46 L836.54,1319.56 L831.81,1319.66 L827.08,1319.76 L822.35,1319.86 L817.62,1319.96 L812.88,1320.06 L808.15,1320.16 L803.42,1320.27 L798.69,1320.37 L793.96,1320.48 L789.23,1320.58 L784.50,1320.69 L779.76,1320.80 L775.03,1320.90 L770.30,1321.01 L765.57,1321.12 L760.84,1321.23 L756.11,1321.33 L751.38,1321.44 L746.65,1321.55 L741.91,1321.65 L737.18,1321.76 L732.45,1321.86 L727.72,1321.97 L722.99,1322.07 L718.26,1322.17 L713.53,1322.28 L708.80,1322.38 L704.07,1322.48 L699.34,1322.57 L694.60,1322.67 L689.87,1322.76 L685.14,1322.86 L680.41,1322.95 L675.68,1323.04 L670.95,1323.13 L666.22,1323.21 L661.49,1323.29 L656.76,1323.38 L652.03,1323.45 L647.30,1323.53 L642.57,1323.61 L637.84,1323.68 L633.11,1323.74 L628.38,1323.81 L623.65,1323.87 L618.92,1323.93 L614.19,1323.99 L609.46,1324.04 L604.73,1324.09 L600.00,1324.14 L595.27,1324.18 L590.54,1324.22 L585.81,1324.26 L581.09,1324.29 L576.36,1324.32 L571.63,1324.34 L566.90,1324.36 L562.17,1324.38 L557.44,1324.39 L552.71,1324.39 L547.98,1324.39 L543.26,1324.39 L538.53,1324.38 L533.80,1324.36 L529.07,1324.33 L524.34,1324.30 L519.61,1324.25 L514.88,1324.19 L510.16,1324.12 L505.43,1324.03 L500.70,1323.93 L495.97,1323.81 L491.24,1323.67 L486.51,1323.52 L481.78,1323.34 L477.05,1323.15 L472.32,1322.93 L467.59,1322.69 L462.86,1322.43 L458.13,1322.15 L453.40,1321.83 L448.67,1321.50 L443.94,1321.13 L439.21,1320.73 L434.48,1320.29 L429.76,1319.82 L425.05,1319.31 L420.34,1318.76 L415.64,1318.16 L410.95,1317.52 L406.27,1316.82 L401.61,1316.07 L396.96,1315.27 L392.32,1314.40 L387.71,1313.48 L383.11,1312.49 L378.53,1311.44 L373.97,1310.32 L369.43,1309.12 L364.91,1307.86 L360.42,1306.51 L355.96,1305.09 L351.52,1303.59 L347.10,1302.03 L342.71,1300.40 L338.33,1298.71 L333.98,1296.96 L329.64,1295.16 L325.31,1293.31 L321.01,1291.40 L316.72,1289.44 L312.47,1287.43 L308.23,1285.35 L304.03,1283.22 L299.85,1281.02 L295.72,1278.76 L291.62,1276.42 L287.57,1274.01 L283.58,1271.51 L279.64,1268.93 L275.77,1266.25 L271.95,1263.49 L268.20,1260.65 L264.50,1257.73 L260.85,1254.74 L257.26,1251.69 L253.71,1248.57 L250.21,1245.40 L246.76,1242.18 L243.35,1238.91 L239.98,1235.60 L236.65,1232.24 L233.37,1228.85 L230.12,1225.41 L226.92,1221.93 L223.75,1218.41 L220.63,1214.85 L217.54,1211.26 L214.49,1207.63 L211.47,1203.96 L208.49,1200.27 L205.55,1196.54 L202.64,1192.78 L199.78,1188.98 L196.96,1185.16 L194.19,1181.30 L191.47,1177.40 L188.80,1173.48 L186.19,1169.51 L183.65,1165.51 L181.16,1161.48 L178.75,1157.41 L176.41,1153.30 L174.14,1149.15 L171.95,1144.97 L169.83,1140.75 L167.79,1136.49 L165.81,1132.20 L163.91,1127.89 L162.07,1123.54 L160.30,1119.16 L158.59,1114.76 L156.95,1110.33 L155.36,1105.88 L153.84,1101.40 L152.36,1096.90 L150.95,1092.39 L149.58,1087.86 L148.27,1083.31 L147.00,1078.75 L145.79,1074.17 L144.61,1069.58 L143.48,1064.98 L142.40,1060.38 L141.35,1055.76 L140.34,1051.14 L139.37,1046.51 L138.43,1041.88 L137.54,1037.24 L136.67,1032.60 L135.84,1027.95 L135.05,1023.29 L134.28,1018.63 L133.55,1013.96 L132.85,1009.29 L132.18,1004.61 L131.53,999.93 L130.91,995.24 L130.32,990.55 L129.76,985.86 L129.22,981.16 L128.70,976.45 L128.21,971.75 L127.74,967.04 L127.29,962.33 L126.86,957.61 L126.45,952.89 L126.06,948.17 L125.68,943.45 L125.33,938.73 L124.98,934.00 L124.65,929.27 L124.34,924.54 L124.04,919.81 L123.75,915.08 L123.47,910.34 L123.20,905.61 L122.94,900.87 L122.68,896.14 L122.44,891.40 L122.20,886.66 L121.97,881.93 L121.74,877.19 L121.51,872.46 L121.29,867.72 L121.06,862.99 L120.84,858.25 L120.62,853.52 L120.40,848.79 L120.18,844.06 L119.96,839.33 L119.74,834.61 L119.52,829.88 L119.30,825.15 L119.08,820.43 L118.87,815.70 L118.65,810.98 L118.44,806.25 L118.23,801.53 L118.03,796.81 L117.82,792.08 L117.62,787.36 L117.42,782.64 L117.22,777.92 L117.03,773.20 L116.83,768.47 L116.65,763.75 L116.46,759.03 L116.28,754.31 L116.11,749.59 L115.93,744.86 L115.77,740.14 L115.60,735.42 L115.44,730.69 L115.29,725.97 L115.14,721.24 L115.00,716.51 L114.86,711.79 L114.73,707.06 L114.60,702.33 L114.48,697.60 L114.36,692.87 L114.25,688.14 L114.15,683.41 L114.05,678.67 L113.96,673.94 L113.88,669.20 L113.80,664.46 L113.74,659.72 L113.67,654.98 Z" fill="#ff9933"/>
<path d="M105.16,654.91 L105.33,658.64 L105.50,662.36 L105.67,666.08 L105.83,669.80 L105.98,673.52 L106.13,677.24 L106.27,680.95 L106.40,684.67 L106.54,688.39 L106.66,692.11 L106.78,695.82 L106.90,699.54 L107.01,703.26 L107.12,706.97 L107.22,710.69 L107.32,714.40 L107.41,718.12 L107.50,721.83 L107.59,725.55 L107.67,729.26 L107.75,732.97 L107.83,736.68 L107.90,740.40 L107.97,744.11 L108.04,747.82 L108.10,751.53 L108.16,755.24 L108.22,758.95 L108.28,762.66 L108.33,766.37 L108.38,770.08 L108.43,773.79 L108.48,777.50 L108.52,781.21 L108.57,784.91 L108.61,788.62 L108.65,792.33 L108.69,796.04 L108.73,799.74 L108.76,803.45 L108.80,807.16 L108.83,810.86 L108.87,814.57 L108.90,818.27 L108.94,821.98 L108.97,825.68 L109.01,829.39 L109.04,833.09 L109.07,836.80 L109.11,840.50 L109.14,844.20 L109.18,847.91 L109.21,851.61 L109.25,855.31 L109.29,859.02 L109.33,862.72 L109.37,866.42 L109.41,870.12 L109.45,873.83 L109.50,877.53 L109.55,881.23 L109.60,884.93 L109.65,888.63 L109.70,892.33 L109.75,896.03 L109.81,899.74 L109.87,903.44 L109.94,907.14 L110.00,910.84 L110.07,914.54 L110.14,918.24 L110.22,921.94 L110.30,925.64 L110.38,929.34 L110.47,933.04 L110.56,936.74 L110.65,940.44 L110.75,944.14 L110.85,947.83 L110.96,951.53 L111.07,955.23 L111.18,958.93 L111.30,962.63 L111.43,966.33 L111.56,970.03 L111.70,973.73 L111.84,977.43 L111.98,981.13 L112.13,984.82 L112.29,988.52 L112.46,992.22 L112.62,995.92 L112.80,999.62 L112.98,1003.32 L113.17,1007.02 L113.36,1010.71 L113.57,1014.41 L113.77,1018.11 L113.99,1021.81 L114.21,1025.51 L114.44,1029.21 L114.68,1032.91 L114.92,1036.61 L115.17,1040.30 L115.43,1044.00 L115.70,1047.70 L115.97,1051.40 L116.25,1055.10 L116.55,1058.80 L116.85,1062.50 L117.15,1066.20 L117.47,1069.90 L117.80,1073.60 L118.13,1077.30 L118.47,1080.99 L118.83,1084.69 L119.19,1088.39 L119.56,1092.09 L119.94,1095.79 L120.33,1099.49 L120.73,1103.19 L121.14,1106.90 L121.56,1110.60 L121.99,1114.30 L122.44,1118.00 L122.89,1121.70 L123.35,1125.40 L123.82,1129.10 L124.31,1132.80 L124.80,1136.50 L125.31,1140.21 L125.83,1143.91 L126.36,1147.61 L126.90,1151.31 L127.45,1155.01 L128.02,1158.72 L128.59,1162.42 L129.18,1166.12 L129.78,1169.83 L130.40,1173.53 L131.02,1177.23 L131.67,1180.93 L132.35,1184.62 L133.05,1188.30 L133.80,1191.97 L134.58,1195.62 L135.42,1199.24 L136.31,1202.85 L137.25,1206.42 L138.27,1209.97 L139.35,1213.48 L140.52,1216.95 L141.76,1220.38 L143.10,1223.77 L144.52,1227.11 L146.05,1230.40 L147.68,1233.64 L149.42,1236.82 L151.27,1239.94 L153.21,1242.99 L155.26,1245.98 L157.42,1248.89 L159.67,1251.73 L162.02,1254.49 L164.47,1257.16 L167.02,1259.75 L169.66,1262.25 L172.40,1264.65 L175.22,1266.97 L178.13,1269.21 L181.11,1271.35 L184.17,1273.41 L187.30,1275.39 L190.49,1277.28 L193.75,1279.09 L197.05,1280.82 L200.41,1282.48 L203.81,1284.05 L207.26,1285.55 L210.74,1286.97 L214.25,1288.32 L217.79,1289.60 L221.36,1290.80 L224.94,1291.94 L228.53,1293.00 L232.14,1294.00 L235.76,1294.94 L239.38,1295.81 L243.02,1296.63 L246.67,1297.39 L250.32,1298.11 L253.99,1298.77 L257.65,1299.40 L261.33,1299.98 L265.01,1300.52 L268.70,1301.03 L272.38,1301.51 L276.08,1301.95 L279.77,1302.38 L283.47,1302.78 L287.17,1303.16 L290.87,1303.53 L294.57,1303.88 L298.26,1304.22 L301.96,1304.55 L305.66,1304.87 L309.36,1305.17 L313.06,1305.46 L316.76,1305.75 L320.46,1306.02 L324.15,1306.28 L327.85,1306.53 L331.55,1306.77 L335.25,1307.00 L338.95,1307.23 L342.65,1307.44 L346.35,1307.65 L350.04,1307.85 L353.74,1308.04 L357.44,1308.22 L361.14,1308.40 L364.84,1308.57 L368.54,1308.73 L372.24,1308.89 L375.94,1309.04 L379.64,1309.19 L383.34,1309.33 L387.04,1309.47 L390.74,1309.60 L394.44,1309.73 L398.14,1309.86 L401.84,1309.98 L405.54,1310.10 L409.24,1310.22 L412.94,1310.33 L416.64,1310.45 L420.35,1310.56 L424.05,1310.67 L427.75,1310.77 L431.45,1310.88 L435.16,1310.98 L438.86,1311.09 L442.56,1311.19 L446.26,1311.28 L449.97,1311.38 L453.67,1311.48 L457.38,1311.57 L461.08,1311.66 L464.78,1311.75 L468.49,1311.84 L472.19,1311.93 L475.90,1312.01 L479.60,1312.10 L483.31,1312.18 L487.01,1312.26 L490.72,1312.34 L494.42,1312.41 L498.13,1312.49 L501.84,1312.56 L505.54,1312.63 L509.25,1312.71 L512.95,1312.77 L516.66,1312.84 L520.37,1312.91 L524.08,1312.97 L527.78,1313.04 L531.49,1313.10 L535.20,1313.16 L538.90,1313.22 L542.61,1313.28 L546.32,1313.34 L550.03,1313.39 L553.74,1313.45 L557.44,1313.50 L561.15,1313.55 L564.86,1313.60 L568.57,1313.65 L572.28,1313.70 L575.99,1313.74 L579.69,1313.79 L583.40,1313.83 L587.11,1313.88 L590.82,1313.92 L594.53,1313.96 L598.24,1314.00 L601.95,1314.04 L605.66,1314.08 L609.37,1314.11 L613.08,1314.15 L616.79,1314.18 L620.50,1314.21 L624.21,1314.25 L627.92,1314.28 L631.63,1314.31 L635.34,1314.34 L639.05,1314.37 L642.76,1314.39 L646.47,1314.42 L650.18,1314.45 L653.89,1314.47 L657.60,1314.50 L661.31,1314.52 L665.02,1314.54 L668.73,1314.56 L672.44,1314.58 L676.15,1314.60 L679.86,1314.62 L683.57,1314.64 L687.28,1314.66 L690.99,1314.68 L694.70,1314.69 L698.42,1314.71 L702.13,1314.73 L705.84,1314.74 L709.55,1314.75 L713.26,1314.77 L716.97,1314.78 L720.68,1314.79 L724.39,1314.80 L728.10,1314.81 L731.81,1314.83 L735.52,1314.84 L739.23,1314.84 L742.95,1314.85 L746.66,1314.86 L750.37,1314.87 L754.08,1314.88 L757.79,1314.89 L761.50,1314.89 L765.21,1314.90 L768.92,1314.90 L772.63,1314.91 L776.34,1314.92 L780.05,1314.92 L783.76,1314.93 L787.47,1314.93 L791.18,1314.93 L794.89,1314.94 L798.60,1314.94 L802.31,1314.95 L806.03,1314.95 L809.74,1314.95 L813.45,1314.95 L817.16,1314.96 L820.87,1314.96 L824.58,1314.96 L828.28,1314.97 L831.99,1314.97 L835.70,1314.97 L839.41,1314.97 L843.12,1314.97 L846.83,1314.98 L850.54,1314.98 L854.25,1314.98 L857.96,1314.98 L861.67,1314.99 L865.38,1314.99 L869.09,1314.99 L872.80,1314.99 L876.50,1314.99 L880.21,1315.00 L883.92,1315.00 L887.63,1315.00 L891.34,1315.01 L895.05,1315.01 L898.75,1315.01 L902.46,1315.02 L906.17,1315.02 L909.88,1315.03 L913.58,1315.03 L917.29,1315.03 L921.00,1315.04 L924.71,1315.04 L928.41,1315.05 L932.12,1315.06 L935.82,1315.06 L939.53,1315.07 L943.24,1315.08 L946.94,1315.08 L950.65,1315.09 L954.36,1315.10 L958.06,1315.11 L961.77,1315.12 L965.47,1315.13 L969.18,1315.14 L972.88,1315.15 L976.59,1315.16 L980.29,1315.17 L983.99,1315.19 L987.70,1315.20 L991.40,1315.21 L995.11,1315.23 L998.81,1315.24 L1002.51,1315.26 L1006.22,1315.28 L1009.92,1315.29 L1013.62,1315.31 L1017.32,1315.33 L1021.03,1315.35" fill="none" stroke="#00cc00" stroke-width="5.2" stroke-linejoin="round"/>
</g>
<rect x="365" y="842" width="592" height="301" fill="#fff"/>
<g clip-path="url(#ci)">
<path d="M364.98,1056.92 L366.32,1058.70 L367.69,1060.46 L369.08,1062.20 L370.51,1063.92 L371.96,1065.62 L373.43,1067.30 L374.94,1068.95 L376.46,1070.59 L378.02,1072.20 L379.60,1073.79 L381.20,1075.36 L382.83,1076.90 L384.48,1078.42 L386.15,1079.92 L387.85,1081.39 L389.57,1082.84 L391.30,1084.25 L393.06,1085.65 L394.84,1087.01 L396.64,1088.35 L398.46,1089.66 L400.30,1090.95 L402.15,1092.20 L404.02,1093.43 L405.91,1094.62 L407.82,1095.79 L409.74,1096.93 L411.68,1098.03 L413.63,1099.11 L415.60,1100.15 L417.58,1101.16 L419.58,1102.14 L421.59,1103.08 L423.61,1104.00 L425.64,1104.87 L427.69,1105.72 L429.74,1106.53 L431.81,1107.30 L433.88,1108.04 L435.97,1108.74 L438.06,1109.40 L440.16,1110.03 L442.28,1110.62 L444.39,1111.17 L446.52,1111.69 L448.65,1112.16 L450.79,1112.60 L452.93,1113.00 L455.08,1113.35 L457.23,1113.67 L459.38,1113.94 L461.54,1114.18 L463.71,1114.38 L465.87,1114.54 L468.04,1114.66 L470.22,1114.75 L472.39,1114.80 L474.57,1114.82 L476.75,1114.81 L478.93,1114.77 L481.12,1114.70 L483.31,1114.60 L485.50,1114.47 L487.69,1114.31 L489.88,1114.13 L492.08,1113.92 L494.27,1113.69 L496.47,1113.43 L498.66,1113.15 L500.86,1112.86 L503.06,1112.54 L505.26,1112.20 L507.46,1111.85 L509.65,1111.48 L511.85,1111.09 L514.05,1110.69 L516.25,1110.28 L518.44,1109.85 L520.64,1109.41 L522.83,1108.96 L525.02,1108.50 L527.21,1108.03 L529.40,1107.56 L531.59,1107.08 L533.78,1106.59 L535.96,1106.10 L538.14,1105.60 L540.32,1105.10 L542.50,1104.60 L544.67,1104.09 L546.84,1103.58 L549.02,1103.06 L551.18,1102.54 L553.35,1102.01 L555.52,1101.49 L557.68,1100.95 L559.84,1100.42 L562.01,1099.88 L564.17,1099.34 L566.32,1098.80 L568.48,1098.25 L570.63,1097.70 L572.79,1097.15 L574.94,1096.60 L577.09,1096.04 L579.24,1095.48 L581.39,1094.92 L583.54,1094.36 L585.68,1093.79 L587.83,1093.23 L589.97,1092.66 L592.12,1092.09 L594.26,1091.52 L596.40,1090.95 L598.54,1090.38 L600.68,1089.81 L602.82,1089.23 L604.96,1088.66 L607.10,1088.08 L609.23,1087.51 L611.37,1086.93 L613.51,1086.36 L615.64,1085.78 L617.78,1085.21 L619.91,1084.63 L622.05,1084.06 L624.18,1083.48 L626.32,1082.91 L628.45,1082.34 L630.59,1081.76 L632.72,1081.19 L634.85,1080.62 L636.99,1080.05 L639.12,1079.49 L641.26,1078.92 L643.39,1078.36 L645.53,1077.79 L647.66,1077.23 L649.80,1076.68 L651.93,1076.12 L654.07,1075.57 L656.20,1075.01 L658.34,1074.46 L660.48,1073.92 L662.62,1073.37 L664.75,1072.83 L666.89,1072.30 L669.03,1071.76 L671.17,1071.23 L673.32,1070.70 L675.46,1070.18 L677.60,1069.66 L679.75,1069.14 L681.89,1068.63 L684.04,1068.12 L686.18,1067.61 L688.33,1067.11 L690.48,1066.62 L692.63,1066.12 L694.78,1065.64 L696.94,1065.15 L699.09,1064.68 L701.25,1064.20 L703.41,1063.74 L705.56,1063.27 L707.72,1062.81 L709.89,1062.36 L712.05,1061.91 L714.21,1061.46 L716.38,1061.02 L718.54,1060.58 L720.71,1060.15 L722.88,1059.72 L725.04,1059.30 L727.21,1058.88 L729.39,1058.46 L731.56,1058.05 L733.73,1057.65 L735.91,1057.24 L738.08,1056.84 L740.26,1056.45 L742.44,1056.06 L744.61,1055.67 L746.79,1055.28 L748.97,1054.91 L751.15,1054.53 L753.34,1054.16 L755.52,1053.79 L757.70,1053.42 L759.89,1053.06 L762.07,1052.70 L764.26,1052.35 L766.45,1052.00 L768.64,1051.65 L770.82,1051.31 L773.01,1050.97 L775.21,1050.63 L777.40,1050.30 L779.59,1049.97 L781.78,1049.64 L783.97,1049.31 L786.17,1048.99 L788.36,1048.68 L790.56,1048.36 L792.75,1048.05 L794.95,1047.74 L797.15,1047.44 L799.35,1047.13 L801.55,1046.83 L803.74,1046.54 L805.94,1046.24 L808.14,1045.95 L810.34,1045.66 L812.55,1045.37 L814.75,1045.09 L816.95,1044.81 L819.15,1044.53 L821.36,1044.26 L823.56,1043.98 L825.76,1043.71 L827.97,1043.44 L830.17,1043.18 L832.38,1042.91 L834.58,1042.65 L836.79,1042.39 L839.00,1042.14 L841.20,1041.88 L843.41,1041.63 L845.62,1041.38 L847.82,1041.13 L850.03,1040.88 L852.24,1040.64 L854.45,1040.39 L856.66,1040.15 L858.86,1039.92 L861.07,1039.68 L863.28,1039.44 L865.49,1039.21 L867.70,1038.98 L869.91,1038.75 L872.12,1038.52 L874.33,1038.29 L876.54,1038.07 L878.75,1037.84 L880.96,1037.62 L883.17,1037.40 L885.38,1037.18 L887.59,1036.96 L889.80,1036.74 L892.01,1036.53 L894.22,1036.31 L896.42,1036.10 L898.63,1035.89 L900.84,1035.68 L903.05,1035.47 L905.26,1035.26 L907.47,1035.05 L909.68,1034.84 L911.89,1034.64 L914.10,1034.43 L916.31,1034.23 L918.51,1034.02 L920.72,1033.82 L922.93,1033.62 L925.14,1033.42 L927.34,1033.22 L929.55,1033.02 L931.76,1032.82 L933.96,1032.62 L936.17,1032.42 L938.38,1032.22 L940.58,1032.02 L942.79,1031.83 L944.99,1031.63 L947.20,1031.43 L949.40,1031.24 L951.60,1031.04 L953.80,1030.84 L956.01,1030.65 L958.21,1030.45 L960.41,1030.26 L962.61,1030.06 L964.81,1029.87 L967.01,1029.67 L969.21,1029.47 L971.41,1029.28 L973.61,1029.08 L975.81,1028.88 L978.00,1028.69 L980.20,1028.49 L982.39,1028.29 L984.59,1028.10 L986.78,1027.90 L988.98,1027.70 L991.17,1027.50 L993.36,1027.30 L995.55,1027.10 L997.74,1026.90 L999.93,1026.70 L999.99,1036.01 L997.85,1036.23 L995.70,1036.44 L993.55,1036.66 L991.40,1036.87 L989.26,1037.09 L987.11,1037.31 L984.96,1037.53 L982.81,1037.75 L980.67,1037.97 L978.52,1038.19 L976.37,1038.42 L974.22,1038.64 L972.07,1038.87 L969.92,1039.09 L967.78,1039.32 L965.63,1039.55 L963.48,1039.78 L961.33,1040.01 L959.18,1040.24 L957.03,1040.47 L954.88,1040.70 L952.73,1040.93 L950.58,1041.17 L948.43,1041.40 L946.29,1041.64 L944.14,1041.88 L941.99,1042.12 L939.84,1042.36 L937.69,1042.60 L935.54,1042.84 L933.39,1043.09 L931.24,1043.33 L929.09,1043.58 L926.94,1043.83 L924.79,1044.08 L922.65,1044.33 L920.50,1044.58 L918.35,1044.83 L916.20,1045.08 L914.05,1045.34 L911.90,1045.60 L909.75,1045.86 L907.60,1046.11 L905.45,1046.38 L903.31,1046.64 L901.16,1046.90 L899.01,1047.17 L896.86,1047.43 L894.71,1047.70 L892.57,1047.97 L890.42,1048.24 L888.27,1048.51 L886.12,1048.79 L883.98,1049.06 L881.83,1049.34 L879.68,1049.62 L877.53,1049.90 L875.39,1050.18 L873.24,1050.46 L871.10,1050.75 L868.95,1051.04 L866.80,1051.33 L864.66,1051.62 L862.51,1051.91 L860.37,1052.20 L858.22,1052.50 L856.08,1052.79 L853.93,1053.09 L851.79,1053.39 L849.64,1053.69 L847.50,1054.00 L845.36,1054.30 L843.21,1054.61 L841.07,1054.92 L838.93,1055.23 L836.79,1055.55 L834.64,1055.86 L832.50,1056.18 L830.36,1056.50 L828.22,1056.82 L826.08,1057.14 L823.94,1057.46 L821.80,1057.79 L819.66,1058.12 L817.52,1058.45 L815.38,1058.78 L813.24,1059.12 L811.10,1059.45 L808.96,1059.79 L806.83,1060.13 L804.69,1060.48 L802.55,1060.82 L800.42,1061.17 L798.28,1061.52 L796.14,1061.87 L794.01,1062.22 L791.87,1062.58 L789.74,1062.94 L787.60,1063.30 L785.47,1063.66 L783.34,1064.03 L781.20,1064.39 L779.07,1064.76 L776.94,1065.13 L774.81,1065.51 L772.68,1065.88 L770.55,1066.26 L768.42,1066.64 L766.29,1067.03 L764.16,1067.41 L762.03,1067.80 L759.90,1068.19 L757.78,1068.58 L755.65,1068.98 L753.52,1069.38 L751.40,1069.78 L749.27,1070.18 L747.15,1070.59 L745.02,1070.99 L742.90,1071.40 L740.78,1071.82 L738.65,1072.23 L736.53,1072.65 L734.41,1073.07 L732.29,1073.49 L730.17,1073.92 L728.05,1074.35 L725.93,1074.78 L723.81,1075.21 L721.70,1075.65 L719.58,1076.09 L717.46,1076.53 L715.35,1076.97 L713.23,1077.42 L711.12,1077.87 L709.00,1078.32 L706.89,1078.78 L704.78,1079.24 L702.67,1079.70 L700.55,1080.16 L698.44,1080.63 L696.33,1081.10 L694.23,1081.57 L692.12,1082.05 L690.01,1082.53 L687.90,1083.01 L685.80,1083.49 L683.69,1083.98 L681.59,1084.47 L679.48,1084.96 L677.38,1085.45 L675.27,1085.94 L673.17,1086.44 L671.07,1086.94 L668.97,1087.43 L666.86,1087.94 L664.76,1088.44 L662.66,1088.94 L660.56,1089.45 L658.46,1089.95 L656.36,1090.46 L654.26,1090.96 L652.16,1091.47 L650.06,1091.98 L647.97,1092.49 L645.87,1093.00 L643.77,1093.51 L641.67,1094.02 L639.57,1094.52 L637.48,1095.03 L635.38,1095.54 L633.28,1096.05 L631.18,1096.56 L629.09,1097.06 L626.99,1097.57 L624.89,1098.08 L622.79,1098.58 L620.70,1099.08 L618.60,1099.58 L616.50,1100.09 L614.40,1100.58 L612.30,1101.08 L610.21,1101.58 L608.11,1102.07 L606.01,1102.56 L603.91,1103.05 L601.81,1103.54 L599.71,1104.03 L597.61,1104.51 L595.51,1104.99 L593.41,1105.47 L591.31,1105.95 L589.21,1106.42 L587.11,1106.89 L585.01,1107.36 L582.90,1107.83 L580.80,1108.30 L578.69,1108.76 L576.59,1109.23 L574.48,1109.69 L572.38,1110.15 L570.27,1110.61 L568.16,1111.07 L566.05,1111.53 L563.94,1111.98 L561.83,1112.44 L559.72,1112.89 L557.61,1113.35 L555.49,1113.80 L553.38,1114.25 L551.26,1114.70 L549.14,1115.15 L547.02,1115.60 L544.90,1116.05 L542.78,1116.50 L540.66,1116.95 L538.53,1117.40 L536.41,1117.85 L534.28,1118.30 L532.15,1118.75 L530.02,1119.20 L527.89,1119.65 L525.76,1120.10 L523.62,1120.55 L521.48,1120.99 L519.35,1121.44 L517.21,1121.88 L515.07,1122.31 L512.93,1122.75 L510.79,1123.18 L508.64,1123.60 L506.50,1124.02 L504.36,1124.44 L502.21,1124.84 L500.07,1125.25 L497.92,1125.64 L495.77,1126.03 L493.63,1126.41 L491.48,1126.78 L489.33,1127.14 L487.18,1127.50 L485.04,1127.84 L482.89,1128.18 L480.74,1128.50 L478.59,1128.81 L476.44,1129.12 L474.29,1129.41 L472.15,1129.68 L470.00,1129.95 L467.85,1130.20 L465.70,1130.44 L463.56,1130.66 L461.41,1130.87 L459.27,1131.07 L457.12,1131.25 L454.98,1131.41 L452.83,1131.56 L450.69,1131.69 L448.55,1131.80 L446.41,1131.90 L444.27,1131.97 L442.13,1132.03 L439.99,1132.07 L437.85,1132.09 L435.72,1132.09 L433.58,1132.07 L431.45,1132.03 L429.32,1131.97 L427.19,1131.89 L425.06,1131.78 L422.94,1131.65 L420.81,1131.50 L418.69,1131.33 L416.57,1131.13 L414.45,1130.90 L412.33,1130.65 L410.22,1130.38 L408.10,1130.08 L405.99,1129.75 L403.88,1129.40 L401.78,1129.02 L399.67,1128.61 L397.57,1128.18 L395.47,1127.71 L393.37,1127.22 L391.28,1126.70 L389.19,1126.15 L387.10,1125.56 L385.01,1124.95 L382.93,1124.31 L380.85,1123.63 L378.77,1122.92 L376.70,1122.18 L374.63,1121.41 L372.56,1120.60 L370.49,1119.76 L368.43,1118.88 L366.38,1117.97 L364.32,1117.03 Z" fill="#cccccc"/>
<path d="M364.94,1064.69 L366.29,1066.23 L367.67,1067.76 L369.07,1069.28 L370.49,1070.77 L371.93,1072.26 L373.40,1073.72 L374.88,1075.17 L376.39,1076.60 L377.91,1078.01 L379.45,1079.40 L381.01,1080.77 L382.60,1082.13 L384.19,1083.46 L385.81,1084.77 L387.44,1086.06 L389.10,1087.33 L390.76,1088.58 L392.45,1089.80 L394.15,1091.01 L395.86,1092.18 L397.60,1093.34 L399.34,1094.47 L401.10,1095.57 L402.87,1096.65 L404.66,1097.70 L406.46,1098.73 L408.28,1099.73 L410.10,1100.70 L411.94,1101.65 L413.79,1102.56 L415.65,1103.45 L417.53,1104.31 L419.41,1105.14 L421.30,1105.93 L423.20,1106.70 L425.12,1107.44 L427.04,1108.14 L428.97,1108.81 L430.91,1109.45 L432.85,1110.06 L434.81,1110.63 L436.77,1111.17 L438.73,1111.68 L440.71,1112.15 L442.69,1112.58 L444.67,1112.99 L446.67,1113.36 L448.66,1113.70 L450.67,1114.01 L452.67,1114.29 L454.69,1114.54 L456.70,1114.76 L458.72,1114.96 L460.75,1115.13 L462.78,1115.27 L464.81,1115.38 L466.85,1115.47 L468.89,1115.54 L470.93,1115.58 L472.98,1115.60 L475.02,1115.60 L477.07,1115.58 L479.13,1115.53 L481.18,1115.46 L483.23,1115.38 L485.29,1115.28 L487.35,1115.15 L489.41,1115.01 L491.46,1114.86 L493.52,1114.68 L495.58,1114.50 L497.64,1114.29 L499.70,1114.08 L501.76,1113.85 L503.81,1113.61 L505.87,1113.35 L507.92,1113.09 L509.98,1112.81 L512.03,1112.52 L514.08,1112.23 L516.12,1111.92 L518.17,1111.61 L520.21,1111.29 L522.25,1110.96 L524.29,1110.63 L526.32,1110.28 L528.36,1109.93 L530.39,1109.57 L532.42,1109.21 L534.45,1108.83 L536.47,1108.45 L538.50,1108.07 L540.52,1107.67 L542.54,1107.28 L544.56,1106.87 L546.58,1106.46 L548.59,1106.04 L550.61,1105.62 L552.62,1105.19 L554.63,1104.76 L556.65,1104.32 L558.66,1103.88 L560.66,1103.44 L562.67,1102.98 L564.68,1102.53 L566.68,1102.07 L568.68,1101.61 L570.69,1101.14 L572.69,1100.67 L574.69,1100.19 L576.69,1099.72 L578.69,1099.24 L580.69,1098.75 L582.68,1098.27 L584.68,1097.78 L586.68,1097.29 L588.67,1096.80 L590.67,1096.30 L592.66,1095.81 L594.66,1095.31 L596.65,1094.81 L598.64,1094.31 L600.64,1093.81 L602.63,1093.31 L604.62,1092.80 L606.62,1092.30 L608.61,1091.80 L610.60,1091.29 L612.59,1090.79 L614.58,1090.29 L616.58,1089.78 L618.57,1089.28 L620.56,1088.78 L622.55,1088.28 L624.55,1087.78 L626.54,1087.28 L628.54,1086.79 L630.53,1086.29 L632.52,1085.80 L634.52,1085.31 L636.51,1084.82 L638.51,1084.33 L640.51,1083.85 L642.50,1083.37 L644.50,1082.89 L646.50,1082.41 L648.50,1081.93 L650.50,1081.46 L652.50,1080.99 L654.50,1080.53 L656.50,1080.06 L658.50,1079.60 L660.51,1079.14 L662.51,1078.68 L664.51,1078.22 L666.52,1077.77 L668.52,1077.32 L670.53,1076.87 L672.53,1076.42 L674.54,1075.98 L676.54,1075.54 L678.55,1075.10 L680.56,1074.66 L682.57,1074.23 L684.58,1073.79 L686.58,1073.36 L688.59,1072.94 L690.60,1072.51 L692.62,1072.09 L694.63,1071.67 L696.64,1071.25 L698.65,1070.83 L700.66,1070.42 L702.68,1070.00 L704.69,1069.59 L706.70,1069.18 L708.72,1068.78 L710.73,1068.38 L712.75,1067.97 L714.77,1067.57 L716.78,1067.18 L718.80,1066.78 L720.82,1066.39 L722.83,1066.00 L724.85,1065.61 L726.87,1065.22 L728.89,1064.84 L730.91,1064.46 L732.93,1064.08 L734.95,1063.70 L736.97,1063.33 L738.99,1062.95 L741.01,1062.58 L743.04,1062.21 L745.06,1061.84 L747.08,1061.48 L749.10,1061.12 L751.13,1060.76 L753.15,1060.40 L755.18,1060.04 L757.20,1059.68 L759.23,1059.33 L761.25,1058.98 L763.28,1058.63 L765.31,1058.29 L767.33,1057.94 L769.36,1057.60 L771.39,1057.26 L773.41,1056.92 L775.44,1056.58 L777.47,1056.25 L779.50,1055.92 L781.53,1055.58 L783.56,1055.26 L785.59,1054.93 L787.62,1054.60 L789.65,1054.28 L791.68,1053.96 L793.71,1053.64 L795.75,1053.32 L797.78,1053.01 L799.81,1052.70 L801.84,1052.39 L803.88,1052.08 L805.91,1051.77 L807.94,1051.46 L809.98,1051.16 L812.01,1050.86 L814.05,1050.56 L816.08,1050.26 L818.12,1049.96 L820.15,1049.67 L822.19,1049.38 L824.22,1049.09 L826.26,1048.80 L828.30,1048.51 L830.33,1048.23 L832.37,1047.94 L834.41,1047.66 L836.44,1047.38 L838.48,1047.10 L840.52,1046.83 L842.56,1046.55 L844.60,1046.28 L846.64,1046.01 L848.68,1045.74 L850.72,1045.48 L852.76,1045.21 L854.80,1044.95 L856.84,1044.69 L858.88,1044.43 L860.92,1044.17 L862.96,1043.91 L865.00,1043.66 L867.04,1043.40 L869.08,1043.15 L871.12,1042.90 L873.16,1042.65 L875.21,1042.41 L877.25,1042.16 L879.29,1041.92 L881.33,1041.68 L883.38,1041.44 L885.42,1041.20 L887.46,1040.96 L889.51,1040.73 L891.55,1040.50 L893.59,1040.27 L895.64,1040.04 L897.68,1039.81 L899.73,1039.58 L901.77,1039.36 L903.82,1039.13 L905.86,1038.91 L907.91,1038.69 L909.95,1038.47 L912.00,1038.26 L914.04,1038.04 L916.09,1037.83 L918.13,1037.62 L920.18,1037.41 L922.22,1037.20 L924.27,1036.99 L926.32,1036.78 L928.36,1036.58 L930.41,1036.38 L932.45,1036.17 L934.50,1035.97 L936.55,1035.78 L938.59,1035.58 L940.64,1035.38 L942.69,1035.19 L944.74,1035.00 L946.78,1034.81 L948.83,1034.62 L950.88,1034.43 L952.92,1034.24 L954.97,1034.06 L957.02,1033.88 L957.02,1035.92 L955.01,1036.09 L952.99,1036.26 L950.98,1036.43 L948.96,1036.61 L946.95,1036.79 L944.93,1036.97 L942.92,1037.15 L940.91,1037.33 L938.89,1037.52 L936.88,1037.70 L934.86,1037.89 L932.85,1038.08 L930.83,1038.27 L928.82,1038.46 L926.81,1038.66 L924.79,1038.86 L922.78,1039.05 L920.76,1039.26 L918.75,1039.46 L916.74,1039.66 L914.72,1039.87 L912.71,1040.08 L910.69,1040.29 L908.68,1040.50 L906.67,1040.71 L904.65,1040.93 L902.64,1041.14 L900.63,1041.36 L898.61,1041.58 L896.60,1041.81 L894.59,1042.03 L892.58,1042.26 L890.56,1042.49 L888.55,1042.72 L886.54,1042.95 L884.53,1043.18 L882.51,1043.42 L880.50,1043.66 L878.49,1043.90 L876.48,1044.14 L874.47,1044.38 L872.46,1044.63 L870.45,1044.88 L868.43,1045.13 L866.42,1045.38 L864.41,1045.63 L862.40,1045.89 L860.39,1046.15 L858.38,1046.40 L856.37,1046.67 L854.37,1046.93 L852.36,1047.20 L850.35,1047.46 L848.34,1047.73 L846.33,1048.01 L844.32,1048.28 L842.32,1048.56 L840.31,1048.83 L838.30,1049.11 L836.29,1049.40 L834.29,1049.68 L832.28,1049.97 L830.27,1050.25 L828.27,1050.54 L826.26,1050.84 L824.26,1051.13 L822.25,1051.43 L820.25,1051.73 L818.25,1052.03 L816.24,1052.33 L814.24,1052.64 L812.23,1052.94 L810.23,1053.25 L808.23,1053.57 L806.23,1053.88 L804.23,1054.19 L802.22,1054.51 L800.22,1054.83 L798.22,1055.16 L796.22,1055.48 L794.22,1055.81 L792.22,1056.14 L790.22,1056.47 L788.23,1056.80 L786.23,1057.14 L784.23,1057.47 L782.23,1057.81 L780.24,1058.16 L778.24,1058.50 L776.24,1058.85 L774.25,1059.20 L772.25,1059.55 L770.26,1059.90 L768.26,1060.26 L766.27,1060.62 L764.28,1060.98 L762.28,1061.34 L760.29,1061.70 L758.30,1062.07 L756.31,1062.44 L754.32,1062.81 L752.33,1063.19 L750.34,1063.56 L748.35,1063.94 L746.36,1064.32 L744.37,1064.71 L742.38,1065.09 L740.39,1065.48 L738.41,1065.87 L736.42,1066.26 L734.44,1066.66 L732.45,1067.06 L730.47,1067.46 L728.48,1067.86 L726.50,1068.26 L724.52,1068.67 L722.53,1069.08 L720.55,1069.49 L718.57,1069.91 L716.59,1070.32 L714.61,1070.74 L712.63,1071.16 L710.65,1071.59 L708.67,1072.01 L706.70,1072.44 L704.72,1072.87 L702.74,1073.31 L700.77,1073.74 L698.79,1074.18 L696.82,1074.62 L694.85,1075.07 L692.87,1075.51 L690.90,1075.96 L688.93,1076.41 L686.96,1076.87 L684.99,1077.32 L683.02,1077.78 L681.05,1078.24 L679.08,1078.71 L677.11,1079.17 L675.15,1079.64 L673.18,1080.11 L671.22,1080.59 L669.25,1081.06 L667.29,1081.54 L665.32,1082.02 L663.36,1082.51 L661.40,1083.00 L659.44,1083.48 L657.48,1083.98 L655.52,1084.47 L653.56,1084.97 L651.60,1085.47 L649.65,1085.97 L647.69,1086.48 L645.73,1086.98 L643.78,1087.49 L641.83,1088.01 L639.87,1088.52 L637.92,1089.04 L635.97,1089.56 L634.02,1090.09 L632.07,1090.61 L630.12,1091.14 L628.17,1091.67 L626.22,1092.20 L624.27,1092.74 L622.33,1093.27 L620.38,1093.81 L618.43,1094.35 L616.49,1094.89 L614.54,1095.43 L612.60,1095.97 L610.65,1096.51 L608.71,1097.06 L606.76,1097.60 L604.82,1098.14 L602.87,1098.69 L600.93,1099.23 L598.98,1099.77 L597.04,1100.32 L595.09,1100.86 L593.15,1101.40 L591.20,1101.94 L589.25,1102.48 L587.30,1103.02 L585.36,1103.56 L583.41,1104.10 L581.46,1104.63 L579.51,1105.16 L577.56,1105.69 L575.61,1106.22 L573.66,1106.75 L571.70,1107.27 L569.75,1107.80 L567.80,1108.31 L565.84,1108.83 L563.88,1109.34 L561.93,1109.85 L559.97,1110.36 L558.01,1110.86 L556.05,1111.36 L554.08,1111.86 L552.12,1112.35 L550.15,1112.84 L548.19,1113.33 L546.22,1113.81 L544.25,1114.29 L542.28,1114.76 L540.30,1115.23 L538.33,1115.70 L536.35,1116.16 L534.38,1116.62 L532.40,1117.08 L530.42,1117.53 L528.43,1117.98 L526.45,1118.42 L524.46,1118.86 L522.48,1119.30 L520.49,1119.73 L518.49,1120.16 L516.50,1120.58 L514.50,1121.00 L512.51,1121.42 L510.51,1121.83 L508.50,1122.23 L506.50,1122.64 L504.50,1123.03 L502.49,1123.42 L500.48,1123.80 L498.47,1124.18 L496.46,1124.55 L494.45,1124.91 L492.44,1125.26 L490.42,1125.61 L488.41,1125.94 L486.39,1126.27 L484.38,1126.58 L482.36,1126.89 L480.34,1127.19 L478.33,1127.47 L476.31,1127.74 L474.29,1128.01 L472.28,1128.25 L470.26,1128.49 L468.24,1128.71 L466.22,1128.92 L464.21,1129.12 L462.19,1129.30 L460.18,1129.47 L458.16,1129.62 L456.15,1129.75 L454.14,1129.87 L452.13,1129.98 L450.12,1130.06 L448.11,1130.13 L446.10,1130.18 L444.09,1130.22 L442.09,1130.23 L440.09,1130.23 L438.09,1130.21 L436.09,1130.16 L434.09,1130.10 L432.09,1130.02 L430.10,1129.91 L428.11,1129.79 L426.12,1129.64 L424.14,1129.47 L422.15,1129.28 L420.17,1129.06 L418.20,1128.82 L416.22,1128.56 L414.25,1128.27 L412.28,1127.96 L410.32,1127.63 L408.35,1127.26 L406.39,1126.88 L404.44,1126.46 L402.49,1126.02 L400.54,1125.55 L398.60,1125.06 L396.66,1124.53 L394.72,1123.98 L392.79,1123.40 L390.86,1122.79 L388.94,1122.15 L387.02,1121.48 L385.11,1120.78 L383.20,1120.05 L381.29,1119.28 L379.39,1118.49 L377.50,1117.66 L375.61,1116.80 L373.73,1115.91 L371.85,1114.99 L369.97,1114.03 L368.11,1113.03 L366.24,1112.01 L364.39,1110.94 Z" fill="#3399ff"/>
<path d="M364.66,852.63 L365.53,854.77 L366.40,856.91 L367.28,859.03 L368.18,861.16 L369.08,863.28 L370.00,865.39 L370.92,867.50 L371.86,869.60 L372.80,871.69 L373.76,873.78 L374.73,875.87 L375.71,877.95 L376.69,880.02 L377.69,882.09 L378.70,884.15 L379.72,886.21 L380.75,888.26 L381.79,890.30 L382.85,892.34 L383.91,894.37 L384.98,896.39 L386.07,898.41 L387.16,900.43 L388.27,902.43 L389.39,904.43 L390.52,906.42 L391.66,908.41 L392.81,910.39 L393.97,912.36 L395.15,914.33 L396.33,916.28 L397.53,918.24 L398.74,920.18 L399.95,922.12 L401.18,924.05 L402.43,925.97 L403.68,927.88 L404.94,929.79 L406.22,931.69 L407.51,933.59 L408.81,935.47 L410.12,937.35 L411.44,939.22 L412.78,941.08 L414.12,942.93 L415.48,944.78 L416.85,946.62 L418.23,948.45 L419.63,950.27 L421.03,952.09 L422.44,953.90 L423.86,955.70 L425.28,957.51 L426.71,959.31 L428.13,961.11 L429.56,962.92 L430.98,964.72 L432.40,966.53 L433.81,968.35 L435.21,970.17 L436.61,972.00 L437.99,973.84 L439.35,975.69 L440.71,977.55 L442.05,979.42 L443.38,981.30 L444.71,983.18 L446.04,985.05 L447.37,986.92 L448.71,988.77 L450.06,990.61 L451.43,992.43 L452.82,994.23 L454.23,996.01 L455.67,997.75 L457.15,999.45 L458.66,1001.12 L460.21,1002.74 L461.80,1004.32 L463.44,1005.86 L465.11,1007.35 L466.83,1008.80 L468.58,1010.21 L470.37,1011.57 L472.19,1012.90 L474.04,1014.19 L475.92,1015.44 L477.84,1016.65 L479.78,1017.83 L481.75,1018.97 L483.74,1020.08 L485.75,1021.15 L487.79,1022.19 L489.85,1023.20 L491.93,1024.18 L494.03,1025.13 L496.14,1026.04 L498.26,1026.93 L500.40,1027.80 L502.56,1028.63 L504.72,1029.44 L506.90,1030.21 L509.09,1030.96 L511.29,1031.68 L513.50,1032.37 L515.72,1033.03 L517.95,1033.67 L520.18,1034.27 L522.43,1034.84 L524.68,1035.38 L526.94,1035.90 L529.20,1036.38 L531.47,1036.84 L533.75,1037.26 L536.03,1037.65 L538.31,1038.02 L540.60,1038.35 L542.89,1038.65 L545.18,1038.92 L547.47,1039.16 L549.76,1039.37 L552.06,1039.54 L554.35,1039.69 L556.64,1039.80 L558.93,1039.88 L561.22,1039.94 L563.51,1039.97 L565.80,1039.97 L568.09,1039.95 L570.38,1039.90 L572.66,1039.84 L574.95,1039.75 L577.23,1039.65 L579.52,1039.54 L581.80,1039.40 L584.09,1039.26 L586.37,1039.10 L588.65,1038.94 L590.94,1038.77 L593.22,1038.59 L595.50,1038.41 L597.79,1038.22 L600.07,1038.03 L602.35,1037.84 L604.64,1037.65 L606.92,1037.47 L609.21,1037.28 L611.49,1037.09 L613.77,1036.90 L616.06,1036.71 L618.34,1036.53 L620.63,1036.34 L622.91,1036.15 L625.19,1035.96 L627.48,1035.78 L629.76,1035.59 L632.05,1035.40 L634.33,1035.22 L636.62,1035.03 L638.90,1034.84 L641.19,1034.66 L643.47,1034.47 L645.76,1034.29 L648.04,1034.10 L650.33,1033.91 L652.62,1033.73 L654.90,1033.54 L657.19,1033.36 L659.47,1033.17 L661.76,1032.99 L664.05,1032.80 L666.33,1032.62 L668.62,1032.43 L670.90,1032.25 L673.19,1032.07 L675.48,1031.88 L677.76,1031.70 L680.05,1031.52 L682.34,1031.33 L684.62,1031.15 L686.91,1030.97 L689.20,1030.78 L691.48,1030.60 L693.77,1030.42 L696.06,1030.24 L698.35,1030.06 L700.63,1029.88 L702.92,1029.70 L705.21,1029.51 L707.49,1029.33 L709.78,1029.15 L712.07,1028.97 L714.36,1028.79 L716.65,1028.62 L718.93,1028.44 L721.22,1028.26 L723.51,1028.08 L725.80,1027.90 L728.08,1027.72 L730.37,1027.55 L732.66,1027.37 L734.95,1027.19 L737.24,1027.01 L739.53,1026.84 L741.81,1026.66 L744.10,1026.49 L746.39,1026.31 L748.68,1026.14 L750.97,1025.96 L753.26,1025.79 L755.54,1025.61 L757.83,1025.44 L760.12,1025.27 L762.41,1025.09 L764.70,1024.92 L766.99,1024.75 L769.28,1024.58 L771.57,1024.40 L773.86,1024.23 L776.14,1024.06 L778.43,1023.89 L780.72,1023.72 L783.01,1023.55 L785.30,1023.38 L787.59,1023.21 L789.88,1023.05 L792.17,1022.88 L794.46,1022.71 L796.75,1022.54 L799.04,1022.38 L801.32,1022.21 L803.61,1022.04 L805.90,1021.88 L808.19,1021.71 L810.48,1021.55 L812.77,1021.39 L815.06,1021.22 L817.35,1021.06 L819.64,1020.90 L821.93,1020.73 L824.22,1020.57 L826.51,1020.41 L828.80,1020.25 L831.09,1020.09 L833.38,1019.93 L835.67,1019.77 L837.96,1019.61 L840.25,1019.45 L842.54,1019.29 L844.82,1019.14 L847.11,1018.98 L849.40,1018.82 L851.69,1018.67 L853.98,1018.51 L856.27,1018.36 L858.56,1018.20 L860.85,1018.05 L863.14,1017.90 L865.43,1017.74 L867.72,1017.59 L870.01,1017.44 L872.30,1017.29 L874.59,1017.14 L876.88,1016.99 L879.17,1016.84 L881.46,1016.69 L883.75,1016.54 L886.04,1016.39 L888.33,1016.25 L890.62,1016.10 L892.91,1015.95 L895.19,1015.81 L897.48,1015.66 L899.77,1015.52 L902.06,1015.37 L904.35,1015.23 L906.64,1015.09 L908.93,1014.95 L911.22,1014.81 L913.51,1014.67 L915.80,1014.53 L918.09,1014.39 L920.38,1014.25 L922.67,1014.11 L924.96,1013.97 L927.24,1013.84 L929.53,1013.70 L931.82,1013.56 L934.11,1013.43 L936.40,1013.30 L938.69,1013.16 L940.98,1013.03 L943.27,1012.90 L945.56,1012.77 L947.85,1012.63 L950.13,1012.50 L952.42,1012.38 L954.71,1012.25 L957.00,1012.12 L956.98,1018.16 L954.91,1018.22 L952.84,1018.28 L950.77,1018.34 L948.70,1018.40 L946.62,1018.47 L944.55,1018.54 L942.48,1018.61 L940.41,1018.69 L938.33,1018.77 L936.26,1018.85 L934.19,1018.93 L932.12,1019.02 L930.04,1019.11 L927.97,1019.20 L925.90,1019.29 L923.82,1019.39 L921.75,1019.48 L919.68,1019.58 L917.61,1019.69 L915.53,1019.79 L913.46,1019.90 L911.39,1020.01 L909.31,1020.12 L907.24,1020.24 L905.17,1020.35 L903.10,1020.47 L901.02,1020.59 L898.95,1020.72 L896.88,1020.84 L894.80,1020.97 L892.73,1021.10 L890.66,1021.23 L888.58,1021.37 L886.51,1021.50 L884.44,1021.64 L882.36,1021.78 L880.29,1021.92 L878.22,1022.06 L876.14,1022.21 L874.07,1022.36 L872.00,1022.51 L869.92,1022.66 L867.85,1022.81 L865.78,1022.97 L863.71,1023.12 L861.63,1023.28 L859.56,1023.44 L857.49,1023.60 L855.41,1023.77 L853.34,1023.93 L851.27,1024.10 L849.19,1024.27 L847.12,1024.44 L845.05,1024.61 L842.97,1024.78 L840.90,1024.95 L838.83,1025.13 L836.76,1025.31 L834.68,1025.49 L832.61,1025.67 L830.54,1025.85 L828.46,1026.03 L826.39,1026.22 L824.32,1026.40 L822.25,1026.59 L820.17,1026.78 L818.10,1026.97 L816.03,1027.16 L813.96,1027.35 L811.88,1027.54 L809.81,1027.74 L807.74,1027.93 L805.67,1028.13 L803.60,1028.33 L801.52,1028.53 L799.45,1028.73 L797.38,1028.93 L795.31,1029.13 L793.24,1029.33 L791.16,1029.54 L789.09,1029.74 L787.02,1029.95 L784.95,1030.15 L782.88,1030.36 L780.81,1030.57 L778.73,1030.78 L776.66,1030.99 L774.59,1031.20 L772.52,1031.41 L770.45,1031.62 L768.38,1031.83 L766.31,1032.05 L764.24,1032.26 L762.17,1032.48 L760.10,1032.69 L758.03,1032.91 L755.96,1033.13 L753.89,1033.34 L751.82,1033.56 L749.75,1033.78 L747.68,1034.00 L745.61,1034.22 L743.54,1034.43 L741.47,1034.65 L739.40,1034.87 L737.33,1035.09 L735.26,1035.32 L733.19,1035.54 L731.12,1035.76 L729.05,1035.98 L726.98,1036.20 L724.91,1036.42 L722.84,1036.65 L720.78,1036.87 L718.71,1037.09 L716.64,1037.31 L714.57,1037.54 L712.50,1037.76 L710.44,1037.98 L708.37,1038.20 L706.30,1038.43 L704.23,1038.65 L702.17,1038.87 L700.10,1039.10 L698.03,1039.32 L695.96,1039.54 L693.90,1039.76 L691.83,1039.99 L689.76,1040.21 L687.70,1040.43 L685.63,1040.65 L683.57,1040.87 L681.50,1041.09 L679.44,1041.31 L677.37,1041.53 L675.30,1041.75 L673.24,1041.97 L671.17,1042.19 L669.11,1042.41 L667.04,1042.63 L664.98,1042.85 L662.92,1043.07 L660.85,1043.28 L658.79,1043.50 L656.72,1043.71 L654.66,1043.93 L652.60,1044.14 L650.53,1044.36 L648.47,1044.57 L646.41,1044.78 L644.34,1045.00 L642.28,1045.21 L640.22,1045.42 L638.16,1045.63 L636.10,1045.84 L634.03,1046.04 L631.97,1046.25 L629.91,1046.46 L627.85,1046.66 L625.79,1046.86 L623.73,1047.06 L621.66,1047.26 L619.60,1047.46 L617.54,1047.65 L615.48,1047.84 L613.42,1048.03 L611.36,1048.21 L609.29,1048.40 L607.23,1048.58 L605.17,1048.75 L603.11,1048.93 L601.04,1049.10 L598.98,1049.26 L596.92,1049.42 L594.85,1049.58 L592.79,1049.73 L590.72,1049.88 L588.66,1050.03 L586.59,1050.17 L584.53,1050.30 L582.46,1050.43 L580.39,1050.56 L578.33,1050.68 L576.26,1050.79 L574.19,1050.90 L572.12,1051.01 L570.05,1051.10 L567.98,1051.20 L565.91,1051.28 L563.84,1051.36 L561.77,1051.43 L559.69,1051.50 L557.62,1051.55 L555.55,1051.61 L553.47,1051.65 L551.39,1051.69 L549.32,1051.72 L547.24,1051.74 L545.16,1051.75 L543.08,1051.76 L541.00,1051.76 L538.92,1051.75 L536.83,1051.73 L534.75,1051.70 L532.66,1051.67 L530.58,1051.62 L528.49,1051.57 L526.40,1051.51 L524.31,1051.44 L522.22,1051.35 L520.13,1051.26 L518.04,1051.16 L515.94,1051.05 L513.85,1050.93 L511.75,1050.80 L509.65,1050.66 L507.56,1050.50 L505.46,1050.33 L503.36,1050.16 L501.27,1049.96 L499.17,1049.76 L497.08,1049.54 L494.99,1049.31 L492.90,1049.06 L490.82,1048.79 L488.74,1048.51 L486.66,1048.22 L484.59,1047.91 L482.52,1047.58 L480.45,1047.23 L478.40,1046.86 L476.34,1046.48 L474.30,1046.08 L472.25,1045.66 L470.22,1045.21 L468.19,1044.75 L466.17,1044.27 L464.16,1043.76 L462.16,1043.24 L460.16,1042.69 L458.18,1042.11 L456.20,1041.52 L454.23,1040.90 L452.27,1040.26 L450.33,1039.59 L448.39,1038.90 L446.47,1038.18 L444.55,1037.43 L442.65,1036.66 L440.76,1035.87 L438.89,1035.04 L437.03,1034.19 L435.18,1033.31 L433.34,1032.40 L431.52,1031.47 L429.71,1030.51 L427.91,1029.52 L426.13,1028.51 L424.36,1027.47 L422.61,1026.40 L420.87,1025.31 L419.14,1024.20 L417.43,1023.06 L415.74,1021.90 L414.06,1020.71 L412.39,1019.50 L410.74,1018.27 L409.10,1017.01 L407.48,1015.73 L405.88,1014.42 L404.29,1013.10 L402.71,1011.75 L401.15,1010.38 L399.61,1008.99 L398.08,1007.58 L396.57,1006.15 L395.08,1004.70 L393.60,1003.22 L392.14,1001.73 L390.70,1000.22 L389.27,998.69 L387.86,997.13 L386.46,995.57 L385.08,993.98 L383.71,992.39 L382.35,990.78 L381.00,989.17 L379.66,987.56 L378.32,985.94 L376.98,984.33 L375.64,982.72 L374.30,981.12 L372.95,979.52 L371.60,977.94 L370.24,976.38 L368.87,974.83 L367.49,973.30 L366.10,971.80 L364.69,970.32 Z" fill="#cccccc"/>
<path d="M364.64,879.19 L365.58,881.21 L366.51,883.24 L367.43,885.28 L368.35,887.32 L369.26,889.36 L370.17,891.42 L371.08,893.47 L371.99,895.52 L372.89,897.58 L373.80,899.64 L374.72,901.69 L375.64,903.75 L376.56,905.80 L377.50,907.85 L378.44,909.89 L379.39,911.92 L380.36,913.95 L381.34,915.98 L382.34,917.99 L383.35,919.99 L384.38,921.98 L385.43,923.96 L386.50,925.93 L387.59,927.88 L388.70,929.82 L389.84,931.74 L391.01,933.65 L392.21,935.54 L393.43,937.40 L394.68,939.25 L395.97,941.08 L397.28,942.89 L398.62,944.68 L399.99,946.46 L401.37,948.22 L402.78,949.97 L404.20,951.71 L405.63,953.45 L407.08,955.17 L408.53,956.89 L409.99,958.60 L411.45,960.32 L412.91,962.03 L414.37,963.74 L415.82,965.46 L417.26,967.18 L418.70,968.91 L420.12,970.65 L421.53,972.39 L422.91,974.15 L424.28,975.92 L425.62,977.71 L426.94,979.51 L428.23,981.33 L429.49,983.17 L430.72,985.02 L431.95,986.87 L433.17,988.72 L434.41,990.56 L435.67,992.36 L436.96,994.14 L438.29,995.88 L439.67,997.56 L441.13,999.19 L442.64,1000.75 L444.22,1002.26 L445.86,1003.72 L447.54,1005.12 L449.28,1006.48 L451.05,1007.80 L452.86,1009.08 L454.71,1010.33 L456.57,1011.55 L458.47,1012.74 L460.37,1013.91 L462.30,1015.05 L464.24,1016.17 L466.20,1017.27 L468.18,1018.34 L470.17,1019.39 L472.18,1020.42 L474.20,1021.42 L476.23,1022.39 L478.28,1023.34 L480.34,1024.27 L482.42,1025.16 L484.51,1026.04 L486.60,1026.89 L488.71,1027.71 L490.83,1028.51 L492.96,1029.28 L495.10,1030.03 L497.25,1030.75 L499.40,1031.45 L501.56,1032.12 L503.73,1032.76 L505.91,1033.38 L508.08,1033.97 L510.27,1034.54 L512.46,1035.08 L514.65,1035.59 L516.84,1036.08 L519.04,1036.55 L521.24,1036.98 L523.44,1037.40 L525.64,1037.78 L527.85,1038.15 L530.06,1038.49 L532.27,1038.81 L534.48,1039.10 L536.69,1039.38 L538.91,1039.63 L541.12,1039.87 L543.34,1040.08 L545.56,1040.27 L547.79,1040.45 L550.01,1040.60 L552.23,1040.74 L554.46,1040.86 L556.69,1040.96 L558.92,1041.05 L561.15,1041.12 L563.38,1041.18 L565.61,1041.22 L567.85,1041.24 L570.08,1041.26 L572.32,1041.26 L574.56,1041.24 L576.79,1041.22 L579.03,1041.18 L581.27,1041.14 L583.51,1041.08 L585.75,1041.01 L587.99,1040.93 L590.23,1040.85 L592.48,1040.75 L594.72,1040.65 L596.96,1040.54 L599.20,1040.42 L601.45,1040.30 L603.69,1040.17 L605.93,1040.04 L608.18,1039.90 L610.42,1039.75 L612.66,1039.61 L614.91,1039.46 L617.15,1039.31 L619.39,1039.15 L621.64,1039.00 L623.88,1038.84 L626.12,1038.68 L628.36,1038.52 L630.60,1038.36 L632.84,1038.20 L635.09,1038.04 L637.33,1037.87 L639.57,1037.71 L641.81,1037.54 L644.04,1037.37 L646.28,1037.20 L648.52,1037.03 L650.76,1036.86 L653.00,1036.69 L655.24,1036.52 L657.48,1036.34 L659.71,1036.17 L661.95,1035.99 L664.19,1035.81 L666.43,1035.64 L668.66,1035.46 L670.90,1035.28 L673.14,1035.10 L675.37,1034.92 L677.61,1034.73 L679.84,1034.55 L682.08,1034.37 L684.31,1034.18 L686.55,1034.00 L688.78,1033.81 L691.02,1033.63 L693.25,1033.44 L695.49,1033.25 L697.72,1033.06 L699.96,1032.88 L702.19,1032.69 L704.42,1032.50 L706.66,1032.31 L708.89,1032.12 L711.12,1031.93 L713.36,1031.73 L715.59,1031.54 L717.82,1031.35 L720.06,1031.16 L722.29,1030.96 L724.52,1030.77 L726.75,1030.58 L728.99,1030.38 L731.22,1030.19 L733.45,1030.00 L735.68,1029.80 L737.91,1029.61 L740.15,1029.41 L742.38,1029.22 L744.61,1029.02 L746.84,1028.83 L749.07,1028.63 L751.31,1028.44 L753.54,1028.24 L755.77,1028.05 L758.00,1027.85 L760.23,1027.66 L762.46,1027.46 L764.69,1027.27 L766.93,1027.07 L769.16,1026.88 L771.39,1026.69 L773.62,1026.49 L775.85,1026.30 L778.08,1026.10 L780.31,1025.91 L782.55,1025.72 L784.78,1025.53 L787.01,1025.33 L789.24,1025.14 L791.47,1024.95 L793.70,1024.76 L795.93,1024.57 L798.17,1024.38 L800.40,1024.19 L802.63,1024.00 L804.86,1023.81 L807.09,1023.62 L809.33,1023.43 L811.56,1023.25 L813.79,1023.06 L816.02,1022.88 L818.25,1022.69 L820.49,1022.51 L822.72,1022.32 L824.95,1022.14 L827.18,1021.96 L829.42,1021.78 L831.65,1021.60 L833.88,1021.42 L836.12,1021.24 L838.35,1021.06 L840.58,1020.88 L842.82,1020.71 L845.05,1020.53 L847.29,1020.36 L849.52,1020.18 L851.75,1020.01 L853.99,1019.84 L856.22,1019.67 L858.46,1019.50 L860.69,1019.33 L862.93,1019.16 L865.16,1019.00 L867.40,1018.83 L869.63,1018.67 L871.87,1018.51 L874.11,1018.35 L876.34,1018.19 L878.58,1018.03 L880.82,1017.87 L883.05,1017.72 L885.29,1017.56 L887.53,1017.41 L889.77,1017.26 L892.00,1017.11 L894.24,1016.96 L896.48,1016.81 L898.72,1016.66 L900.96,1016.52 L903.20,1016.38 L905.44,1016.24 L907.68,1016.10 L909.92,1015.96 L912.16,1015.82 L914.40,1015.69 L916.64,1015.55 L918.88,1015.42 L921.12,1015.29 L923.36,1015.16 L925.61,1015.04 L927.85,1014.91 L930.09,1014.79 L932.33,1014.67 L934.58,1014.55 L936.82,1014.43 L939.07,1014.32 L941.31,1014.21 L943.56,1014.09 L945.80,1013.99 L948.05,1013.88 L950.29,1013.77 L952.54,1013.67 L954.79,1013.57 L957.03,1013.47 L957.01,1015.57 L954.88,1015.65 L952.75,1015.74 L950.62,1015.83 L948.49,1015.93 L946.36,1016.02 L944.24,1016.11 L942.11,1016.21 L939.98,1016.31 L937.85,1016.41 L935.72,1016.51 L933.59,1016.62 L931.47,1016.73 L929.34,1016.83 L927.21,1016.94 L925.09,1017.05 L922.96,1017.17 L920.83,1017.28 L918.71,1017.40 L916.58,1017.52 L914.45,1017.63 L912.33,1017.76 L910.20,1017.88 L908.08,1018.00 L905.95,1018.13 L903.83,1018.26 L901.70,1018.38 L899.58,1018.51 L897.45,1018.65 L895.33,1018.78 L893.20,1018.92 L891.08,1019.05 L888.95,1019.19 L886.83,1019.33 L884.71,1019.47 L882.58,1019.61 L880.46,1019.76 L878.34,1019.90 L876.21,1020.05 L874.09,1020.20 L871.97,1020.35 L869.84,1020.50 L867.72,1020.65 L865.60,1020.81 L863.48,1020.96 L861.35,1021.12 L859.23,1021.28 L857.11,1021.44 L854.99,1021.60 L852.87,1021.76 L850.75,1021.92 L848.62,1022.09 L846.50,1022.25 L844.38,1022.42 L842.26,1022.59 L840.14,1022.76 L838.02,1022.93 L835.90,1023.10 L833.78,1023.28 L831.66,1023.45 L829.54,1023.63 L827.42,1023.80 L825.30,1023.98 L823.18,1024.16 L821.06,1024.34 L818.94,1024.52 L816.82,1024.71 L814.70,1024.89 L812.58,1025.08 L810.46,1025.26 L808.34,1025.45 L806.22,1025.64 L804.10,1025.83 L801.98,1026.02 L799.87,1026.21 L797.75,1026.40 L795.63,1026.60 L793.51,1026.79 L791.39,1026.99 L789.27,1027.19 L787.15,1027.38 L785.04,1027.58 L782.92,1027.78 L780.80,1027.98 L778.68,1028.19 L776.56,1028.39 L774.45,1028.59 L772.33,1028.80 L770.21,1029.00 L768.09,1029.21 L765.98,1029.42 L763.86,1029.63 L761.74,1029.84 L759.62,1030.05 L757.51,1030.26 L755.39,1030.47 L753.27,1030.68 L751.16,1030.90 L749.04,1031.11 L746.92,1031.32 L744.80,1031.54 L742.69,1031.76 L740.57,1031.98 L738.45,1032.19 L736.34,1032.41 L734.22,1032.63 L732.10,1032.85 L729.99,1033.07 L727.87,1033.30 L725.75,1033.52 L723.64,1033.74 L721.52,1033.97 L719.40,1034.19 L717.29,1034.42 L715.17,1034.64 L713.06,1034.87 L710.94,1035.10 L708.82,1035.32 L706.71,1035.55 L704.59,1035.78 L702.47,1036.01 L700.36,1036.24 L698.24,1036.47 L696.12,1036.70 L694.01,1036.94 L691.89,1037.17 L689.78,1037.40 L687.66,1037.64 L685.54,1037.87 L683.43,1038.10 L681.31,1038.34 L679.19,1038.58 L677.08,1038.81 L674.96,1039.05 L672.85,1039.28 L670.73,1039.52 L668.61,1039.76 L666.50,1040.00 L664.38,1040.24 L662.26,1040.48 L660.15,1040.71 L658.03,1040.95 L655.92,1041.19 L653.80,1041.44 L651.68,1041.68 L649.57,1041.92 L647.45,1042.16 L645.33,1042.40 L643.22,1042.64 L641.10,1042.88 L638.98,1043.13 L636.87,1043.37 L634.75,1043.61 L632.63,1043.86 L630.52,1044.10 L628.40,1044.34 L626.28,1044.59 L624.17,1044.83 L622.05,1045.08 L619.93,1045.32 L617.82,1045.57 L615.70,1045.81 L613.58,1046.06 L611.47,1046.30 L609.35,1046.55 L607.23,1046.79 L605.11,1047.04 L603.00,1047.28 L600.88,1047.53 L598.76,1047.78 L596.65,1048.02 L594.53,1048.27 L592.42,1048.52 L590.31,1048.77 L588.22,1049.02 L586.12,1049.28 L584.04,1049.53 L581.97,1049.79 L579.91,1050.06 L577.86,1050.32 L575.83,1050.57 L573.79,1050.79 L571.76,1050.94 L569.72,1051.03 L567.67,1051.06 L565.62,1051.04 L563.55,1050.98 L561.48,1050.90 L559.39,1050.78 L557.30,1050.65 L555.20,1050.49 L553.09,1050.31 L550.97,1050.13 L548.85,1049.92 L546.72,1049.72 L544.59,1049.50 L542.46,1049.29 L540.33,1049.07 L538.19,1048.86 L536.05,1048.66 L533.91,1048.47 L531.78,1048.28 L529.64,1048.11 L527.50,1047.94 L525.37,1047.77 L523.24,1047.60 L521.11,1047.44 L518.98,1047.27 L516.85,1047.09 L514.73,1046.91 L512.61,1046.72 L510.49,1046.51 L508.38,1046.29 L506.27,1046.06 L504.16,1045.81 L502.05,1045.53 L499.95,1045.24 L497.86,1044.91 L495.77,1044.57 L493.68,1044.19 L491.60,1043.79 L489.53,1043.36 L487.46,1042.90 L485.39,1042.42 L483.34,1041.91 L481.28,1041.37 L479.23,1040.81 L477.19,1040.23 L475.16,1039.62 L473.13,1038.99 L471.10,1038.33 L469.09,1037.65 L467.08,1036.95 L465.07,1036.22 L463.08,1035.48 L461.09,1034.71 L459.10,1033.92 L457.13,1033.11 L455.16,1032.29 L453.20,1031.44 L451.24,1030.57 L449.30,1029.68 L447.36,1028.78 L445.43,1027.85 L443.51,1026.91 L441.59,1025.95 L439.69,1024.98 L437.79,1023.98 L435.91,1022.98 L434.03,1021.95 L432.16,1020.90 L430.31,1019.84 L428.46,1018.76 L426.64,1017.66 L424.82,1016.53 L423.03,1015.39 L421.25,1014.23 L419.48,1013.04 L417.74,1011.83 L416.02,1010.59 L414.31,1009.34 L412.63,1008.05 L410.98,1006.74 L409.34,1005.41 L407.73,1004.05 L406.15,1002.66 L404.59,1001.24 L403.06,999.80 L401.55,998.32 L400.08,996.82 L398.64,995.29 L397.23,993.72 L395.85,992.13 L394.51,990.50 L393.19,988.84 L391.91,987.14 L390.67,985.42 L389.44,983.68 L388.25,981.91 L387.07,980.12 L385.92,978.31 L384.78,976.49 L383.66,974.66 L382.54,972.81 L381.44,970.96 L380.35,969.10 L379.26,967.24 L378.18,965.38 L377.09,963.52 L376.00,961.67 L374.91,959.82 L373.81,957.99 L372.69,956.16 L371.57,954.35 L370.43,952.56 L369.28,950.79 L368.10,949.05 L366.90,947.32 L365.68,945.63 L364.43,943.97 Z" fill="#ff9933"/>
<path d="M364.18,962.58 L366.13,963.02 L368.08,963.46 L370.03,963.90 L371.98,964.34 L373.93,964.77 L375.88,965.20 L377.83,965.62 L379.78,966.04 L381.74,966.45 L383.69,966.87 L385.64,967.28 L387.60,967.68 L389.55,968.08 L391.50,968.48 L393.46,968.88 L395.41,969.27 L397.37,969.66 L399.32,970.04 L401.28,970.42 L403.24,970.80 L405.20,971.17 L407.15,971.54 L409.11,971.91 L411.07,972.27 L413.03,972.63 L414.99,972.99 L416.95,973.34 L418.91,973.69 L420.87,974.04 L422.83,974.38 L424.79,974.72 L426.75,975.06 L428.72,975.39 L430.68,975.73 L432.64,976.05 L434.60,976.38 L436.57,976.70 L438.53,977.02 L440.50,977.33 L442.46,977.64 L444.43,977.95 L446.39,978.26 L448.36,978.56 L450.32,978.86 L452.29,979.15 L454.26,979.45 L456.22,979.74 L458.19,980.02 L460.16,980.31 L462.13,980.59 L464.10,980.87 L466.07,981.14 L468.04,981.41 L470.01,981.68 L471.98,981.95 L473.95,982.21 L475.92,982.47 L477.89,982.73 L479.86,982.99 L481.83,983.24 L483.80,983.49 L485.78,983.73 L487.75,983.98 L489.72,984.22 L491.69,984.46 L493.67,984.69 L495.64,984.93 L497.62,985.16 L499.59,985.38 L501.57,985.61 L503.54,985.83 L505.52,986.05 L507.49,986.27 L509.47,986.48 L511.45,986.69 L513.42,986.90 L515.40,987.11 L517.38,987.31 L519.35,987.52 L521.33,987.72 L523.31,987.91 L525.29,988.11 L527.27,988.30 L529.24,988.49 L531.22,988.68 L533.20,988.86 L535.18,989.04 L537.16,989.22 L539.14,989.40 L541.12,989.58 L543.10,989.75 L545.09,989.92 L547.07,990.09 L549.05,990.26 L551.03,990.42 L553.01,990.58 L554.99,990.74 L556.98,990.90 L558.96,991.05 L560.94,991.21 L562.92,991.36 L564.91,991.51 L566.89,991.65 L568.87,991.80 L570.86,991.94 L572.84,992.08 L574.83,992.22 L576.81,992.35 L578.80,992.49 L580.78,992.62 L582.77,992.75 L584.75,992.88 L586.74,993.01 L588.72,993.13 L590.71,993.25 L592.70,993.37 L594.68,993.49 L596.67,993.61 L598.66,993.72 L600.64,993.84 L602.63,993.95 L604.62,994.06 L606.60,994.17 L608.59,994.27 L610.58,994.38 L612.57,994.48 L614.56,994.58 L616.54,994.68 L618.53,994.78 L620.52,994.87 L622.51,994.97 L624.50,995.06 L626.49,995.15 L628.48,995.24 L630.47,995.33 L632.46,995.41 L634.45,995.50 L636.44,995.58 L638.43,995.66 L640.42,995.74 L642.41,995.82 L644.40,995.90 L646.39,995.97 L648.38,996.05 L650.37,996.12 L652.36,996.19 L654.35,996.26 L656.34,996.33 L658.33,996.39 L660.33,996.46 L662.32,996.52 L664.31,996.59 L666.30,996.65 L668.29,996.71 L670.28,996.77 L672.28,996.83 L674.27,996.88 L676.26,996.94 L678.25,996.99 L680.24,997.04 L682.24,997.10 L684.23,997.15 L686.22,997.20 L688.21,997.24 L690.21,997.29 L692.20,997.34 L694.19,997.38 L696.19,997.43 L698.18,997.47 L700.17,997.51 L702.17,997.55 L704.16,997.59 L706.15,997.63 L708.15,997.67 L710.14,997.71 L712.13,997.74 L714.13,997.78 L716.12,997.81 L718.11,997.85 L720.11,997.88 L722.10,997.91 L724.09,997.94 L726.09,997.97 L728.08,998.00 L730.08,998.03 L732.07,998.06 L734.06,998.08 L736.06,998.11 L738.05,998.13 L740.04,998.16 L742.04,998.18 L744.03,998.21 L746.03,998.23 L748.02,998.25 L750.01,998.27 L752.01,998.29 L754.00,998.31 L756.00,998.33 L757.99,998.35 L759.98,998.37 L761.98,998.39 L763.97,998.41 L765.97,998.42 L767.96,998.44 L769.95,998.46 L771.95,998.47 L773.94,998.49 L775.94,998.50 L777.93,998.52 L779.92,998.53 L781.92,998.55 L783.91,998.56 L785.91,998.57 L787.90,998.58 L789.89,998.60 L791.89,998.61 L793.88,998.62 L795.87,998.63 L797.87,998.64 L799.86,998.66 L801.85,998.67 L803.85,998.68 L805.84,998.69 L807.83,998.70 L809.83,998.71 L811.82,998.72 L813.81,998.73 L815.80,998.74 L817.80,998.75 L819.79,998.76 L821.78,998.77 L823.78,998.78 L825.77,998.79 L827.76,998.80 L829.75,998.81 L831.74,998.82 L833.74,998.83 L835.73,998.84 L837.72,998.85 L839.71,998.86 L841.70,998.87 L843.70,998.88 L845.69,998.89 L847.68,998.90 L849.67,998.91 L851.66,998.92 L853.65,998.93 L855.64,998.95 L857.63,998.96 L859.62,998.97 L861.62,998.98 L863.61,999.00 L865.60,999.01 L867.59,999.02 L869.58,999.04 L871.57,999.05 L873.56,999.06 L875.55,999.08 L877.54,999.09 L879.52,999.11 L881.51,999.13 L883.50,999.14 L885.49,999.16 L887.48,999.18 L889.47,999.20 L891.46,999.21 L893.45,999.23 L895.43,999.25 L897.42,999.27 L899.41,999.29 L901.40,999.32 L903.38,999.34 L905.37,999.36 L907.36,999.38 L909.35,999.41 L911.33,999.43 L913.32,999.46 L915.30,999.49 L917.29,999.51 L919.28,999.54 L921.26,999.57 L923.25,999.60 L925.23,999.63 L927.22,999.66 L929.20,999.69 L931.19,999.72 L933.17,999.76 L935.16,999.79 L937.14,999.83 L939.12,999.86 L941.11,999.90 L943.09,999.94 L945.07,999.98 L947.06,1000.02 L949.04,1000.06 L951.02,1000.10 L953.00,1000.14 L954.99,1000.19 L956.97,1000.23" fill="none" stroke="#00cc00" stroke-width="5"/>
</g>
<g opacity="0.4"><rect x="390.75" y="848.00" width="12.5" height="72.00" fill="#000"/><circle cx="397.00" cy="897.50" r="4.85" fill="#000"/></g><path d="M375.30,890.50 H368.90 V904.50 H375.30 M417.70,890.50 H424.10 V904.50 H417.70" fill="none" stroke="#000" stroke-width="1.9"/><path d="M380.00,897.50 H391.15 M402.85,897.50 H414.00 M397.00,848.75 V891.65 M397.00,903.35 V946.25" stroke="#000" stroke-width="2.3" fill="none"/><circle cx="397.00" cy="897.50" r="4.85" fill="none" stroke="#000" stroke-width="2"/>
<g opacity="0.4"><rect x="449.25" y="908.00" width="12.5" height="60.75" fill="#000"/><circle cx="455.50" cy="951.25" r="4.85" fill="#000"/></g><path d="M433.55,944.25 H427.15 V958.25 H433.55 M476.45,944.25 H482.85 V958.25 H476.45" fill="none" stroke="#000" stroke-width="1.9"/><path d="M438.50,951.25 H449.65 M461.35,951.25 H472.50 M455.50,912.00 V945.40 M455.50,957.10 V990.00" stroke="#000" stroke-width="2.3" fill="none"/><circle cx="455.50" cy="951.25" r="4.85" fill="none" stroke="#000" stroke-width="2"/>
<g opacity="0.4"><rect x="510.50" y="925.75" width="12.5" height="56.00" fill="#000"/><circle cx="516.75" cy="966.25" r="4.85" fill="#000"/></g><path d="M492.80,959.25 H486.40 V973.25 H492.80 M535.20,959.25 H541.60 V973.25 H535.20" fill="none" stroke="#000" stroke-width="1.9"/><path d="M499.75,966.25 H510.90 M522.60,966.25 H533.75 M516.75,932.50 V960.40 M516.75,972.10 V998.75" stroke="#000" stroke-width="2.3" fill="none"/><circle cx="516.75" cy="966.25" r="4.85" fill="none" stroke="#000" stroke-width="2"/>
<g opacity="0.4"><rect x="567.00" y="948.25" width="12.5" height="51.25" fill="#000"/><circle cx="573.25" cy="985.50" r="4.85" fill="#000"/></g><path d="M551.05,978.50 H544.65 V992.50 H551.05 M593.95,978.50 H600.35 V992.50 H593.95" fill="none" stroke="#000" stroke-width="1.9"/><path d="M556.25,985.50 H567.40 M579.10,985.50 H590.25 M573.25,957.00 V979.65 M573.25,991.35 V1013.75" stroke="#000" stroke-width="2.3" fill="none"/><circle cx="573.25" cy="985.50" r="4.85" fill="none" stroke="#000" stroke-width="2"/>
<g opacity="0.4"><rect x="625.00" y="919.25" width="12.5" height="50.25" fill="#000"/><circle cx="631.25" cy="956.25" r="4.85" fill="#000"/></g><path d="M609.80,949.25 H603.40 V963.25 H609.80 M652.70,949.25 H659.10 V963.25 H652.70" fill="none" stroke="#000" stroke-width="1.9"/><path d="M614.25,956.25 H625.40 M637.10,956.25 H648.25 M631.25,930.00 V950.40 M631.25,962.10 V982.00" stroke="#000" stroke-width="2.3" fill="none"/><circle cx="631.25" cy="956.25" r="4.85" fill="none" stroke="#000" stroke-width="2"/>
<g opacity="0.4"><rect x="685.75" y="980.50" width="12.5" height="43.25" fill="#000"/><circle cx="692.00" cy="1012.50" r="4.85" fill="#000"/></g><path d="M668.55,1005.50 H662.15 V1019.50 H668.55 M711.45,1005.50 H717.85 V1019.50 H711.45" fill="none" stroke="#000" stroke-width="1.9"/><path d="M675.00,1012.50 H686.15 M697.85,1012.50 H709.00 M692.00,990.00 V1006.65 M692.00,1018.35 V1035.00" stroke="#000" stroke-width="2.3" fill="none"/><circle cx="692.00" cy="1012.50" r="4.85" fill="none" stroke="#000" stroke-width="2"/>
<g opacity="0.4"><rect x="743.75" y="943.75" width="12.5" height="43.75" fill="#000"/><circle cx="750.00" cy="976.25" r="4.85" fill="#000"/></g><path d="M727.30,969.25 H720.90 V983.25 H727.30 M770.20,969.25 H776.60 V983.25 H770.20" fill="none" stroke="#000" stroke-width="1.9"/><path d="M733.00,976.25 H744.15 M755.85,976.25 H767.00 M750.00,955.00 V970.40 M750.00,982.10 V997.50" stroke="#000" stroke-width="2.3" fill="none"/><circle cx="750.00" cy="976.25" r="4.85" fill="none" stroke="#000" stroke-width="2"/>
<g opacity="0.4"><rect x="801.25" y="986.30" width="12.5" height="39.70" fill="#000"/><circle cx="807.50" cy="1015.40" r="4.85" fill="#000"/></g><path d="M786.50,1008.40 H780.10 V1022.40 H786.50 M828.50,1008.40 H834.90 V1022.40 H828.50" fill="none" stroke="#000" stroke-width="1.9"/><path d="M790.50,1015.40 H801.65 M813.35,1015.40 H824.50 M807.50,996.80 V1009.55 M807.50,1021.25 V1034.70" stroke="#000" stroke-width="2.3" fill="none"/><circle cx="807.50" cy="1015.40" r="4.85" fill="none" stroke="#000" stroke-width="2"/>
<g opacity="0.4"><rect x="860.45" y="998.40" width="12.5" height="38.40" fill="#000"/><circle cx="866.70" cy="1026.00" r="4.85" fill="#000"/></g><path d="M845.10,1019.00 H838.70 V1033.00 H845.10 M887.00,1019.00 H893.40 V1033.00 H887.00" fill="none" stroke="#000" stroke-width="1.9"/><path d="M849.70,1026.00 H860.85 M872.55,1026.00 H883.70 M866.70,1008.90 V1020.15 M866.70,1031.85 V1043.60" stroke="#000" stroke-width="2.3" fill="none"/><circle cx="866.70" cy="1026.00" r="4.85" fill="none" stroke="#000" stroke-width="2"/>
<g opacity="0.4"><rect x="919.45" y="952.90" width="12.5" height="38.80" fill="#000"/><circle cx="925.70" cy="980.60" r="4.85" fill="#000"/></g><path d="M904.10,973.60 H897.70 V987.60 H904.10 M946.20,973.60 H952.60 V987.60 H946.20" fill="none" stroke="#000" stroke-width="1.9"/><path d="M908.70,980.60 H919.85 M931.55,980.60 H942.70 M925.70,964.00 V974.75 M925.70,986.45 V997.80" stroke="#000" stroke-width="2.3" fill="none"/><circle cx="925.70" cy="980.60" r="4.85" fill="none" stroke="#000" stroke-width="2"/>
<path d="M364.4,842 V1144.1 H957" fill="none" stroke="#000" stroke-width="2.2"/>
<line x1="364.40" y1="847.00" x2="373.70" y2="847.00" stroke="#000" stroke-width="2.2"/>
<line x1="364.40" y1="899.00" x2="383.00" y2="899.00" stroke="#000" stroke-width="2.2"/>
<text x="346.5" y="912.00" font-size="28.7" text-anchor="end">1.2</text>
<line x1="364.40" y1="951.00" x2="373.70" y2="951.00" stroke="#000" stroke-width="2.2"/>
<line x1="364.40" y1="1003.00" x2="383.00" y2="1003.00" stroke="#000" stroke-width="2.2"/>
<text x="346.5" y="1016.00" font-size="28.7" text-anchor="end">1.0</text>
<line x1="364.40" y1="1055.00" x2="373.70" y2="1055.00" stroke="#000" stroke-width="2.2"/>
<line x1="364.40" y1="1107.00" x2="383.00" y2="1107.00" stroke="#000" stroke-width="2.2"/>
<text x="346.5" y="1120.00" font-size="28.7" text-anchor="end">0.8</text>
<line x1="410.80" y1="1144.10" x2="410.80" y2="1136.00" stroke="#000" stroke-width="2.2"/>
<text x="407.80" y="1177" font-size="28.7" text-anchor="middle">100</text>
<line x1="557.95" y1="1144.10" x2="557.95" y2="1140.30" stroke="#000" stroke-width="2.2"/>
<line x1="705.10" y1="1144.10" x2="705.10" y2="1136.00" stroke="#000" stroke-width="2.2"/>
<text x="702.10" y="1177" font-size="28.7" text-anchor="middle">200</text>
<line x1="852.25" y1="1144.10" x2="852.25" y2="1140.30" stroke="#000" stroke-width="2.2"/>
<text x="598" y="1217.7" font-size="28.7"><tspan font-style="italic">k</tspan>* (MeV/<tspan font-style="italic">c</tspan>)</text>
<g opacity="0.4"><rect x="142.00" y="773.25" width="12.5" height="96.25" fill="#000"/><circle cx="148.25" cy="830.00" r="4.85" fill="#000"/></g><path d="M119.30,823.00 H112.90 V837.00 H119.30 M164.70,823.00 H171.10 V837.00 H164.70" fill="none" stroke="#000" stroke-width="1.9"/><path d="M135.65,830.00 H142.40 M154.10,830.00 H160.85 M148.25,725.75 V824.15 M148.25,835.85 V935.50" stroke="#000" stroke-width="2.3" fill="none"/><circle cx="148.25" cy="830.00" r="4.85" fill="none" stroke="#000" stroke-width="2"/>
<g opacity="0.4"><rect x="200.00" y="1090.00" width="12.5" height="43.75" fill="#000"/><circle cx="206.25" cy="1117.00" r="4.85" fill="#000"/></g><path d="M180.30,1110.00 H173.90 V1124.00 H180.30 M225.20,1110.00 H231.60 V1124.00 H225.20" fill="none" stroke="#000" stroke-width="1.9"/><path d="M189.25,1117.00 H200.40 M212.10,1117.00 H223.25 M206.25,1080.00 V1111.15 M206.25,1122.85 V1153.75" stroke="#000" stroke-width="2.3" fill="none"/><circle cx="206.25" cy="1117.00" r="4.85" fill="none" stroke="#000" stroke-width="2"/>
<g opacity="0.4"><rect x="258.35" y="1176.30" width="12.5" height="28.30" fill="#000"/><circle cx="264.60" cy="1194.50" r="4.85" fill="#000"/></g><path d="M241.80,1187.50 H235.40 V1201.50 H241.80 M286.50,1187.50 H292.90 V1201.50 H286.50" fill="none" stroke="#000" stroke-width="1.9"/><path d="M247.60,1194.50 H258.75 M270.45,1194.50 H281.60 M264.60,1174.80 V1188.65 M264.60,1200.35 V1214.80" stroke="#000" stroke-width="2.3" fill="none"/><circle cx="264.60" cy="1194.50" r="4.85" fill="none" stroke="#000" stroke-width="2"/>
<g opacity="0.4"><rect x="320.45" y="1245.00" width="12.5" height="19.60" fill="#000"/><circle cx="326.70" cy="1257.90" r="4.85" fill="#000"/></g><path d="M303.30,1250.90 H296.90 V1264.90 H303.30 M348.30,1250.90 H354.70 V1264.90 H348.30" fill="none" stroke="#000" stroke-width="1.9"/><path d="M309.70,1257.90 H320.85 M332.55,1257.90 H343.70 M326.70,1246.00 V1252.05 M326.70,1263.75 V1270.40" stroke="#000" stroke-width="2.3" fill="none"/><circle cx="326.70" cy="1257.90" r="4.85" fill="none" stroke="#000" stroke-width="2"/>
<g opacity="0.4"><rect x="381.05" y="1286.72" width="12.5" height="13.50" fill="#000"/><circle cx="387.30" cy="1296.00" r="4.85" fill="#000"/></g><path d="M364.60,1289.00 H358.20 V1303.00 H364.60 M410.20,1289.00 H416.60 V1303.00 H410.20" fill="none" stroke="#000" stroke-width="1.9"/><path d="M370.30,1296.00 H381.45 M393.15,1296.00 H404.30 M387.30,1286.86 V1290.15 M387.30,1301.85 V1305.14" stroke="#000" stroke-width="2.3" fill="none"/><circle cx="387.30" cy="1296.00" r="4.85" fill="none" stroke="#000" stroke-width="2"/>
<g opacity="0.4"><rect x="442.95" y="1297.89" width="12.5" height="11.39" fill="#000"/><circle cx="449.20" cy="1306.00" r="4.85" fill="#000"/></g><path d="M426.10,1299.00 H419.70 V1313.00 H426.10 M471.20,1299.00 H477.60 V1313.00 H471.20" fill="none" stroke="#000" stroke-width="1.9"/><path d="M432.20,1306.00 H443.35 M455.05,1306.00 H466.20 M449.20,1298.64 V1300.15 M449.20,1311.85 V1313.27" stroke="#000" stroke-width="2.3" fill="none"/><circle cx="449.20" cy="1306.00" r="4.85" fill="none" stroke="#000" stroke-width="2"/>
<g opacity="0.4"><rect x="506.95" y="1300.71" width="12.5" height="10.50" fill="#000"/><circle cx="513.20" cy="1308.30" r="4.85" fill="#000"/></g><path d="M487.40,1301.30 H481.00 V1315.30 H487.40 M533.30,1301.30 H539.70 V1315.30 H533.30" fill="none" stroke="#000" stroke-width="1.9"/><path d="M496.20,1308.30 H507.35 M519.05,1308.30 H530.20 M513.20,1301.97 V1302.45 M513.20,1314.15 V1314.39" stroke="#000" stroke-width="2.3" fill="none"/><circle cx="513.20" cy="1308.30" r="4.85" fill="none" stroke="#000" stroke-width="2"/>
<g opacity="0.4"><rect x="566.05" y="1305.72" width="12.5" height="9.61" fill="#000"/><circle cx="572.30" cy="1312.70" r="4.85" fill="#000"/></g><path d="M549.30,1305.70 H542.90 V1319.70 H549.30 M593.80,1305.70 H600.20 V1319.70 H593.80" fill="none" stroke="#000" stroke-width="1.9"/><path d="M555.30,1312.70 H566.45 M578.15,1312.70 H589.30" stroke="#000" stroke-width="2.3" fill="none"/><circle cx="572.30" cy="1312.70" r="4.85" fill="none" stroke="#000" stroke-width="2"/>
<g opacity="0.4"><rect x="626.55" y="1299.96" width="12.5" height="9.42" fill="#000"/><circle cx="632.80" cy="1306.90" r="4.85" fill="#000"/></g><path d="M610.40,1299.90 H604.00 V1313.90 H610.40 M655.20,1299.90 H661.60 V1313.90 H655.20" fill="none" stroke="#000" stroke-width="1.9"/><path d="M615.80,1306.90 H626.95 M638.65,1306.90 H649.80" stroke="#000" stroke-width="2.3" fill="none"/><circle cx="632.80" cy="1306.90" r="4.85" fill="none" stroke="#000" stroke-width="2"/>
<g opacity="0.4"><rect x="689.95" y="1311.60" width="12.5" height="8.11" fill="#000"/><circle cx="696.20" cy="1317.60" r="4.85" fill="#000"/></g><path d="M672.70,1310.60 H666.30 V1324.60 H672.70 M716.30,1310.60 H722.70 V1324.60 H716.30" fill="none" stroke="#000" stroke-width="1.9"/><path d="M679.20,1317.60 H690.35 M702.05,1317.60 H713.20" stroke="#000" stroke-width="2.3" fill="none"/><circle cx="696.20" cy="1317.60" r="4.85" fill="none" stroke="#000" stroke-width="2"/>
<g opacity="0.4"><rect x="751.05" y="1304.81" width="12.5" height="8.20" fill="#000"/><circle cx="757.30" cy="1310.90" r="4.85" fill="#000"/></g><path d="M733.80,1303.90 H727.40 V1317.90 H733.80 M778.70,1303.90 H785.10 V1317.90 H778.70" fill="none" stroke="#000" stroke-width="1.9"/><path d="M740.30,1310.90 H751.45 M763.15,1310.90 H774.30" stroke="#000" stroke-width="2.3" fill="none"/><circle cx="757.30" cy="1310.90" r="4.85" fill="none" stroke="#000" stroke-width="2"/>
<g opacity="0.4"><rect x="811.15" y="1312.74" width="12.5" height="7.44" fill="#000"/><circle cx="817.40" cy="1318.20" r="4.85" fill="#000"/></g><path d="M795.60,1311.20 H789.20 V1325.20 H795.60 M840.20,1311.20 H846.60 V1325.20 H840.20" fill="none" stroke="#000" stroke-width="1.9"/><path d="M800.40,1318.20 H811.55 M823.25,1318.20 H834.40" stroke="#000" stroke-width="2.3" fill="none"/><circle cx="817.40" cy="1318.20" r="4.85" fill="none" stroke="#000" stroke-width="2"/>
<g opacity="0.4"><rect x="874.15" y="1315.23" width="12.5" height="7.20" fill="#000"/><circle cx="880.40" cy="1320.40" r="4.85" fill="#000"/></g><path d="M857.00,1313.40 H850.60 V1327.40 H857.00 M901.60,1313.40 H908.00 V1327.40 H901.60" fill="none" stroke="#000" stroke-width="1.9"/><path d="M863.40,1320.40 H874.55 M886.25,1320.40 H897.40" stroke="#000" stroke-width="2.3" fill="none"/><circle cx="880.40" cy="1320.40" r="4.85" fill="none" stroke="#000" stroke-width="2"/>
<g opacity="0.4"><rect x="935.45" y="1306.61" width="12.5" height="7.27" fill="#000"/><circle cx="941.70" cy="1311.80" r="4.85" fill="#000"/></g><path d="M918.90,1304.80 H912.50 V1318.80 H918.90 M962.70,1304.80 H969.10 V1318.80 H962.70" fill="none" stroke="#000" stroke-width="1.9"/><path d="M924.70,1311.80 H935.85 M947.55,1311.80 H958.70" stroke="#000" stroke-width="2.3" fill="none"/><circle cx="941.70" cy="1311.80" r="4.85" fill="none" stroke="#000" stroke-width="2"/>
<g opacity="0.4"><rect x="996.85" y="1304.50" width="12.5" height="7.50" fill="#000"/><circle cx="1003.10" cy="1308.30" r="4.85" fill="#000"/></g><path d="M980.00,1301.30 H973.60 V1315.30 H980.00 M1024.70,1301.30 H1031.10 V1315.30 H1024.70" fill="none" stroke="#000" stroke-width="1.9"/><path d="M986.10,1308.30 H997.25 M1008.95,1308.30 H1020.10" stroke="#000" stroke-width="2.3" fill="none"/><circle cx="1003.10" cy="1308.30" r="4.85" fill="none" stroke="#000" stroke-width="2"/>
<path d="M95.3,682 V1364.7 H1033.3" fill="none" stroke="#000" stroke-width="2.2"/>
<line x1="95.30" y1="1315.75" x2="118.50" y2="1315.75" stroke="#000" stroke-width="2.2"/>
<text x="81" y="1328.55" font-size="28.7" text-anchor="end">1</text>
<line x1="95.30" y1="1218.25" x2="118.50" y2="1218.25" stroke="#000" stroke-width="2.2"/>
<text x="81" y="1231.05" font-size="28.7" text-anchor="end">2</text>
<line x1="95.30" y1="1120.75" x2="118.50" y2="1120.75" stroke="#000" stroke-width="2.2"/>
<text x="81" y="1133.55" font-size="28.7" text-anchor="end">3</text>
<line x1="95.30" y1="1023.25" x2="118.50" y2="1023.25" stroke="#000" stroke-width="2.2"/>
<text x="81" y="1036.05" font-size="28.7" text-anchor="end">4</text>
<line x1="95.30" y1="925.75" x2="118.50" y2="925.75" stroke="#000" stroke-width="2.2"/>
<text x="81" y="938.55" font-size="28.7" text-anchor="end">5</text>
<line x1="95.30" y1="828.25" x2="118.50" y2="828.25" stroke="#000" stroke-width="2.2"/>
<text x="81" y="841.05" font-size="28.7" text-anchor="end">6</text>
<line x1="95.30" y1="730.75" x2="118.50" y2="730.75" stroke="#000" stroke-width="2.2"/>
<text x="81" y="743.55" font-size="28.7" text-anchor="end">7</text>
<line x1="402.30" y1="1364.70" x2="402.30" y2="1343.50" stroke="#000" stroke-width="2.2"/>
<line x1="710.00" y1="1364.70" x2="710.00" y2="1343.50" stroke="#000" stroke-width="2.2"/>
<line x1="1017.70" y1="1364.70" x2="1017.70" y2="1343.50" stroke="#000" stroke-width="2.2"/>
<text x="505.5" y="1432.3" font-size="28.7"><tspan font-style="italic">k</tspan>* (MeV/<tspan font-style="italic">c</tspan>)</text>
<text transform="translate(25.0,0) rotate(-90)" style="font-size:29px"><tspan x="-371.45" y="0" style="font-size:30.5px">C</tspan><tspan x="-349.60" y="0">(</tspan><tspan x="-343.98" y="0" font-style="italic">k</tspan><tspan x="-327.99" y="-5.59" style="font-size:24px">*</tspan><tspan x="-317.67" y="0">)</tspan></text>
<text transform="translate(25.0,0) rotate(-90)" style="font-size:29px"><tspan x="-1058.35" y="0" style="font-size:30.5px">C</tspan><tspan x="-1036.40" y="0">(</tspan><tspan x="-1026.08" y="0" font-style="italic">k</tspan><tspan x="-1004.39" y="-5.39" style="font-size:24px">*</tspan><tspan x="-994.47" y="0">)</tspan></text>
<text transform="translate(290.3,0) rotate(-90)" style="font-size:29px"><tspan x="-1027.55" y="0" style="font-size:30.5px">C</tspan><tspan x="-1006.40" y="0">(</tspan><tspan x="-999.08" y="0" font-style="italic">k</tspan><tspan x="-984.09" y="-5.19" style="font-size:24px">*</tspan><tspan x="-974.27" y="0">)</tspan></text>
<text x="-1" y="31" font-size="34" font-weight="bold" stroke="#000" stroke-width="1.1">a</text>
<text x="-1" y="713.5" font-size="34" font-weight="bold" stroke="#000" stroke-width="1.1">b</text>
<text x="83.88" y="1400.60" style="font-family:'Liberation Sans';font-size:28.7px">0</text>
<text x="377.01" y="1400.60" style="font-family:'Liberation Sans';font-size:28.7px">100</text>
<text x="686.81" y="1400.60" style="font-family:'Liberation Sans';font-size:28.7px">200</text>
<text x="991.61" y="1400.60" style="font-family:'Liberation Sans';font-size:28.7px">300</text>
<text x="905.72" y="99.70" style="font-family:'Liberation Sans';font-size:29px" font-style="italic">p</text>
<text x="924.00" y="99.70" style="font-family:'Liberation Sans';font-size:29px">–</text>
<text x="941.62" y="99.70" style="font-family:'Liberation Serif';font-size:30px" font-style="italic" stroke="#000" stroke-width="0.7">Ξ</text>
<text x="963.12" y="92.11" style="font-family:'Liberation Sans';font-size:22px">−</text>
<text x="905.92" y="783.60" style="font-family:'Liberation Sans';font-size:29px" font-style="italic">p</text>
<text x="924.50" y="783.60" style="font-family:'Liberation Sans';font-size:29px">–</text>
<text x="941.86" y="783.60" style="font-family:'Liberation Serif';font-size:30px" font-style="italic">Ω</text>
<text x="964.42" y="774.82" style="font-family:'Liberation Sans';font-size:22px">−</text>
<rect x="265" y="86.2" width="55.3" height="40.7" fill="#5d5d5d"/>
<circle cx="292.7" cy="107" r="7.6" fill="none" stroke="#000" stroke-width="2"/>
<rect x="264" y="142.7" width="57" height="43.1" rx="2.5" fill="#00cc00"/>
<rect x="264" y="201.5" width="57" height="42.3" rx="2.5" fill="#ff99cc"/>
<rect x="264" y="260" width="57" height="42.0" rx="2.5" fill="#ff9933"/>
<rect x="264" y="317.7" width="57" height="42.7" rx="2.5" fill="#3399ff"/>
<text x="331.94" y="120.00" style="font-family:'Liberation Sans';font-size:29px" textLength="146.76" lengthAdjust="spacingAndGlyphs">ALICE data</text>
<text x="331.47" y="178.00" style="font-family:'Liberation Sans';font-size:29px" textLength="120.19" lengthAdjust="spacingAndGlyphs">Coulomb</text>
<text x="331.49" y="234.80" style="font-family:'Liberation Sans';font-size:29px" textLength="119.26" lengthAdjust="spacingAndGlyphs">Coulomb</text>
<text x="459.38" y="234.80" style="font-family:'Liberation Sans';font-size:29px">+</text>
<text x="484.52" y="234.80" style="font-family:'Liberation Sans';font-size:29px" font-style="italic">p</text>
<text x="504.20" y="234.80" style="font-family:'Liberation Sans';font-size:29px">–</text>
<text x="522.02" y="234.80" style="font-family:'Liberation Serif';font-size:30px" font-style="italic" stroke="#000" stroke-width="0.7">Ξ</text>
<text x="544.12" y="227.92" style="font-family:'Liberation Sans';font-size:22px">−</text>
<text x="562.60" y="234.80" style="font-family:'Liberation Sans';font-size:29px" textLength="130.00" lengthAdjust="spacingAndGlyphs">HAL QCD</text>
<text x="331.49" y="293.50" style="font-family:'Liberation Sans';font-size:29px" textLength="119.26" lengthAdjust="spacingAndGlyphs">Coulomb</text>
<text x="459.38" y="293.50" style="font-family:'Liberation Sans';font-size:29px">+</text>
<text x="484.52" y="293.50" style="font-family:'Liberation Sans';font-size:29px" font-style="italic">p</text>
<text x="504.20" y="293.50" style="font-family:'Liberation Sans';font-size:29px">–</text>
<text x="523.16" y="293.50" style="font-family:'Liberation Serif';font-size:30px" font-style="italic">Ω</text>
<text x="546.62" y="286.62" style="font-family:'Liberation Sans';font-size:22px">−</text>
<text x="568.41" y="293.50" style="font-family:'Liberation Sans';font-size:29px" textLength="219.85" lengthAdjust="spacingAndGlyphs">HAL QCD elastic</text>
<text x="331.49" y="351.30" style="font-family:'Liberation Sans';font-size:29px" textLength="119.26" lengthAdjust="spacingAndGlyphs">Coulomb</text>
<text x="459.38" y="351.30" style="font-family:'Liberation Sans';font-size:29px">+</text>
<text x="484.52" y="351.30" style="font-family:'Liberation Sans';font-size:29px" font-style="italic">p</text>
<text x="504.20" y="351.30" style="font-family:'Liberation Sans';font-size:29px">–</text>
<text x="523.16" y="351.30" style="font-family:'Liberation Serif';font-size:30px" font-style="italic">Ω</text>
<text x="546.62" y="344.42" style="font-family:'Liberation Sans';font-size:22px">−</text>
<text x="568.40" y="351.30" style="font-family:'Liberation Sans';font-size:29px" textLength="360.58" lengthAdjust="spacingAndGlyphs">HAL QCD elastic + inelastic</text>
</svg></body></html>
